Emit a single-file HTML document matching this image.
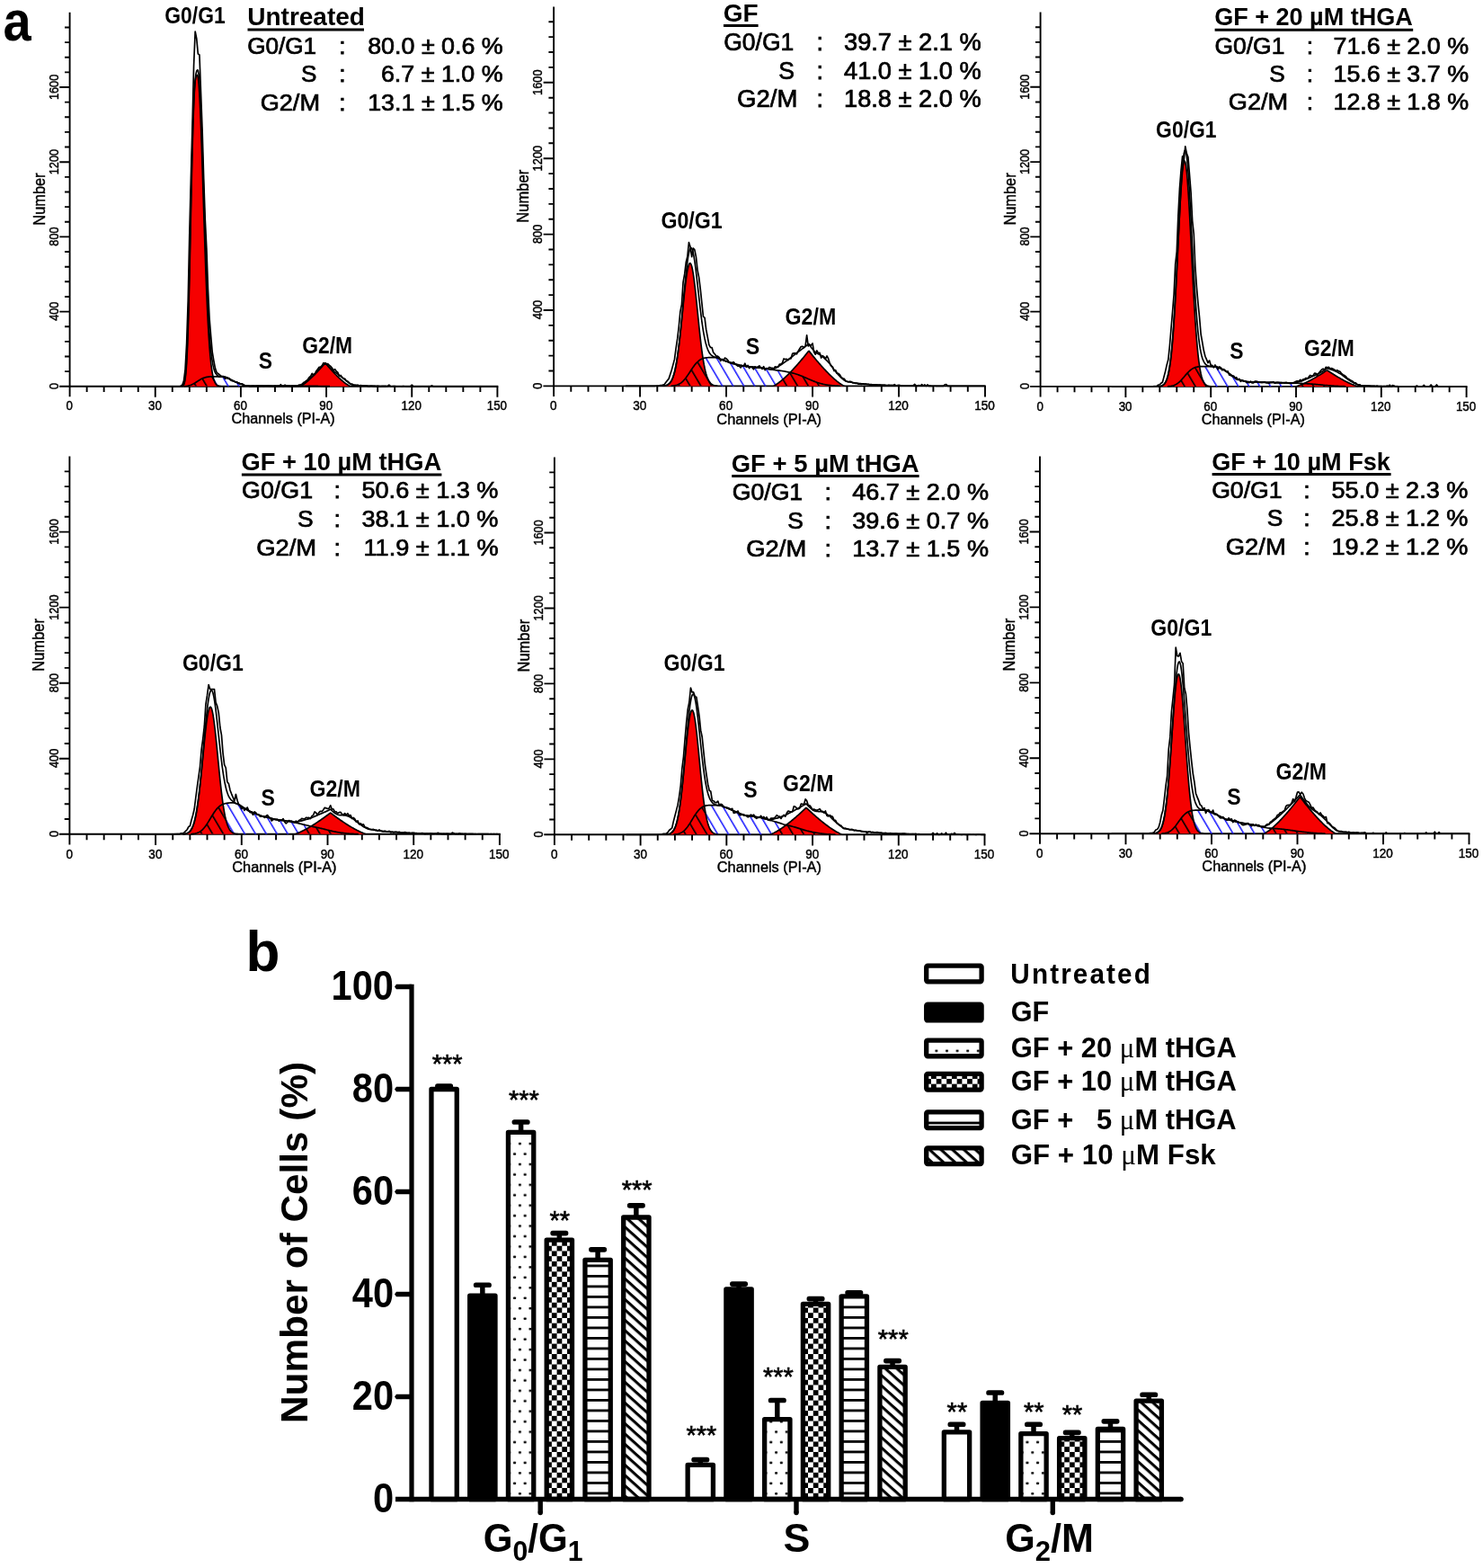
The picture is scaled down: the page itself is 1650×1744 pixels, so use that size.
<!DOCTYPE html>
<html><head><meta charset="utf-8"><title>Cell cycle analysis</title>
<style>html,body{margin:0;padding:0;background:#fff;}svg{display:block;}</style></head>
<body><svg width="1650" height="1744" viewBox="0 0 1650 1744">
<defs><pattern id="hb" patternUnits="userSpaceOnUse" width="10.3" height="60" patternTransform="rotate(-30.5)"><rect x="0" y="0" width="1.55" height="60" fill="#1b1bff"/></pattern>
<pattern id="hk" patternUnits="userSpaceOnUse" width="10.3" height="60" patternTransform="rotate(-30.5)"><rect x="0" y="0" width="1.6" height="60" fill="#000"/></pattern>
<clipPath id="rc0"><path d="M202.1 429.8L202.1 429.63L202.89 429.35L203.69 428.68L204.48 427.27L205.27 424.51L206.07 419.58L206.86 411.44L207.65 399.01L208.44 381.39L209.24 358.14L210.03 329.49L210.82 296.46L211.62 260.73L212.41 224.47L213.2 189.9L214 158.99L214.79 133.17L215.58 113.17L216.37 99.01L217.17 90.12L217.96 85.46L218.75 83.73L219.55 83.48L220.34 85.93L221.13 93.16L221.93 104.89L222.72 120.62L223.51 139.73L224.3 161.49L225.1 185.11L225.89 209.8L226.68 234.78L227.48 259.36L228.27 282.93L229.06 305.03L229.86 325.3L230.65 343.5L231.44 359.54L232.23 373.4L233.03 385.17L233.82 394.98L234.61 403.01L235.41 409.48L236.2 414.61L236.99 418.6L237.79 421.66L238.58 423.97L239.37 425.68L240.16 426.93L240.96 427.83L241.75 428.46L242.54 428.91L243.34 429.21L244.13 429.42L244.92 429.56L245.72 429.65L245.72 429.8Z"/><path d="M333.74 429.8L333.74 429.67L334.53 429.34L335.32 428.94L336.12 428.49L336.91 427.99L337.7 427.47L338.5 426.91L339.29 426.33L340.08 425.73L340.88 425.1L341.67 424.45L342.46 423.79L343.25 423.11L344.05 422.41L344.84 421.69L345.63 420.96L346.43 420.22L347.22 419.46L348.01 418.69L348.81 417.91L349.6 417.12L350.39 416.31L351.18 415.49L351.98 414.66L352.77 413.82L353.56 412.98L354.36 412.12L355.15 411.25L355.94 410.37L356.74 409.48L357.53 408.58L358.32 407.68L359.12 406.76L359.91 405.84L360.7 404.91L361.49 403.97L362.29 404.16L363.08 405.1L363.87 406.03L364.67 406.95L365.46 407.86L366.25 408.76L367.04 409.66L367.84 410.54L368.63 411.42L369.42 412.29L370.22 413.15L371.01 413.99L371.8 414.83L372.6 415.66L373.39 416.47L374.18 417.28L374.98 418.07L375.77 418.85L376.56 419.62L377.35 420.37L378.15 421.11L378.94 421.84L379.73 422.55L380.53 423.24L381.32 423.92L382.11 424.58L382.9 425.23L383.7 425.85L384.49 426.45L385.28 427.02L386.08 427.57L386.87 428.09L387.66 428.58L388.46 429.02L389.25 429.42L389.25 429.8Z"/></clipPath>
<clipPath id="rc1"><path d="M736.87 429.4L736.87 429.26L737.67 429.2L738.47 429.12L739.27 429.01L740.07 428.86L740.87 428.66L741.67 428.4L742.47 428.05L743.27 427.6L744.07 427.02L744.87 426.29L745.67 425.37L746.47 424.22L747.27 422.8L748.07 421.08L748.87 419L749.67 416.52L750.47 413.6L751.27 410.19L752.07 406.27L752.87 401.8L753.67 396.77L754.47 391.17L755.27 385.04L756.07 378.38L756.87 371.28L757.67 363.79L758.47 356.02L759.27 348.09L760.07 340.12L760.87 332.28L761.67 324.73L762.47 317.62L763.27 311.13L764.07 305.42L764.87 300.63L765.67 296.88L766.47 294.28L767.27 292.9L768.07 292.77L768.87 293.91L769.67 296.27L770.47 299.79L771.27 304.38L772.07 309.92L772.87 316.27L773.67 323.26L774.47 330.74L775.27 338.54L776.07 346.49L776.87 354.44L777.67 362.26L778.47 369.81L779.27 377L780.07 383.74L780.87 389.99L781.67 395.69L782.47 400.84L783.27 405.42L784.07 409.45L784.86 412.96L785.66 415.97L786.46 418.54L787.26 420.69L788.06 422.48L788.86 423.96L789.66 425.16L790.46 426.12L791.26 426.89L792.06 427.5L792.86 427.97L793.66 428.34L794.46 428.61L795.26 428.83L796.06 428.98L796.86 429.1L797.66 429.19L798.46 429.25L798.46 429.4Z"/><path d="M860.85 429.4L860.85 429.09L861.65 428.72L862.45 428.3L863.25 427.83L864.05 427.33L864.85 426.8L865.65 426.24L866.45 425.66L867.25 425.05L868.05 424.43L868.85 423.79L869.65 423.13L870.45 422.45L871.25 421.76L872.05 421.05L872.85 420.33L873.65 419.6L874.45 418.85L875.25 418.09L876.05 417.32L876.85 416.54L877.65 415.74L878.45 414.94L879.25 414.12L880.05 413.3L880.84 412.46L881.64 411.61L882.44 410.76L883.24 409.9L884.04 409.02L884.84 408.14L885.64 407.25L886.44 406.35L887.24 405.45L888.04 404.53L888.84 403.61L889.64 402.68L890.44 401.74L891.24 400.8L892.04 399.85L892.84 398.89L893.64 397.92L894.44 396.95L895.24 395.97L896.04 394.98L896.84 393.99L897.64 392.99L898.44 391.98L899.24 390.97L900.04 390.36L900.84 391.37L901.64 392.38L902.44 393.39L903.24 394.38L904.04 395.38L904.84 396.36L905.64 397.34L906.44 398.31L907.24 399.27L908.04 400.23L908.84 401.18L909.64 402.12L910.44 403.05L911.24 403.98L912.04 404.9L912.84 405.81L913.64 406.71L914.44 407.61L915.24 408.49L916.04 409.37L916.84 410.24L917.64 411.1L918.44 411.95L919.24 412.79L920.04 413.63L920.84 414.45L921.64 415.26L922.44 416.06L923.24 416.85L924.04 417.63L924.84 418.4L925.64 419.15L926.44 419.89L927.24 420.62L928.04 421.34L928.83 422.04L929.63 422.72L930.43 423.39L931.23 424.05L932.03 424.68L932.83 425.3L933.63 425.89L934.43 426.47L935.23 427.01L936.03 427.53L936.83 428.02L937.63 428.47L938.43 428.88L939.23 429.22L939.23 429.4Z"/></clipPath>
<clipPath id="rc2"><path d="M1288.74 429.9L1288.74 429.75L1289.53 429.68L1290.32 429.58L1291.11 429.43L1291.9 429.22L1292.69 428.93L1293.48 428.54L1294.27 428L1295.06 427.29L1295.85 426.34L1296.64 425.1L1297.43 423.5L1298.22 421.46L1299.01 418.89L1299.8 415.7L1300.59 411.77L1301.38 407L1302.17 401.29L1302.96 394.55L1303.75 386.68L1304.54 377.64L1305.33 367.39L1306.12 355.93L1306.91 343.32L1307.7 329.66L1308.49 315.09L1309.28 299.82L1310.07 284.12L1310.86 268.28L1311.65 252.66L1312.44 237.62L1313.23 223.56L1314.02 210.87L1314.81 199.9L1315.6 190.99L1316.39 184.42L1317.18 180.39L1317.97 179.03L1318.76 180.39L1319.55 184.42L1320.34 190.99L1321.13 199.9L1321.92 210.87L1322.71 223.56L1323.5 237.62L1324.29 252.66L1325.08 268.28L1325.87 284.12L1326.66 299.82L1327.45 315.09L1328.24 329.66L1329.03 343.32L1329.82 355.93L1330.61 367.39L1331.4 377.64L1332.19 386.68L1332.98 394.55L1333.77 401.29L1334.56 407L1335.35 411.77L1336.14 415.7L1336.93 418.89L1337.72 421.46L1338.51 423.5L1339.3 425.1L1340.09 426.34L1340.88 427.29L1341.67 428L1342.46 428.54L1343.25 428.93L1344.04 429.22L1344.83 429.43L1345.62 429.58L1346.41 429.68L1347.2 429.75L1347.2 429.9Z"/><path d="M1442 429.9L1442 429.74L1442.79 429.54L1443.58 429.31L1444.37 429.07L1445.16 428.8L1445.95 428.52L1446.74 428.22L1447.53 427.91L1448.32 427.59L1449.11 427.25L1449.9 426.91L1450.69 426.56L1451.48 426.2L1452.27 425.83L1453.06 425.46L1453.85 425.07L1454.64 424.68L1455.43 424.28L1456.22 423.88L1457.01 423.47L1457.8 423.05L1458.59 422.63L1459.38 422.2L1460.17 421.77L1460.96 421.33L1461.75 420.88L1462.54 420.43L1463.33 419.98L1464.12 419.52L1464.91 419.05L1465.7 418.58L1466.49 418.11L1467.28 417.63L1468.07 417.15L1468.86 416.66L1469.65 416.17L1470.44 415.68L1471.23 415.18L1472.02 414.67L1472.81 414.17L1473.6 413.66L1474.39 413.14L1475.18 412.62L1475.97 412.1L1476.76 412L1477.55 412.52L1478.34 413.04L1479.13 413.55L1479.92 414.07L1480.71 414.57L1481.5 415.08L1482.29 415.58L1483.08 416.07L1483.87 416.56L1484.66 417.05L1485.45 417.54L1486.24 418.01L1487.03 418.49L1487.82 418.96L1488.61 419.42L1489.4 419.89L1490.19 420.34L1490.98 420.79L1491.77 421.24L1492.56 421.68L1493.35 422.11L1494.14 422.54L1494.93 422.97L1495.72 423.39L1496.51 423.8L1497.3 424.2L1498.09 424.6L1498.88 425L1499.67 425.38L1500.46 425.76L1501.25 426.13L1502.04 426.49L1502.83 426.84L1503.62 427.19L1504.41 427.52L1505.2 427.84L1505.99 428.16L1506.78 428.46L1507.57 428.74L1508.36 429.01L1509.15 429.27L1509.94 429.5L1510.73 429.7L1510.73 429.9Z"/></clipPath>
<clipPath id="rc3"><path d="M203.41 927.8L203.41 927.65L204.2 927.58L205 927.49L205.8 927.37L206.59 927.21L207.39 926.99L208.19 926.7L208.99 926.32L209.78 925.83L210.58 925.2L211.38 924.4L212.18 923.4L212.97 922.16L213.77 920.63L214.57 918.78L215.37 916.55L216.16 913.89L216.96 910.77L217.76 907.14L218.56 902.96L219.35 898.21L220.15 892.89L220.95 886.98L221.75 880.51L222.55 873.52L223.34 866.07L224.14 858.25L224.94 850.16L225.74 841.92L226.53 833.69L227.33 825.61L228.13 817.86L228.93 810.62L229.72 804.04L230.52 798.31L231.32 793.55L232.12 789.9L232.91 787.45L233.71 786.28L234.51 786.41L235.31 787.84L236.1 790.54L236.9 794.42L237.7 799.38L238.5 805.3L239.29 812.02L240.09 819.38L240.89 827.2L241.69 835.33L242.48 843.57L243.28 851.79L244.08 859.84L244.88 867.6L245.67 874.96L246.47 881.85L247.27 888.2L248.06 894L248.86 899.21L249.66 903.84L250.46 907.9L251.25 911.43L252.05 914.46L252.85 917.03L253.65 919.18L254.44 920.96L255.24 922.43L256.04 923.62L256.84 924.58L257.63 925.34L258.43 925.94L259.23 926.4L260.03 926.76L260.82 927.04L261.62 927.24L262.42 927.4L263.22 927.51L264.01 927.6L264.81 927.66L264.81 927.8Z"/><path d="M328.61 927.8L328.61 927.49L329.41 927.25L330.21 926.98L331 926.69L331.8 926.39L332.6 926.06L333.4 925.72L334.2 925.37L334.99 925L335.79 924.63L336.59 924.24L337.38 923.84L338.18 923.44L338.98 923.02L339.78 922.6L340.58 922.17L341.37 921.73L342.17 921.28L342.97 920.82L343.76 920.36L344.56 919.89L345.36 919.42L346.16 918.94L346.96 918.45L347.75 917.96L348.55 917.46L349.35 916.96L350.14 916.45L350.94 915.93L351.74 915.41L352.54 914.89L353.34 914.35L354.13 913.82L354.93 913.28L355.73 912.73L356.52 912.19L357.32 911.63L358.12 911.07L358.92 910.51L359.72 909.94L360.51 909.37L361.31 908.8L362.11 908.22L362.9 907.64L363.7 907.05L364.5 906.46L365.3 905.86L366.1 905.26L366.89 904.66L367.69 904.06L368.49 904.66L369.28 905.26L370.08 905.86L370.88 906.46L371.68 907.05L372.48 907.64L373.27 908.22L374.07 908.8L374.87 909.37L375.66 909.94L376.46 910.51L377.26 911.07L378.06 911.63L378.86 912.19L379.65 912.73L380.45 913.28L381.25 913.82L382.04 914.35L382.84 914.89L383.64 915.41L384.44 915.93L385.24 916.45L386.03 916.96L386.83 917.46L387.63 917.96L388.42 918.45L389.22 918.94L390.02 919.42L390.82 919.89L391.62 920.36L392.41 920.82L393.21 921.28L394.01 921.73L394.8 922.17L395.6 922.6L396.4 923.02L397.2 923.44L398 923.84L398.79 924.24L399.59 924.63L400.39 925L401.18 925.37L401.98 925.72L402.78 926.06L403.58 926.39L404.38 926.69L405.17 926.98L405.97 927.25L406.77 927.49L406.77 927.8Z"/></clipPath>
<clipPath id="rc4"><path d="M740.54 928.3L740.54 928.15L741.34 928.09L742.13 928L742.93 927.87L743.73 927.7L744.53 927.47L745.32 927.17L746.12 926.76L746.92 926.24L747.72 925.56L748.51 924.69L749.31 923.59L750.11 922.22L750.91 920.54L751.71 918.48L752.5 916L753.3 913.04L754.1 909.57L754.9 905.54L755.69 900.91L756.49 895.67L757.29 889.81L758.09 883.35L758.88 876.34L759.68 868.82L760.48 860.9L761.28 852.68L762.08 844.31L762.87 835.93L763.67 827.73L764.47 819.89L765.27 812.61L766.06 806.07L766.86 800.44L767.66 795.88L768.46 792.53L769.25 790.47L770.05 789.78L770.85 790.47L771.65 792.53L772.44 795.88L773.24 800.44L774.04 806.07L774.84 812.61L775.64 819.89L776.43 827.73L777.23 835.93L778.03 844.31L778.83 852.68L779.62 860.9L780.42 868.82L781.22 876.34L782.02 883.35L782.81 889.81L783.61 895.67L784.41 900.91L785.21 905.54L786.01 909.57L786.8 913.04L787.6 916L788.4 918.48L789.2 920.54L789.99 922.22L790.79 923.59L791.59 924.69L792.39 925.56L793.18 926.24L793.98 926.76L794.78 927.17L795.58 927.47L796.38 927.7L797.17 927.87L797.97 928L798.77 928.09L799.57 928.15L799.57 928.3Z"/><path d="M857 928.3L857 928.12L857.8 927.86L858.59 927.55L859.39 927.21L860.19 926.84L860.99 926.45L861.78 926.04L862.58 925.61L863.38 925.17L864.18 924.71L864.97 924.24L865.77 923.75L866.57 923.25L867.37 922.74L868.16 922.22L868.96 921.68L869.76 921.14L870.56 920.59L871.36 920.03L872.15 919.46L872.95 918.88L873.75 918.29L874.55 917.7L875.34 917.09L876.14 916.48L876.94 915.86L877.74 915.24L878.53 914.61L879.33 913.97L880.13 913.32L880.93 912.67L881.73 912.01L882.52 911.34L883.32 910.67L884.12 910L884.92 909.31L885.71 908.63L886.51 907.93L887.31 907.23L888.11 906.53L888.9 905.82L889.7 905.1L890.5 904.38L891.3 903.65L892.1 902.92L892.89 902.19L893.69 901.45L894.49 900.7L895.29 899.95L896.08 899.2L896.88 898.44L897.68 898.9L898.48 899.65L899.27 900.4L900.07 901.15L900.87 901.89L901.67 902.63L902.46 903.36L903.26 904.09L904.06 904.81L904.86 905.53L905.66 906.24L906.45 906.95L907.25 907.65L908.05 908.35L908.85 909.04L909.64 909.72L910.44 910.4L911.24 911.08L912.04 911.74L912.83 912.41L913.63 913.06L914.43 913.71L915.23 914.35L916.03 914.99L916.82 915.61L917.62 916.23L918.42 916.85L919.22 917.46L920.01 918.05L920.81 918.64L921.61 919.23L922.41 919.8L923.2 920.37L924 920.92L924.8 921.47L925.6 922L926.39 922.53L927.19 923.05L927.99 923.55L928.79 924.04L929.59 924.52L930.38 924.99L931.18 925.44L931.98 925.87L932.78 926.29L933.57 926.69L934.37 927.06L935.17 927.42L935.97 927.74L936.76 928.02L936.76 928.3Z"/></clipPath>
<clipPath id="rc5"><path d="M1283.54 927.2L1283.54 927.01L1284.33 926.92L1285.13 926.8L1285.92 926.62L1286.72 926.37L1287.52 926.04L1288.31 925.58L1289.11 924.97L1289.9 924.16L1290.7 923.1L1291.5 921.74L1292.29 920.01L1293.09 917.84L1293.88 915.16L1294.68 911.87L1295.47 907.91L1296.27 903.2L1297.07 897.68L1297.86 891.29L1298.66 884.01L1299.45 875.84L1300.25 866.81L1301.05 857L1301.84 846.5L1302.64 835.49L1303.43 824.15L1304.23 812.7L1305.03 801.42L1305.82 790.58L1306.62 780.48L1307.41 771.41L1308.21 763.63L1309 757.4L1309.8 752.92L1310.6 750.34L1311.39 749.74L1312.19 751.14L1312.98 754.5L1313.78 759.7L1314.58 766.57L1315.37 774.89L1316.17 784.41L1316.96 794.84L1317.76 805.9L1318.55 817.28L1319.35 828.71L1320.15 839.95L1320.94 850.77L1321.74 861.01L1322.53 870.52L1323.33 879.21L1324.12 887.03L1324.92 893.95L1325.72 899.99L1326.51 905.18L1327.31 909.58L1328.1 913.26L1328.9 916.3L1329.7 918.77L1330.49 920.75L1331.29 922.33L1332.08 923.56L1332.88 924.51L1333.67 925.23L1334.47 925.78L1335.27 926.18L1336.06 926.48L1336.86 926.7L1337.65 926.85L1338.45 926.96L1339.25 927.04L1339.25 927.2Z"/><path d="M1406.89 927.2L1406.89 926.89L1407.69 926.51L1408.48 926.08L1409.28 925.6L1410.08 925.09L1410.87 924.54L1411.67 923.97L1412.46 923.38L1413.26 922.76L1414.05 922.13L1414.85 921.47L1415.65 920.8L1416.44 920.1L1417.24 919.4L1418.03 918.68L1418.83 917.94L1419.62 917.19L1420.42 916.43L1421.22 915.65L1422.01 914.86L1422.81 914.06L1423.6 913.25L1424.4 912.43L1425.2 911.6L1425.99 910.75L1426.79 909.9L1427.58 909.04L1428.38 908.16L1429.17 907.28L1429.97 906.39L1430.77 905.49L1431.56 904.58L1432.36 903.66L1433.15 902.74L1433.95 901.8L1434.75 900.86L1435.54 899.91L1436.34 898.96L1437.13 897.99L1437.93 897.02L1438.72 896.04L1439.52 895.05L1440.32 894.06L1441.11 893.06L1441.91 892.05L1442.7 891.04L1443.5 890.02L1444.3 888.99L1445.09 887.95L1445.89 886.91L1446.68 886.7L1447.48 887.75L1448.28 888.78L1449.07 889.81L1449.87 890.83L1450.66 891.85L1451.46 892.86L1452.25 893.86L1453.05 894.85L1453.85 895.84L1454.64 896.82L1455.44 897.8L1456.23 898.76L1457.03 899.72L1457.83 900.67L1458.62 901.62L1459.42 902.55L1460.21 903.48L1461.01 904.4L1461.8 905.31L1462.6 906.21L1463.4 907.1L1464.19 907.99L1464.99 908.86L1465.78 909.73L1466.58 910.58L1467.38 911.43L1468.17 912.26L1468.97 913.09L1469.76 913.9L1470.56 914.7L1471.35 915.49L1472.15 916.27L1472.95 917.04L1473.74 917.79L1474.54 918.53L1475.33 919.25L1476.13 919.96L1476.92 920.66L1477.72 921.34L1478.52 922L1479.31 922.64L1480.11 923.26L1480.9 923.86L1481.7 924.43L1482.5 924.98L1483.29 925.5L1484.09 925.98L1484.88 926.43L1485.68 926.82L1485.68 927.2Z"/></clipPath>
<pattern id="p02" patternUnits="userSpaceOnUse" x="576.9" y="1660.1" width="11.6" height="22.9"><rect x="0" y="0" width="3" height="2.6" rx="0.8" fill="#000"/><rect x="5.75" y="11.45" width="3" height="2.6" rx="0.8" fill="#000"/></pattern>
<pattern id="p03" patternUnits="userSpaceOnUse" x="613.85" y="1666.5" width="11.46" height="11.46"><rect x="0" y="0" width="5.73" height="5.73" fill="#000"/><rect x="5.73" y="5.73" width="5.73" height="5.73" fill="#000"/></pattern>
<pattern id="p04" patternUnits="userSpaceOnUse" x="653.6" y="1659.5" width="40" height="11.5"><rect x="0" y="0" width="40" height="2.8" fill="#000"/></pattern>
<pattern id="p05" patternUnits="userSpaceOnUse" x="696.35" y="1667.5" width="60" height="8.55" patternTransform="rotate(42)"><rect x="0" y="0" width="60" height="3.1" fill="#000"/></pattern>
<pattern id="p12" patternUnits="userSpaceOnUse" x="862.1" y="1660.1" width="11.6" height="22.9"><rect x="0" y="0" width="3" height="2.6" rx="0.8" fill="#000"/><rect x="5.75" y="11.45" width="3" height="2.6" rx="0.8" fill="#000"/></pattern>
<pattern id="p13" patternUnits="userSpaceOnUse" x="899.05" y="1666.5" width="11.46" height="11.46"><rect x="0" y="0" width="5.73" height="5.73" fill="#000"/><rect x="5.73" y="5.73" width="5.73" height="5.73" fill="#000"/></pattern>
<pattern id="p14" patternUnits="userSpaceOnUse" x="938.8" y="1659.5" width="40" height="11.5"><rect x="0" y="0" width="40" height="2.8" fill="#000"/></pattern>
<pattern id="p15" patternUnits="userSpaceOnUse" x="981.55" y="1667.5" width="60" height="8.55" patternTransform="rotate(42)"><rect x="0" y="0" width="60" height="3.1" fill="#000"/></pattern>
<pattern id="p22" patternUnits="userSpaceOnUse" x="1147.3" y="1660.1" width="11.6" height="22.9"><rect x="0" y="0" width="3" height="2.6" rx="0.8" fill="#000"/><rect x="5.75" y="11.45" width="3" height="2.6" rx="0.8" fill="#000"/></pattern>
<pattern id="p23" patternUnits="userSpaceOnUse" x="1184.25" y="1666.5" width="11.46" height="11.46"><rect x="0" y="0" width="5.73" height="5.73" fill="#000"/><rect x="5.73" y="5.73" width="5.73" height="5.73" fill="#000"/></pattern>
<pattern id="p24" patternUnits="userSpaceOnUse" x="1224" y="1659.5" width="40" height="11.5"><rect x="0" y="0" width="40" height="2.8" fill="#000"/></pattern>
<pattern id="p25" patternUnits="userSpaceOnUse" x="1266.75" y="1667.5" width="60" height="8.55" patternTransform="rotate(42)"><rect x="0" y="0" width="60" height="3.1" fill="#000"/></pattern>
<pattern id="lp2" patternUnits="userSpaceOnUse" x="1040.4" y="1167.6" width="11.6" height="22.9"><rect x="0" y="0" width="3" height="2.6" rx="0.8" fill="#000"/><rect x="5.75" y="11.45" width="3" height="2.6" rx="0.8" fill="#000"/></pattern>
<pattern id="lp3" patternUnits="userSpaceOnUse" x="1036" y="1194.2" width="11.46" height="11.46"><rect x="0" y="0" width="5.73" height="5.73" fill="#000"/><rect x="5.73" y="5.73" width="5.73" height="5.73" fill="#000"/></pattern>
<pattern id="lp4" patternUnits="userSpaceOnUse" x="1030" y="1247.6" width="40" height="11.5"><rect x="0" y="0" width="40" height="2.8" fill="#000"/></pattern>
<pattern id="lp5" patternUnits="userSpaceOnUse" x="1030" y="1274.2" width="60" height="8.55" patternTransform="rotate(42)"><rect x="0" y="0" width="60" height="3.1" fill="#000"/></pattern></defs>
<rect width="1650" height="1744" fill="#fff"/>
<g stroke="#000" stroke-width="1.9" fill="none">
<path d="M77.6 13.8V441.3"/>
<path d="M66.1 429.8H554.35"/>
<path d="M96.63 429.8v6.3M115.66 429.8v6.3M134.7 429.8v6.3M153.73 429.8v6.3M172.76 429.8v12M191.79 429.8v6.3M210.82 429.8v6.3M229.86 429.8v6.3M248.89 429.8v6.3M267.92 429.8v12M286.95 429.8v6.3M305.98 429.8v6.3M325.02 429.8v6.3M344.05 429.8v6.3M363.08 429.8v12M382.11 429.8v6.3M401.14 429.8v6.3M420.18 429.8v6.3M439.21 429.8v6.3M458.24 429.8v12M477.27 429.8v6.3M496.3 429.8v6.3M515.34 429.8v6.3M534.37 429.8v6.3M553.4 429.8v12"/>
<path d="M77.6 413.16h-5.6M77.6 396.52h-5.6M77.6 379.88h-5.6M77.6 363.24h-5.6M77.6 346.6h-11.3M77.6 329.96h-5.6M77.6 313.32h-5.6M77.6 296.68h-5.6M77.6 280.04h-5.6M77.6 263.4h-11.3M77.6 246.76h-5.6M77.6 230.12h-5.6M77.6 213.48h-5.6M77.6 196.84h-5.6M77.6 180.2h-11.3M77.6 163.56h-5.6M77.6 146.92h-5.6M77.6 130.28h-5.6M77.6 113.64h-5.6M77.6 97h-11.3M77.6 80.36h-5.6M77.6 63.72h-5.6M77.6 47.08h-5.6M77.6 30.44h-5.6"/>
</g>
<path d="M204.48 429.8L204.48 429.66L205.27 429.62L206.07 429.55L206.86 429.48L207.65 429.38L208.44 429.25L209.24 429.1L210.03 428.92L210.82 428.71L211.62 428.46L212.41 428.18L213.2 427.86L214 427.5L214.79 427.11L215.58 426.68L216.37 426.22L217.17 425.74L217.96 425.23L218.75 424.72L219.55 424.19L220.34 423.67L221.13 423.16L221.93 422.67L222.72 422.2L223.51 421.76L224.3 421.35L225.1 420.97L225.89 420.64L226.68 420.34L227.48 420.07L228.27 419.83L229.06 419.62L229.86 419.45L230.65 419.3L231.44 419.18L232.23 419.09L233.03 419.01L233.82 418.95L234.61 418.91L235.41 418.87L236.2 418.84L236.99 418.82L237.79 418.81L238.58 418.84L239.37 418.87L240.16 418.9L240.96 418.94L241.75 418.97L242.54 419.01L243.34 419.04L244.13 419.08L244.92 419.12L245.72 419.16L246.51 419.19L247.3 419.23L248.09 419.27L248.89 419.31L249.68 419.35L250.47 419.38L251.27 419.63L252.06 420.01L252.85 420.39L253.65 420.78L254.44 421.16L255.23 421.54L256.02 421.92L256.82 422.31L257.61 422.69L258.4 423.07L259.2 423.45L259.99 423.84L260.78 424.22L261.58 424.6L262.37 424.9L263.16 425.19L263.95 425.49L264.75 425.79L265.54 426.09L266.33 426.38L267.13 426.68L267.92 426.98L268.71 427.27L269.51 427.57L270.3 427.87L271.09 428.17L271.88 428.46L272.68 428.76L273.47 428.86L274.26 428.97L275.06 429.07L275.85 429.18L276.64 429.28L277.44 429.38L278.23 429.38L279.02 429.38L279.81 429.38L280.61 429.38L281.4 429.38L282.19 429.38L282.99 429.38L283.78 429.38L284.57 429.38L285.37 429.38L286.16 429.38L286.95 429.38L287.75 429.38L288.54 429.38L289.33 429.38L290.12 429.38L290.92 429.38L291.71 429.38L292.5 429.38L293.3 429.38L294.09 429.38L294.88 429.38L295.67 429.38L296.47 429.38L297.26 429.38L298.05 429.38L298.85 429.38L299.64 429.38L300.43 429.38L301.23 429.38L302.02 429.38L302.81 429.38L303.6 429.38L304.4 429.38L305.19 429.38L305.98 429.38L306.78 429.38L307.57 429.38L308.36 429.38L309.16 429.38L309.95 429.38L310.74 429.38L311.53 429.38L312.33 429.38L313.12 429.38L313.91 429.38L314.71 429.38L315.5 429.38L316.29 429.38L317.09 429.38L317.88 429.38L318.67 429.38L319.46 429.38L320.26 429.38L321.05 429.38L321.84 429.38L322.64 429.38L323.43 429.38L324.22 429.38L325.02 429.38L325.81 429.38L326.6 429.38L327.39 429.38L328.19 429.38L328.98 429.38L329.77 429.38L330.57 429.38L331.36 429.38L332.15 429.39L332.95 429.39L333.74 429.39L334.53 429.39L335.32 429.39L336.12 429.39L336.91 429.39L337.7 429.39L338.5 429.39L339.29 429.39L340.08 429.39L340.88 429.39L341.67 429.4L342.46 429.4L343.25 429.4L344.05 429.4L344.84 429.41L345.63 429.41L346.43 429.41L347.22 429.42L348.01 429.42L348.81 429.43L349.6 429.44L350.39 429.44L351.18 429.45L351.98 429.46L352.77 429.47L353.56 429.47L354.36 429.48L355.15 429.49L355.94 429.5L356.74 429.52L357.53 429.53L358.32 429.54L359.12 429.55L359.91 429.56L360.7 429.57L361.49 429.59L362.29 429.6L363.08 429.61L363.87 429.62L364.67 429.64L365.46 429.65L366.25 429.66L367.04 429.67L367.04 429.8Z" fill="url(#hb)"/>
<path d="M202.1 429.8L202.1 429.63L202.89 429.35L203.69 428.68L204.48 427.27L205.27 424.51L206.07 419.58L206.86 411.44L207.65 399.01L208.44 381.39L209.24 358.14L210.03 329.49L210.82 296.46L211.62 260.73L212.41 224.47L213.2 189.9L214 158.99L214.79 133.17L215.58 113.17L216.37 99.01L217.17 90.12L217.96 85.46L218.75 83.73L219.55 83.48L220.34 85.93L221.13 93.16L221.93 104.89L222.72 120.62L223.51 139.73L224.3 161.49L225.1 185.11L225.89 209.8L226.68 234.78L227.48 259.36L228.27 282.93L229.06 305.03L229.86 325.3L230.65 343.5L231.44 359.54L232.23 373.4L233.03 385.17L233.82 394.98L234.61 403.01L235.41 409.48L236.2 414.61L236.99 418.6L237.79 421.66L238.58 423.97L239.37 425.68L240.16 426.93L240.96 427.83L241.75 428.46L242.54 428.91L243.34 429.21L244.13 429.42L244.92 429.56L245.72 429.65L245.72 429.8Z" fill="#f60000"/>
<path d="M333.74 429.8L333.74 429.67L334.53 429.34L335.32 428.94L336.12 428.49L336.91 427.99L337.7 427.47L338.5 426.91L339.29 426.33L340.08 425.73L340.88 425.1L341.67 424.45L342.46 423.79L343.25 423.11L344.05 422.41L344.84 421.69L345.63 420.96L346.43 420.22L347.22 419.46L348.01 418.69L348.81 417.91L349.6 417.12L350.39 416.31L351.18 415.49L351.98 414.66L352.77 413.82L353.56 412.98L354.36 412.12L355.15 411.25L355.94 410.37L356.74 409.48L357.53 408.58L358.32 407.68L359.12 406.76L359.91 405.84L360.7 404.91L361.49 403.97L362.29 404.16L363.08 405.1L363.87 406.03L364.67 406.95L365.46 407.86L366.25 408.76L367.04 409.66L367.84 410.54L368.63 411.42L369.42 412.29L370.22 413.15L371.01 413.99L371.8 414.83L372.6 415.66L373.39 416.47L374.18 417.28L374.98 418.07L375.77 418.85L376.56 419.62L377.35 420.37L378.15 421.11L378.94 421.84L379.73 422.55L380.53 423.24L381.32 423.92L382.11 424.58L382.9 425.23L383.7 425.85L384.49 426.45L385.28 427.02L386.08 427.57L386.87 428.09L387.66 428.58L388.46 429.02L389.25 429.42L389.25 429.8Z" fill="#f60000"/>
<path d="M204.48 429.8L204.48 429.66L205.27 429.62L206.07 429.55L206.86 429.48L207.65 429.38L208.44 429.25L209.24 429.1L210.03 428.92L210.82 428.71L211.62 428.46L212.41 428.18L213.2 427.86L214 427.5L214.79 427.11L215.58 426.68L216.37 426.22L217.17 425.74L217.96 425.23L218.75 424.72L219.55 424.19L220.34 423.67L221.13 423.16L221.93 422.67L222.72 422.2L223.51 421.76L224.3 421.35L225.1 420.97L225.89 420.64L226.68 420.34L227.48 420.07L228.27 419.83L229.06 419.62L229.86 419.45L230.65 419.3L231.44 419.18L232.23 419.09L233.03 419.01L233.82 418.95L234.61 418.91L235.41 418.87L236.2 418.84L236.99 418.82L237.79 418.81L238.58 418.84L239.37 418.87L240.16 418.9L240.96 418.94L241.75 418.97L242.54 419.01L243.34 419.04L244.13 419.08L244.92 419.12L245.72 419.16L246.51 419.19L247.3 419.23L248.09 419.27L248.89 419.31L249.68 419.35L250.47 419.38L251.27 419.63L252.06 420.01L252.85 420.39L253.65 420.78L254.44 421.16L255.23 421.54L256.02 421.92L256.82 422.31L257.61 422.69L258.4 423.07L259.2 423.45L259.99 423.84L260.78 424.22L261.58 424.6L262.37 424.9L263.16 425.19L263.95 425.49L264.75 425.79L265.54 426.09L266.33 426.38L267.13 426.68L267.92 426.98L268.71 427.27L269.51 427.57L270.3 427.87L271.09 428.17L271.88 428.46L272.68 428.76L273.47 428.86L274.26 428.97L275.06 429.07L275.85 429.18L276.64 429.28L277.44 429.38L278.23 429.38L279.02 429.38L279.81 429.38L280.61 429.38L281.4 429.38L282.19 429.38L282.99 429.38L283.78 429.38L284.57 429.38L285.37 429.38L286.16 429.38L286.95 429.38L287.75 429.38L288.54 429.38L289.33 429.38L290.12 429.38L290.92 429.38L291.71 429.38L292.5 429.38L293.3 429.38L294.09 429.38L294.88 429.38L295.67 429.38L296.47 429.38L297.26 429.38L298.05 429.38L298.85 429.38L299.64 429.38L300.43 429.38L301.23 429.38L302.02 429.38L302.81 429.38L303.6 429.38L304.4 429.38L305.19 429.38L305.98 429.38L306.78 429.38L307.57 429.38L308.36 429.38L309.16 429.38L309.95 429.38L310.74 429.38L311.53 429.38L312.33 429.38L313.12 429.38L313.91 429.38L314.71 429.38L315.5 429.38L316.29 429.38L317.09 429.38L317.88 429.38L318.67 429.38L319.46 429.38L320.26 429.38L321.05 429.38L321.84 429.38L322.64 429.38L323.43 429.38L324.22 429.38L325.02 429.38L325.81 429.38L326.6 429.38L327.39 429.38L328.19 429.38L328.98 429.38L329.77 429.38L330.57 429.38L331.36 429.38L332.15 429.39L332.95 429.39L333.74 429.39L334.53 429.39L335.32 429.39L336.12 429.39L336.91 429.39L337.7 429.39L338.5 429.39L339.29 429.39L340.08 429.39L340.88 429.39L341.67 429.4L342.46 429.4L343.25 429.4L344.05 429.4L344.84 429.41L345.63 429.41L346.43 429.41L347.22 429.42L348.01 429.42L348.81 429.43L349.6 429.44L350.39 429.44L351.18 429.45L351.98 429.46L352.77 429.47L353.56 429.47L354.36 429.48L355.15 429.49L355.94 429.5L356.74 429.52L357.53 429.53L358.32 429.54L359.12 429.55L359.91 429.56L360.7 429.57L361.49 429.59L362.29 429.6L363.08 429.61L363.87 429.62L364.67 429.64L365.46 429.65L366.25 429.66L367.04 429.67L367.04 429.8Z" fill="url(#hk)" clip-path="url(#rc0)"/>
<g fill="none" stroke="#000" stroke-width="1.7" stroke-linejoin="round">
<path d="M202.1 429.63L202.89 429.35L203.69 428.68L204.48 427.27L205.27 424.51L206.07 419.58L206.86 411.44L207.65 399.01L208.44 381.39L209.24 358.14L210.03 329.49L210.82 296.46L211.62 260.73L212.41 224.47L213.2 189.9L214 158.99L214.79 133.17L215.58 113.17L216.37 99.01L217.17 90.12L217.96 85.46L218.75 83.73L219.55 83.48L220.34 85.93L221.13 93.16L221.93 104.89L222.72 120.62L223.51 139.73L224.3 161.49L225.1 185.11L225.89 209.8L226.68 234.78L227.48 259.36L228.27 282.93L229.06 305.03L229.86 325.3L230.65 343.5L231.44 359.54L232.23 373.4L233.03 385.17L233.82 394.98L234.61 403.01L235.41 409.48L236.2 414.61L236.99 418.6L237.79 421.66L238.58 423.97L239.37 425.68L240.16 426.93L240.96 427.83L241.75 428.46L242.54 428.91L243.34 429.21L244.13 429.42L244.92 429.56L245.72 429.65"/>
<path d="M333.74 429.67L334.53 429.34L335.32 428.94L336.12 428.49L336.91 427.99L337.7 427.47L338.5 426.91L339.29 426.33L340.08 425.73L340.88 425.1L341.67 424.45L342.46 423.79L343.25 423.11L344.05 422.41L344.84 421.69L345.63 420.96L346.43 420.22L347.22 419.46L348.01 418.69L348.81 417.91L349.6 417.12L350.39 416.31L351.18 415.49L351.98 414.66L352.77 413.82L353.56 412.98L354.36 412.12L355.15 411.25L355.94 410.37L356.74 409.48L357.53 408.58L358.32 407.68L359.12 406.76L359.91 405.84L360.7 404.91L361.49 403.97L362.29 404.16L363.08 405.1L363.87 406.03L364.67 406.95L365.46 407.86L366.25 408.76L367.04 409.66L367.84 410.54L368.63 411.42L369.42 412.29L370.22 413.15L371.01 413.99L371.8 414.83L372.6 415.66L373.39 416.47L374.18 417.28L374.98 418.07L375.77 418.85L376.56 419.62L377.35 420.37L378.15 421.11L378.94 421.84L379.73 422.55L380.53 423.24L381.32 423.92L382.11 424.58L382.9 425.23L383.7 425.85L384.49 426.45L385.28 427.02L386.08 427.57L386.87 428.09L387.66 428.58L388.46 429.02L389.25 429.42"/>
<path d="M204.48 429.66L205.27 429.62L206.07 429.55L206.86 429.48L207.65 429.38L208.44 429.25L209.24 429.1L210.03 428.92L210.82 428.71L211.62 428.46L212.41 428.18L213.2 427.86L214 427.5L214.79 427.11L215.58 426.68L216.37 426.22L217.17 425.74L217.96 425.23L218.75 424.72L219.55 424.19L220.34 423.67L221.13 423.16L221.93 422.67L222.72 422.2L223.51 421.76L224.3 421.35L225.1 420.97L225.89 420.64L226.68 420.34L227.48 420.07L228.27 419.83L229.06 419.62L229.86 419.45L230.65 419.3L231.44 419.18L232.23 419.09L233.03 419.01L233.82 418.95L234.61 418.91L235.41 418.87L236.2 418.84L236.99 418.82L237.79 418.81L238.58 418.84L239.37 418.87L240.16 418.9L240.96 418.94L241.75 418.97L242.54 419.01L243.34 419.04L244.13 419.08L244.92 419.12L245.72 419.16L246.51 419.19L247.3 419.23L248.09 419.27L248.89 419.31L249.68 419.35L250.47 419.38L251.27 419.63L252.06 420.01L252.85 420.39L253.65 420.78L254.44 421.16L255.23 421.54L256.02 421.92L256.82 422.31L257.61 422.69L258.4 423.07L259.2 423.45L259.99 423.84L260.78 424.22L261.58 424.6L262.37 424.9L263.16 425.19L263.95 425.49L264.75 425.79L265.54 426.09L266.33 426.38L267.13 426.68L267.92 426.98L268.71 427.27L269.51 427.57L270.3 427.87L271.09 428.17L271.88 428.46L272.68 428.76L273.47 428.86L274.26 428.97L275.06 429.07L275.85 429.18L276.64 429.28L277.44 429.38L278.23 429.38L279.02 429.38L279.81 429.38L280.61 429.38L281.4 429.38L282.19 429.38L282.99 429.38L283.78 429.38L284.57 429.38L285.37 429.38L286.16 429.38L286.95 429.38L287.75 429.38L288.54 429.38L289.33 429.38L290.12 429.38L290.92 429.38L291.71 429.38L292.5 429.38L293.3 429.38L294.09 429.38L294.88 429.38L295.67 429.38L296.47 429.38L297.26 429.38L298.05 429.38L298.85 429.38L299.64 429.38L300.43 429.38L301.23 429.38L302.02 429.38L302.81 429.38L303.6 429.38L304.4 429.38L305.19 429.38L305.98 429.38L306.78 429.38L307.57 429.38L308.36 429.38L309.16 429.38L309.95 429.38L310.74 429.38L311.53 429.38L312.33 429.38L313.12 429.38L313.91 429.38L314.71 429.38L315.5 429.38L316.29 429.38L317.09 429.38L317.88 429.38L318.67 429.38L319.46 429.38L320.26 429.38L321.05 429.38L321.84 429.38L322.64 429.38L323.43 429.38L324.22 429.38L325.02 429.38L325.81 429.38L326.6 429.38L327.39 429.38L328.19 429.38L328.98 429.38L329.77 429.38L330.57 429.38L331.36 429.38L332.15 429.39L332.95 429.39L333.74 429.39L334.53 429.39L335.32 429.39L336.12 429.39L336.91 429.39L337.7 429.39L338.5 429.39L339.29 429.39L340.08 429.39L340.88 429.39L341.67 429.4L342.46 429.4L343.25 429.4L344.05 429.4L344.84 429.41L345.63 429.41L346.43 429.41L347.22 429.42L348.01 429.42L348.81 429.43L349.6 429.44L350.39 429.44L351.18 429.45L351.98 429.46L352.77 429.47L353.56 429.47L354.36 429.48L355.15 429.49L355.94 429.5L356.74 429.52L357.53 429.53L358.32 429.54L359.12 429.55L359.91 429.56L360.7 429.57L361.49 429.59L362.29 429.6L363.08 429.61L363.87 429.62L364.67 429.64L365.46 429.65L366.25 429.66L367.04 429.67"/>
<path d="M202.1 429.64L202.89 429.42L203.69 428.91L204.48 427.82L205.27 425.64L206.07 421.63L206.86 414.83L207.65 404.14L208.44 388.56L209.24 367.42L210.03 340.67L210.82 309.01L211.62 273.88L212.41 237.28L213.2 201.45L214 168.51L214.79 140.14L215.58 117.34L216.37 100.42L217.17 89.04L217.96 82.33L218.75 79.08L219.55 77.89L220.34 78.24L221.13 83.07L221.93 92.56L222.72 106.28L223.51 123.68L224.3 144.07L225.1 166.67L225.89 190.69L226.68 215.34L227.48 239.88L228.27 263.68L229.06 286.22L229.86 307.07L230.65 325.98L231.44 342.77L232.23 357.4L233.03 369.92L233.82 380.43L234.61 389.1L235.41 396.14L236.2 401.75L236.99 406.15L237.79 409.54L238.58 412.16L239.37 414.12L240.16 415.58L240.96 416.64L241.75 417.41L242.54 417.96L243.34 418.35L244.13 418.63L244.92 418.83L245.72 418.97L246.51 419.08L247.3 419.16L248.09 419.23L248.89 419.28L249.68 419.33L250.47 419.38L251.27 419.62L252.06 420.01L252.85 420.39L253.65 420.78L254.44 421.16L255.23 421.54L256.02 421.92L256.82 422.31L257.61 422.69L258.4 423.07L259.2 423.45L259.99 423.84L260.78 424.22L261.58 424.6L262.37 424.9L263.16 425.19L263.95 425.49L264.75 425.79L265.54 426.09L266.33 426.38L267.13 426.68L267.92 426.98L268.71 427.27L269.51 427.57L270.3 427.87L271.09 428.17L271.88 428.46L272.68 428.76L273.47 428.86L274.26 428.97L275.06 429.07L275.85 429.18L276.64 429.28L277.44 429.38L278.23 429.38L279.02 429.38L279.81 429.38L280.61 429.38L281.4 429.38L282.19 429.38L282.99 429.38L283.78 429.38L284.57 429.38L285.37 429.38L286.16 429.38L286.95 429.38L287.75 429.38L288.54 429.38L289.33 429.38L290.12 429.38L290.92 429.38L291.71 429.38L292.5 429.38L293.3 429.38L294.09 429.38L294.88 429.38L295.67 429.38L296.47 429.38L297.26 429.38L298.05 429.38L298.85 429.38L299.64 429.38L300.43 429.38L301.23 429.38L302.02 429.38L302.81 429.38L303.6 429.38L304.4 429.38L305.19 429.38L305.98 429.38L306.78 429.38L307.57 429.38L308.36 429.38L309.16 429.38L309.95 429.38L310.74 429.38L311.53 429.38L312.33 429.38L313.12 429.38L313.91 429.38L314.71 429.38L315.5 429.38L316.29 429.38L317.09 429.38L317.88 429.38L318.67 429.38L319.46 429.38L320.26 429.38L321.05 429.38L321.84 429.38L322.64 429.38L323.43 429.38L324.22 429.38L325.02 429.38L325.81 429.38L326.6 429.38L327.39 429.38L328.19 429.38L328.98 429.38L329.77 429.38L330.57 429.38L331.36 429.38L332.15 429.38L332.95 429.14L333.74 428.79L334.53 428.38L335.32 427.94L336.12 427.45L336.91 426.94L337.7 426.4L338.5 425.84L339.29 425.26L340.08 424.66L340.88 424.04L341.67 423.4L342.46 422.75L343.25 422.08L344.05 421.4L344.84 420.7L345.63 419.99L346.43 419.27L347.22 418.54L348.01 417.79L348.81 417.04L349.6 416.28L350.39 415.5L351.18 414.72L351.98 413.92L352.77 413.12L353.56 412.31L354.36 411.49L355.15 410.66L355.94 409.82L356.74 408.97L357.53 408.12L358.32 407.26L359.12 406.39L359.91 405.51L360.7 404.62L361.49 403.71L362.29 403.89L363.08 404.78L363.87 405.66L364.67 406.52L365.46 407.35L366.25 408.16L367.04 408.95L367.84 409.71L368.63 410.44L369.42 411.14L370.22 411.81L371.01 412.46L371.8 413.09L372.6 413.71L373.39 414.31L374.18 414.91L374.98 415.51L375.77 416.11L376.56 416.71L377.35 417.32L378.15 417.94L378.94 418.57L379.73 419.19L380.53 419.82L381.32 420.45L382.11 421.08L382.9 421.69L383.7 422.3L384.49 422.89L385.28 423.45L386.08 424.17L386.87 424.85L387.66 425.5L388.46 426.11L389.25 426.68L390.04 427.19L390.83 427.64L391.63 427.93L392.42 428.03L393.21 428.13L394.01 428.22L394.8 428.3L395.59 428.39L396.39 428.46L397.18 428.53L397.97 428.6L398.76 428.67L399.56 428.73L400.35 428.79L401.14 428.84L401.94 428.89L402.73 428.94L403.52 428.99L404.32 429.03L405.11 429.07L405.9 429.11L406.69 429.15L407.49 429.19L408.28 429.22L409.07 429.25L409.87 429.28L410.66 429.31L411.45 429.33L412.25 429.36L413.04 429.38L413.83 429.41L414.62 429.43L415.42 429.45L416.21 429.47L417 429.48L417.8 429.5L418.59 429.52L419.38 429.53L420.18 429.55L420.97 429.56L421.76 429.57L422.55 429.59L423.35 429.6L424.14 429.61L424.93 429.62L425.73 429.63L426.52 429.64L427.31 429.65L428.11 429.66L428.9 429.66L429.69 429.67"/>
<path d="M156.9 429.8L158.49 429.8L160.07 429.8L161.66 429.8L163.24 429.8L164.83 429.8L166.42 429.8L168 429.8L169.59 429.8L171.17 429.8L172.76 429.8L174.35 429.8L175.93 429.8L177.52 429.8L179.1 429.8L180.69 429.8L182.28 429.8L183.86 429.8L185.45 429.8L187.03 429.8L188.62 429.8L190.21 429.8L191.79 429.79L193.38 429.8L194.96 429.8L196.55 429.79L198.14 429.73L199.72 429.8L201.31 429.44L202.89 427.96L204.48 423.63L206.07 410.79L207.65 381.78L209.24 333.94L210.82 259.5L212.41 197.81L214 140.19L215.58 73.3L217.17 35.02L218.75 42.92L220.34 59.99L221.93 60.97L223.51 103.04L225.1 144.94L226.68 198.71L228.27 244.21L229.86 276.44L231.44 321.38L233.03 354.05L234.61 373.29L236.2 391.36L237.79 400.92L239.37 409.39L240.96 413.98L242.54 415.54L244.13 416.76L245.72 417.91L247.3 418.64L248.89 418.68L250.47 421.19L252.06 420.39L253.65 420.38L255.23 420.76L256.82 422.99L258.4 423.67L259.99 423.85L261.58 424.87L263.16 424.83L264.75 425.73L266.33 426.89L267.92 426.73L269.51 426.89L271.09 428.15L272.68 429.22L274.26 428.95L275.85 428.81L277.44 429.37L279.02 429.53L280.61 429.46L282.19 429.43L283.78 429.52L285.37 429.36L286.95 429.34L288.54 429.4L290.12 428.98L291.71 429.14L293.3 429.35L294.88 429.26L296.47 429.25L298.05 429.18L299.64 429.3L301.23 429.24L302.81 429.53L304.4 429.51L305.98 429.36L307.57 429.56L309.16 429.33L310.74 429.65L312.33 427.75L313.91 429.38L315.5 429.62L317.09 428.16L318.67 429.16L320.26 429.39L321.84 429.22L323.43 429.57L325.02 429.39L326.6 429.37L328.19 429.39L329.77 429.46L331.36 429.05L332.95 428.07L334.53 427.79L336.12 427.33L337.7 425.52L339.29 424.73L340.88 423.44L342.46 422.03L344.05 419.75L345.63 418.36L347.22 415.39L348.81 417.14L350.39 415.76L351.98 412.44L353.56 410.5L355.15 408.24L356.74 408.23L358.32 406.74L359.91 403.7L361.49 405.18L363.08 404.78L364.67 404.54L366.25 406.2L367.84 407.42L369.42 409.28L371.01 411.99L372.6 410.65L374.18 412.79L375.77 414.16L377.35 418.07L378.94 417.43L380.53 419.27L382.11 420.96L383.7 421.24L385.28 423.65L386.87 424.09L388.46 425.7L390.04 427.22L391.63 427.01L393.21 428.31L394.8 428.26L396.39 428.74L397.97 428.28L399.56 429.26L401.14 428.57L402.73 428.78L404.32 429.17L405.9 429.13L407.49 429.27L409.07 429.39L410.66 429.62L412.25 429.26L413.83 429.25L415.42 429.61L417 429.47L418.59 429.55L420.18 429.37L421.76 429.54L423.35 429.8L424.93 429.62L426.52 429.65L428.11 429.63L429.69 429.7L431.28 429.65L432.86 428.22L434.45 429.68L436.04 429.76L437.62 429.67L439.21 429.67L440.79 429.74L442.38 429.76L443.97 429.77L445.55 429.77L447.14 429.78L448.72 429.72L450.31 429.76L451.9 429.79L453.48 429.76L455.07 429.79L456.65 429.79L458.24 428.17L459.83 429.8L461.41 429.74L463 429.78L464.58 429.8L466.17 429.8L467.76 429.8L469.34 429.77L470.93 429.77L472.51 429.8L474.1 429.78L475.69 429.79L477.27 429.8L478.86 429.8L480.44 428.91L482.03 429.8L483.62 429.8L485.2 429.8L486.79 429.79L488.37 429.8L489.96 429.79L491.55 429.8L493.13 429.79L494.72 429.8L496.3 429.8L497.89 429.79L499.48 429.8L501.06 429.8L502.65 429.8L504.23 429.8L505.82 429.79L507.41 429.8L508.99 429.8L510.58 429.8L512.16 429.8L513.75 429.8L515.34 429.8L516.92 429.8L518.51 429.8L520.09 429.79L521.68 429.8L523.27 429.8L524.85 429.8L526.44 429.8L528.02 429.8L529.61 429.8L531.2 429.8L532.78 429.8L534.37 429.8L535.95 429.8L537.54 429.8L539.13 429.8L540.71 429.8L542.3 429.8L543.88 429.8L545.47 429.8L547.06 429.8L548.64 429.8L550.23 429.8L551.81 429.8L553.4 429.8"/>
</g>
<path d="M275.5 33H405" stroke="#000" stroke-width="3"/>
<g stroke="#000" stroke-width="1.9" fill="none">
<path d="M616.1 7.4V441.07"/>
<path d="M604.43 429.4H1096.95"/>
<path d="M635.3 429.4v6.39M654.49 429.4v6.39M673.69 429.4v6.39M692.88 429.4v6.39M712.08 429.4v12.17M731.28 429.4v6.39M750.47 429.4v6.39M769.67 429.4v6.39M788.86 429.4v6.39M808.06 429.4v12.17M827.26 429.4v6.39M846.45 429.4v6.39M865.65 429.4v6.39M884.84 429.4v6.39M904.04 429.4v12.17M923.24 429.4v6.39M942.43 429.4v6.39M961.63 429.4v6.39M980.82 429.4v6.39M1000.02 429.4v12.17M1019.22 429.4v6.39M1038.41 429.4v6.39M1057.61 429.4v6.39M1076.8 429.4v6.39M1096 429.4v12.17"/>
<path d="M616.1 412.52h-5.68M616.1 395.64h-5.68M616.1 378.76h-5.68M616.1 361.88h-5.68M616.1 345h-11.46M616.1 328.12h-5.68M616.1 311.24h-5.68M616.1 294.36h-5.68M616.1 277.48h-5.68M616.1 260.6h-11.46M616.1 243.72h-5.68M616.1 226.84h-5.68M616.1 209.96h-5.68M616.1 193.08h-5.68M616.1 176.2h-11.46M616.1 159.32h-5.68M616.1 142.44h-5.68M616.1 125.56h-5.68M616.1 108.68h-5.68M616.1 91.8h-11.46M616.1 74.92h-5.68M616.1 58.04h-5.68M616.1 41.16h-5.68M616.1 24.28h-5.68"/>
</g>
<path d="M746.47 429.4L746.47 429.23L747.27 429.18L748.07 429.11L748.87 429.03L749.67 428.93L750.47 428.8L751.27 428.65L752.07 428.46L752.87 428.23L753.67 427.97L754.47 427.65L755.27 427.29L756.07 426.86L756.87 426.38L757.67 425.83L758.47 425.21L759.27 424.52L760.07 423.76L760.87 422.93L761.67 422.02L762.47 421.06L763.27 420.03L764.07 418.94L764.87 417.81L765.67 416.64L766.47 415.44L767.27 414.22L768.07 412.99L768.87 411.77L769.67 410.56L770.47 409.38L771.27 408.23L772.07 407.13L772.87 406.08L773.67 405.08L774.47 404.16L775.27 403.3L776.07 402.51L776.87 401.79L777.67 401.14L778.47 400.56L779.27 400.04L780.07 399.59L780.87 399.19L781.67 398.85L782.47 398.56L783.27 398.35L784.07 398.17L784.86 398.03L785.66 397.92L786.46 397.83L787.26 397.77L788.06 397.72L788.86 397.69L789.66 397.67L790.46 397.66L791.26 397.66L792.06 397.66L792.86 397.67L793.66 397.68L794.46 397.69L795.26 397.71L796.06 397.73L796.86 397.75L797.66 397.94L798.46 398.24L799.26 398.55L800.06 398.85L800.86 399.16L801.66 399.46L802.46 399.77L803.26 400.08L804.06 400.38L804.86 400.69L805.66 400.99L806.46 401.3L807.26 401.6L808.06 401.91L808.86 402.22L809.66 402.52L810.46 402.83L811.26 403.13L812.06 403.44L812.86 403.75L813.66 403.98L814.46 404.17L815.26 404.36L816.06 404.55L816.86 404.74L817.66 404.92L818.46 405.11L819.26 405.3L820.06 405.49L820.86 405.68L821.66 405.87L822.46 406.05L823.26 406.24L824.06 406.43L824.86 406.62L825.66 406.81L826.46 407L827.26 407.1L828.06 407.19L828.86 407.27L829.66 407.36L830.46 407.44L831.26 407.53L832.06 407.61L832.85 407.7L833.65 407.78L834.45 407.87L835.25 407.95L836.05 408.04L836.85 408.12L837.65 408.21L838.45 408.29L839.25 408.38L840.05 408.46L840.85 408.55L841.65 408.63L842.45 408.72L843.25 408.81L844.05 408.89L844.85 408.98L845.65 409.06L846.45 409.15L847.25 409.26L848.05 409.38L848.85 409.49L849.65 409.61L850.45 409.73L851.25 409.84L852.05 409.96L852.85 410.08L853.65 410.2L854.45 410.32L855.25 410.43L856.05 410.55L856.85 410.67L857.65 410.8L858.45 410.92L859.25 411.04L860.05 411.17L860.85 411.29L861.65 411.42L862.45 411.55L863.25 411.68L864.05 411.81L864.85 411.91L865.65 412L866.45 412.1L867.25 412.2L868.05 412.3L868.85 412.41L869.65 412.52L870.45 412.64L871.25 412.76L872.05 412.89L872.85 413.03L873.65 413.17L874.45 413.31L875.25 413.47L876.05 413.63L876.85 413.8L877.65 413.97L878.45 414.16L879.25 414.32L880.05 414.5L880.84 414.68L881.64 414.88L882.44 415.08L883.24 415.3L884.04 415.52L884.84 415.76L885.64 416.01L886.44 416.26L887.24 416.53L888.04 416.81L888.84 417.09L889.64 417.39L890.44 417.69L891.24 418L892.04 418.32L892.84 418.65L893.64 418.98L894.44 419.32L895.24 419.67L896.04 420.01L896.84 420.36L897.64 420.71L898.44 421.07L899.24 421.42L900.04 421.77L900.84 422.12L901.64 422.47L902.44 422.81L903.24 423.15L904.04 423.48L904.84 423.8L905.64 424.1L906.44 424.4L907.24 424.7L908.04 424.98L908.84 425.26L909.64 425.53L910.44 425.78L911.24 426.03L912.04 426.27L912.84 426.5L913.64 426.72L914.44 426.93L915.24 427.12L916.04 427.31L916.84 427.48L917.64 427.65L918.44 427.8L919.24 427.95L920.04 428.08L920.84 428.21L921.64 428.32L922.44 428.43L923.24 428.53L924.04 428.62L924.84 428.7L925.64 428.78L926.44 428.85L927.24 428.91L928.04 428.96L928.83 429.02L929.63 429.06L930.43 429.1L931.23 429.14L932.03 429.17L932.83 429.2L933.63 429.23L934.43 429.25L935.23 429.27L935.23 429.4Z" fill="url(#hb)"/>
<path d="M736.87 429.4L736.87 429.26L737.67 429.2L738.47 429.12L739.27 429.01L740.07 428.86L740.87 428.66L741.67 428.4L742.47 428.05L743.27 427.6L744.07 427.02L744.87 426.29L745.67 425.37L746.47 424.22L747.27 422.8L748.07 421.08L748.87 419L749.67 416.52L750.47 413.6L751.27 410.19L752.07 406.27L752.87 401.8L753.67 396.77L754.47 391.17L755.27 385.04L756.07 378.38L756.87 371.28L757.67 363.79L758.47 356.02L759.27 348.09L760.07 340.12L760.87 332.28L761.67 324.73L762.47 317.62L763.27 311.13L764.07 305.42L764.87 300.63L765.67 296.88L766.47 294.28L767.27 292.9L768.07 292.77L768.87 293.91L769.67 296.27L770.47 299.79L771.27 304.38L772.07 309.92L772.87 316.27L773.67 323.26L774.47 330.74L775.27 338.54L776.07 346.49L776.87 354.44L777.67 362.26L778.47 369.81L779.27 377L780.07 383.74L780.87 389.99L781.67 395.69L782.47 400.84L783.27 405.42L784.07 409.45L784.86 412.96L785.66 415.97L786.46 418.54L787.26 420.69L788.06 422.48L788.86 423.96L789.66 425.16L790.46 426.12L791.26 426.89L792.06 427.5L792.86 427.97L793.66 428.34L794.46 428.61L795.26 428.83L796.06 428.98L796.86 429.1L797.66 429.19L798.46 429.25L798.46 429.4Z" fill="#f60000"/>
<path d="M860.85 429.4L860.85 429.09L861.65 428.72L862.45 428.3L863.25 427.83L864.05 427.33L864.85 426.8L865.65 426.24L866.45 425.66L867.25 425.05L868.05 424.43L868.85 423.79L869.65 423.13L870.45 422.45L871.25 421.76L872.05 421.05L872.85 420.33L873.65 419.6L874.45 418.85L875.25 418.09L876.05 417.32L876.85 416.54L877.65 415.74L878.45 414.94L879.25 414.12L880.05 413.3L880.84 412.46L881.64 411.61L882.44 410.76L883.24 409.9L884.04 409.02L884.84 408.14L885.64 407.25L886.44 406.35L887.24 405.45L888.04 404.53L888.84 403.61L889.64 402.68L890.44 401.74L891.24 400.8L892.04 399.85L892.84 398.89L893.64 397.92L894.44 396.95L895.24 395.97L896.04 394.98L896.84 393.99L897.64 392.99L898.44 391.98L899.24 390.97L900.04 390.36L900.84 391.37L901.64 392.38L902.44 393.39L903.24 394.38L904.04 395.38L904.84 396.36L905.64 397.34L906.44 398.31L907.24 399.27L908.04 400.23L908.84 401.18L909.64 402.12L910.44 403.05L911.24 403.98L912.04 404.9L912.84 405.81L913.64 406.71L914.44 407.61L915.24 408.49L916.04 409.37L916.84 410.24L917.64 411.1L918.44 411.95L919.24 412.79L920.04 413.63L920.84 414.45L921.64 415.26L922.44 416.06L923.24 416.85L924.04 417.63L924.84 418.4L925.64 419.15L926.44 419.89L927.24 420.62L928.04 421.34L928.83 422.04L929.63 422.72L930.43 423.39L931.23 424.05L932.03 424.68L932.83 425.3L933.63 425.89L934.43 426.47L935.23 427.01L936.03 427.53L936.83 428.02L937.63 428.47L938.43 428.88L939.23 429.22L939.23 429.4Z" fill="#f60000"/>
<path d="M746.47 429.4L746.47 429.23L747.27 429.18L748.07 429.11L748.87 429.03L749.67 428.93L750.47 428.8L751.27 428.65L752.07 428.46L752.87 428.23L753.67 427.97L754.47 427.65L755.27 427.29L756.07 426.86L756.87 426.38L757.67 425.83L758.47 425.21L759.27 424.52L760.07 423.76L760.87 422.93L761.67 422.02L762.47 421.06L763.27 420.03L764.07 418.94L764.87 417.81L765.67 416.64L766.47 415.44L767.27 414.22L768.07 412.99L768.87 411.77L769.67 410.56L770.47 409.38L771.27 408.23L772.07 407.13L772.87 406.08L773.67 405.08L774.47 404.16L775.27 403.3L776.07 402.51L776.87 401.79L777.67 401.14L778.47 400.56L779.27 400.04L780.07 399.59L780.87 399.19L781.67 398.85L782.47 398.56L783.27 398.35L784.07 398.17L784.86 398.03L785.66 397.92L786.46 397.83L787.26 397.77L788.06 397.72L788.86 397.69L789.66 397.67L790.46 397.66L791.26 397.66L792.06 397.66L792.86 397.67L793.66 397.68L794.46 397.69L795.26 397.71L796.06 397.73L796.86 397.75L797.66 397.94L798.46 398.24L799.26 398.55L800.06 398.85L800.86 399.16L801.66 399.46L802.46 399.77L803.26 400.08L804.06 400.38L804.86 400.69L805.66 400.99L806.46 401.3L807.26 401.6L808.06 401.91L808.86 402.22L809.66 402.52L810.46 402.83L811.26 403.13L812.06 403.44L812.86 403.75L813.66 403.98L814.46 404.17L815.26 404.36L816.06 404.55L816.86 404.74L817.66 404.92L818.46 405.11L819.26 405.3L820.06 405.49L820.86 405.68L821.66 405.87L822.46 406.05L823.26 406.24L824.06 406.43L824.86 406.62L825.66 406.81L826.46 407L827.26 407.1L828.06 407.19L828.86 407.27L829.66 407.36L830.46 407.44L831.26 407.53L832.06 407.61L832.85 407.7L833.65 407.78L834.45 407.87L835.25 407.95L836.05 408.04L836.85 408.12L837.65 408.21L838.45 408.29L839.25 408.38L840.05 408.46L840.85 408.55L841.65 408.63L842.45 408.72L843.25 408.81L844.05 408.89L844.85 408.98L845.65 409.06L846.45 409.15L847.25 409.26L848.05 409.38L848.85 409.49L849.65 409.61L850.45 409.73L851.25 409.84L852.05 409.96L852.85 410.08L853.65 410.2L854.45 410.32L855.25 410.43L856.05 410.55L856.85 410.67L857.65 410.8L858.45 410.92L859.25 411.04L860.05 411.17L860.85 411.29L861.65 411.42L862.45 411.55L863.25 411.68L864.05 411.81L864.85 411.91L865.65 412L866.45 412.1L867.25 412.2L868.05 412.3L868.85 412.41L869.65 412.52L870.45 412.64L871.25 412.76L872.05 412.89L872.85 413.03L873.65 413.17L874.45 413.31L875.25 413.47L876.05 413.63L876.85 413.8L877.65 413.97L878.45 414.16L879.25 414.32L880.05 414.5L880.84 414.68L881.64 414.88L882.44 415.08L883.24 415.3L884.04 415.52L884.84 415.76L885.64 416.01L886.44 416.26L887.24 416.53L888.04 416.81L888.84 417.09L889.64 417.39L890.44 417.69L891.24 418L892.04 418.32L892.84 418.65L893.64 418.98L894.44 419.32L895.24 419.67L896.04 420.01L896.84 420.36L897.64 420.71L898.44 421.07L899.24 421.42L900.04 421.77L900.84 422.12L901.64 422.47L902.44 422.81L903.24 423.15L904.04 423.48L904.84 423.8L905.64 424.1L906.44 424.4L907.24 424.7L908.04 424.98L908.84 425.26L909.64 425.53L910.44 425.78L911.24 426.03L912.04 426.27L912.84 426.5L913.64 426.72L914.44 426.93L915.24 427.12L916.04 427.31L916.84 427.48L917.64 427.65L918.44 427.8L919.24 427.95L920.04 428.08L920.84 428.21L921.64 428.32L922.44 428.43L923.24 428.53L924.04 428.62L924.84 428.7L925.64 428.78L926.44 428.85L927.24 428.91L928.04 428.96L928.83 429.02L929.63 429.06L930.43 429.1L931.23 429.14L932.03 429.17L932.83 429.2L933.63 429.23L934.43 429.25L935.23 429.27L935.23 429.4Z" fill="url(#hk)" clip-path="url(#rc1)"/>
<g fill="none" stroke="#000" stroke-width="1.7" stroke-linejoin="round">
<path d="M736.87 429.26L737.67 429.2L738.47 429.12L739.27 429.01L740.07 428.86L740.87 428.66L741.67 428.4L742.47 428.05L743.27 427.6L744.07 427.02L744.87 426.29L745.67 425.37L746.47 424.22L747.27 422.8L748.07 421.08L748.87 419L749.67 416.52L750.47 413.6L751.27 410.19L752.07 406.27L752.87 401.8L753.67 396.77L754.47 391.17L755.27 385.04L756.07 378.38L756.87 371.28L757.67 363.79L758.47 356.02L759.27 348.09L760.07 340.12L760.87 332.28L761.67 324.73L762.47 317.62L763.27 311.13L764.07 305.42L764.87 300.63L765.67 296.88L766.47 294.28L767.27 292.9L768.07 292.77L768.87 293.91L769.67 296.27L770.47 299.79L771.27 304.38L772.07 309.92L772.87 316.27L773.67 323.26L774.47 330.74L775.27 338.54L776.07 346.49L776.87 354.44L777.67 362.26L778.47 369.81L779.27 377L780.07 383.74L780.87 389.99L781.67 395.69L782.47 400.84L783.27 405.42L784.07 409.45L784.86 412.96L785.66 415.97L786.46 418.54L787.26 420.69L788.06 422.48L788.86 423.96L789.66 425.16L790.46 426.12L791.26 426.89L792.06 427.5L792.86 427.97L793.66 428.34L794.46 428.61L795.26 428.83L796.06 428.98L796.86 429.1L797.66 429.19L798.46 429.25"/>
<path d="M860.85 429.09L861.65 428.72L862.45 428.3L863.25 427.83L864.05 427.33L864.85 426.8L865.65 426.24L866.45 425.66L867.25 425.05L868.05 424.43L868.85 423.79L869.65 423.13L870.45 422.45L871.25 421.76L872.05 421.05L872.85 420.33L873.65 419.6L874.45 418.85L875.25 418.09L876.05 417.32L876.85 416.54L877.65 415.74L878.45 414.94L879.25 414.12L880.05 413.3L880.84 412.46L881.64 411.61L882.44 410.76L883.24 409.9L884.04 409.02L884.84 408.14L885.64 407.25L886.44 406.35L887.24 405.45L888.04 404.53L888.84 403.61L889.64 402.68L890.44 401.74L891.24 400.8L892.04 399.85L892.84 398.89L893.64 397.92L894.44 396.95L895.24 395.97L896.04 394.98L896.84 393.99L897.64 392.99L898.44 391.98L899.24 390.97L900.04 390.36L900.84 391.37L901.64 392.38L902.44 393.39L903.24 394.38L904.04 395.38L904.84 396.36L905.64 397.34L906.44 398.31L907.24 399.27L908.04 400.23L908.84 401.18L909.64 402.12L910.44 403.05L911.24 403.98L912.04 404.9L912.84 405.81L913.64 406.71L914.44 407.61L915.24 408.49L916.04 409.37L916.84 410.24L917.64 411.1L918.44 411.95L919.24 412.79L920.04 413.63L920.84 414.45L921.64 415.26L922.44 416.06L923.24 416.85L924.04 417.63L924.84 418.4L925.64 419.15L926.44 419.89L927.24 420.62L928.04 421.34L928.83 422.04L929.63 422.72L930.43 423.39L931.23 424.05L932.03 424.68L932.83 425.3L933.63 425.89L934.43 426.47L935.23 427.01L936.03 427.53L936.83 428.02L937.63 428.47L938.43 428.88L939.23 429.22"/>
<path d="M746.47 429.23L747.27 429.18L748.07 429.11L748.87 429.03L749.67 428.93L750.47 428.8L751.27 428.65L752.07 428.46L752.87 428.23L753.67 427.97L754.47 427.65L755.27 427.29L756.07 426.86L756.87 426.38L757.67 425.83L758.47 425.21L759.27 424.52L760.07 423.76L760.87 422.93L761.67 422.02L762.47 421.06L763.27 420.03L764.07 418.94L764.87 417.81L765.67 416.64L766.47 415.44L767.27 414.22L768.07 412.99L768.87 411.77L769.67 410.56L770.47 409.38L771.27 408.23L772.07 407.13L772.87 406.08L773.67 405.08L774.47 404.16L775.27 403.3L776.07 402.51L776.87 401.79L777.67 401.14L778.47 400.56L779.27 400.04L780.07 399.59L780.87 399.19L781.67 398.85L782.47 398.56L783.27 398.35L784.07 398.17L784.86 398.03L785.66 397.92L786.46 397.83L787.26 397.77L788.06 397.72L788.86 397.69L789.66 397.67L790.46 397.66L791.26 397.66L792.06 397.66L792.86 397.67L793.66 397.68L794.46 397.69L795.26 397.71L796.06 397.73L796.86 397.75L797.66 397.94L798.46 398.24L799.26 398.55L800.06 398.85L800.86 399.16L801.66 399.46L802.46 399.77L803.26 400.08L804.06 400.38L804.86 400.69L805.66 400.99L806.46 401.3L807.26 401.6L808.06 401.91L808.86 402.22L809.66 402.52L810.46 402.83L811.26 403.13L812.06 403.44L812.86 403.75L813.66 403.98L814.46 404.17L815.26 404.36L816.06 404.55L816.86 404.74L817.66 404.92L818.46 405.11L819.26 405.3L820.06 405.49L820.86 405.68L821.66 405.87L822.46 406.05L823.26 406.24L824.06 406.43L824.86 406.62L825.66 406.81L826.46 407L827.26 407.1L828.06 407.19L828.86 407.27L829.66 407.36L830.46 407.44L831.26 407.53L832.06 407.61L832.85 407.7L833.65 407.78L834.45 407.87L835.25 407.95L836.05 408.04L836.85 408.12L837.65 408.21L838.45 408.29L839.25 408.38L840.05 408.46L840.85 408.55L841.65 408.63L842.45 408.72L843.25 408.81L844.05 408.89L844.85 408.98L845.65 409.06L846.45 409.15L847.25 409.26L848.05 409.38L848.85 409.49L849.65 409.61L850.45 409.73L851.25 409.84L852.05 409.96L852.85 410.08L853.65 410.2L854.45 410.32L855.25 410.43L856.05 410.55L856.85 410.67L857.65 410.8L858.45 410.92L859.25 411.04L860.05 411.17L860.85 411.29L861.65 411.42L862.45 411.55L863.25 411.68L864.05 411.81L864.85 411.91L865.65 412L866.45 412.1L867.25 412.2L868.05 412.3L868.85 412.41L869.65 412.52L870.45 412.64L871.25 412.76L872.05 412.89L872.85 413.03L873.65 413.17L874.45 413.31L875.25 413.47L876.05 413.63L876.85 413.8L877.65 413.97L878.45 414.16L879.25 414.32L880.05 414.5L880.84 414.68L881.64 414.88L882.44 415.08L883.24 415.3L884.04 415.52L884.84 415.76L885.64 416.01L886.44 416.26L887.24 416.53L888.04 416.81L888.84 417.09L889.64 417.39L890.44 417.69L891.24 418L892.04 418.32L892.84 418.65L893.64 418.98L894.44 419.32L895.24 419.67L896.04 420.01L896.84 420.36L897.64 420.71L898.44 421.07L899.24 421.42L900.04 421.77L900.84 422.12L901.64 422.47L902.44 422.81L903.24 423.15L904.04 423.48L904.84 423.8L905.64 424.1L906.44 424.4L907.24 424.7L908.04 424.98L908.84 425.26L909.64 425.53L910.44 425.78L911.24 426.03L912.04 426.27L912.84 426.5L913.64 426.72L914.44 426.93L915.24 427.12L916.04 427.31L916.84 427.48L917.64 427.65L918.44 427.8L919.24 427.95L920.04 428.08L920.84 428.21L921.64 428.32L922.44 428.43L923.24 428.53L924.04 428.62L924.84 428.7L925.64 428.78L926.44 428.85L927.24 428.91L928.04 428.96L928.83 429.02L929.63 429.06L930.43 429.1L931.23 429.14L932.03 429.17L932.83 429.2L933.63 429.23L934.43 429.25L935.23 429.27"/>
<path d="M737.67 429.22L738.47 429.15L739.27 429.05L740.07 428.91L740.87 428.73L741.67 428.48L742.47 428.16L743.27 427.74L744.07 427.2L744.87 426.51L745.67 425.63L746.47 424.54L747.27 423.18L748.07 421.52L748.87 419.51L749.67 417.09L750.47 414.22L751.27 410.86L752.07 406.96L752.87 402.49L753.67 397.41L754.47 391.73L755.27 385.44L756.07 378.57L756.87 371.15L757.67 363.25L758.47 354.96L759.27 346.39L760.07 337.66L760.87 328.92L761.67 320.33L762.47 312.05L763.27 304.27L764.07 297.15L764.87 290.84L765.67 285.49L766.47 281.22L767.27 278.12L768.07 276.27L768.87 275.67L769.67 276.34L770.47 278.23L771.27 281.26L772.07 285.33L772.87 290.32L773.67 296.08L774.47 302.46L775.27 309.29L776.07 316.41L776.87 323.66L777.67 330.89L778.47 337.98L779.27 344.81L780.07 351.29L780.87 357.35L781.67 362.93L782.47 368.01L783.27 372.6L784.07 376.67L784.86 380.25L785.66 383.34L786.46 385.99L787.26 388.24L788.06 390.13L788.86 391.69L789.66 392.97L790.46 394.02L791.26 394.86L792.06 395.53L792.86 396.06L793.66 396.48L794.46 396.8L795.26 397.06L796.06 397.25L796.86 397.41L797.66 397.7L798.46 398.07L799.26 398.43L800.06 398.77L800.86 399.1L801.66 399.42L802.46 399.74L803.26 400.06L804.06 400.37L804.86 400.68L805.66 400.99L806.46 401.3L807.26 401.6L808.06 401.91L808.86 402.22L809.66 402.52L810.46 402.83L811.26 403.13L812.06 403.44L812.86 403.75L813.66 403.98L814.46 404.17L815.26 404.36L816.06 404.55L816.86 404.74L817.66 404.92L818.46 405.11L819.26 405.3L820.06 405.49L820.86 405.68L821.66 405.87L822.46 406.05L823.26 406.24L824.06 406.43L824.86 406.62L825.66 406.81L826.46 407L827.26 407.1L828.06 407.19L828.86 407.27L829.66 407.36L830.46 407.44L831.26 407.53L832.06 407.61L832.85 407.7L833.65 407.78L834.45 407.87L835.25 407.95L836.05 408.04L836.85 408.12L837.65 408.21L838.45 408.29L839.25 408.38L840.05 408.46L840.85 408.55L841.65 408.63L842.45 408.72L843.25 408.81L844.05 408.89L844.85 408.98L845.65 409.06L846.45 409.15L847.25 409.26L848.05 409.38L848.85 409.49L849.65 409.61L850.45 409.73L851.25 409.84L852.05 409.96L852.85 410.08L853.65 410.2L854.45 410.32L855.25 410.43L856.05 410.55L856.85 410.67L857.65 410.8L858.45 410.89L859.25 410.75L860.05 410.52L860.85 410.25L861.65 409.93L862.45 409.58L863.25 409.21L864.05 408.81L864.85 408.35L865.65 407.87L866.45 407.37L867.25 406.86L868.05 406.34L868.85 405.81L869.65 405.26L870.45 404.71L871.25 404.15L872.05 403.58L872.85 403L873.65 402.42L874.45 401.83L875.25 401.24L876.05 400.65L876.85 400.05L877.65 399.45L878.45 398.85L879.25 398.23L880.05 397.6L880.84 396.97L881.64 396.34L882.44 395.72L883.24 395.1L884.04 394.48L884.84 393.86L885.64 393.24L886.44 392.63L887.24 392.02L888.04 391.41L888.84 390.81L889.64 390.21L890.44 389.61L891.24 389.01L892.04 388.41L892.84 387.81L893.64 387.21L894.44 386.61L895.24 386L896.04 385.39L896.84 384.78L897.64 384.15L898.44 383.51L899.24 382.85L900.04 382.56L900.84 383.81L901.64 385.02L902.44 386.17L903.24 387.27L904.04 388.3L904.84 389.24L905.64 390.1L906.44 390.87L907.24 391.56L908.04 392.18L908.84 392.73L909.64 393.23L910.44 393.69L911.24 394.13L912.04 394.58L912.84 395.05L913.64 395.55L914.44 396.09L915.24 396.69L916.04 397.33L916.84 398.03L917.64 398.77L918.44 399.55L919.24 400.36L920.04 401.19L920.84 402.04L921.64 402.89L922.44 403.74L923.24 404.54L924.04 405.72L924.84 406.86L925.64 407.99L926.44 409.08L927.24 410.14L928.04 411.18L928.83 412.2L929.63 413.18L930.43 414.14L931.23 415.08L932.03 415.98L932.83 416.86L933.63 417.72L934.43 418.54L935.23 419.34L936.03 420.1L936.83 420.84L937.63 421.53L938.43 422.2L939.23 422.81L940.03 423.38L940.83 423.88L941.63 424.22L942.43 424.39L943.23 424.54L944.03 424.7L944.83 424.84L945.63 424.99L946.43 425.12L947.23 425.26L948.03 425.39L948.83 425.51L949.63 425.63L950.43 425.75L951.23 425.86L952.03 425.97L952.83 426.08L953.63 426.18L954.43 426.28L955.23 426.38L956.03 426.47L956.83 426.56L957.63 426.65L958.43 426.73L959.23 426.81L960.03 426.89L960.83 426.97L961.63 427.05L962.43 427.12L963.23 427.19L964.03 427.26L964.83 427.32L965.63 427.39L966.43 427.45L967.23 427.51L968.03 427.57L968.83 427.62L969.63 427.68L970.43 427.73L971.23 427.78L972.03 427.83L972.83 427.88L973.63 427.93L974.43 427.97L975.23 428.02L976.02 428.06L976.82 428.1L977.62 428.14L978.42 428.18L979.22 428.22L980.02 428.25L980.82 428.29L981.62 428.32L982.42 428.36L983.22 428.39L984.02 428.42L984.82 428.45L985.62 428.48L986.42 428.51L987.22 428.53L988.02 428.56L988.82 428.59L989.62 428.61L990.42 428.64L991.22 428.66L992.02 428.68L992.82 428.7L993.62 428.73L994.42 428.75L995.22 428.77L996.02 428.79L996.82 428.8L997.62 428.82L998.42 428.84L999.22 428.86L1000.02 428.87L1000.82 428.89L1001.62 428.91L1002.42 428.92L1003.22 428.94L1004.02 428.95L1004.82 428.96L1005.62 428.98L1006.42 428.99L1007.22 429L1008.02 429.02L1008.82 429.03L1009.62 429.04L1010.42 429.05L1011.22 429.06L1012.02 429.07L1012.82 429.08L1013.62 429.09L1014.42 429.1L1015.22 429.11L1016.02 429.12L1016.82 429.13L1017.62 429.14L1018.42 429.14L1019.22 429.15L1020.02 429.16L1020.82 429.17L1021.62 429.17L1022.42 429.18L1023.22 429.19L1024.01 429.19L1024.81 429.2L1025.61 429.21L1026.41 429.21L1027.21 429.22L1028.01 429.22L1028.81 429.23L1029.61 429.23L1030.41 429.24L1031.21 429.24L1032.01 429.25L1032.81 429.25L1033.61 429.26L1034.41 429.26L1035.21 429.27L1036.01 429.27"/>
<path d="M696.08 429.4L697.68 429.4L699.28 429.4L700.88 429.4L702.48 429.4L704.08 429.4L705.68 429.4L707.28 429.4L708.88 429.4L710.48 429.4L712.08 429.4L713.68 429.4L715.28 429.4L716.88 429.4L718.48 429.4L720.08 429.4L721.68 429.38L723.28 429.4L724.88 429.4L726.48 429.4L728.08 429.33L729.68 429.24L731.28 429.08L732.88 429.28L734.48 428.58L736.08 428.51L737.67 428.19L739.27 427.43L740.87 425.25L742.47 423.16L744.07 421.38L745.67 416.44L747.27 411.48L748.87 405.62L750.47 399.65L752.07 387.59L753.67 376.91L755.27 363.51L756.87 346.59L758.47 338.62L760.07 313.9L761.67 304.91L763.27 291.78L764.87 285.08L766.47 269.67L768.07 274.46L769.67 285.72L771.27 275.99L772.87 277.88L774.47 285.81L776.07 300.55L777.67 308.6L779.27 321.56L780.87 336.74L782.47 352.05L784.07 353.41L785.66 366.39L787.26 374.91L788.86 383.56L790.46 386.33L792.06 386.59L793.66 391.92L795.26 393.85L796.86 396.04L798.46 396.21L800.06 397.35L801.66 401.47L803.26 399.4L804.86 400.82L806.46 398.11L808.06 398.98L809.66 400.53L811.26 403L812.86 402.98L814.46 403.58L816.06 402.69L817.66 404.35L819.26 405.74L820.86 407.07L822.46 407.21L824.06 408.94L825.66 406.42L827.26 407.14L828.86 404.23L830.46 408.12L832.06 406.39L833.65 409.52L835.25 407.98L836.85 408.81L838.45 410.73L840.05 407.87L841.65 409.02L843.25 407.88L844.85 406.87L846.45 408.93L848.05 410.37L849.65 407.65L851.25 411.61L852.85 409.49L854.45 410.07L856.05 408.45L857.65 409.06L859.25 409.33L860.85 410.06L862.45 407.84L864.05 408.28L865.65 408.4L867.25 405.22L868.85 405.18L870.45 403.7L872.05 398.97L873.65 399.66L875.25 399.32L876.85 400.54L878.45 398.97L880.05 398.8L881.64 393.37L883.24 392.84L884.84 392.73L886.44 393.78L888.04 390.71L889.64 387.98L891.24 385.53L892.84 385.25L894.44 386.57L896.04 385.18L897.64 372.85L899.24 384.98L900.84 383.68L902.44 384.07L904.04 381.92L905.64 391.66L907.24 394.17L908.84 389.96L910.44 392.85L912.04 392.41L913.64 398.14L915.24 395.62L916.84 396.82L918.44 399.05L920.04 395.97L921.64 398.87L923.24 404.31L924.84 406.95L926.44 408.14L928.04 412.5L929.63 411.62L931.23 415.05L932.83 415.3L934.43 416.87L936.03 419.68L937.63 420.69L939.23 421.34L940.83 423.54L942.43 424.19L944.03 424.73L945.63 424.21L947.23 424.57L948.83 425.91L950.43 425.86L952.03 426.32L953.63 426.43L955.23 427.19L956.83 426.88L958.43 427.35L960.03 426.91L961.63 427.39L963.23 427.07L964.83 427.52L966.43 427.58L968.03 428.22L969.63 427.8L971.23 427.8L972.83 428.15L974.43 427.91L976.02 428L977.62 428.29L979.22 428.14L980.82 428.43L982.42 428.28L984.02 428.42L985.62 428.59L987.22 428.8L988.82 428.41L990.42 428.7L992.02 428.66L993.62 428.61L995.22 427.7L996.82 429.01L998.42 428.55L1000.02 428.42L1001.62 428.7L1003.22 428.86L1004.82 428.95L1006.42 429L1008.02 429.1L1009.62 428.88L1011.22 429.18L1012.82 429.2L1014.42 429.15L1016.02 428.99L1017.62 427.3L1019.22 429.14L1020.82 429.34L1022.42 428.65L1024.01 429.26L1025.61 427.54L1027.21 429.13L1028.81 427.85L1030.41 429.32L1032.01 427.96L1033.61 429.33L1035.21 429.24L1036.81 429.4L1038.41 429.24L1040.01 429.25L1041.61 429.3L1043.21 429.27L1044.81 429.39L1046.41 429.36L1048.01 429.28L1049.61 429.4L1051.21 427.73L1052.81 427.62L1054.41 429.4L1056.01 429.38L1057.61 429.27L1059.21 429.36L1060.81 429.4L1062.41 429.39L1064.01 429.35L1065.61 429.29L1067.21 429.36L1068.81 429.4L1070.41 429.32L1072.01 429.35L1073.6 429.4L1075.2 429.33L1076.8 429.4L1078.4 429.36L1080 429.37L1081.6 429.32L1083.2 429.32L1084.8 429.37L1086.4 429.35L1088 429.4L1089.6 429.39L1091.2 429.37L1092.8 429.35L1094.4 429.38L1096 429.38"/>
</g>
<path d="M805 28.6H843.6" stroke="#000" stroke-width="3.04"/>
<g stroke="#000" stroke-width="1.9" fill="none">
<path d="M1157.6 13.53V441.41"/>
<path d="M1146.09 429.9H1632.55"/>
<path d="M1176.56 429.9v6.31M1195.52 429.9v6.31M1214.48 429.9v6.31M1233.44 429.9v6.31M1252.4 429.9v12.01M1271.36 429.9v6.31M1290.32 429.9v6.31M1309.28 429.9v6.31M1328.24 429.9v6.31M1347.2 429.9v12.01M1366.16 429.9v6.31M1385.12 429.9v6.31M1404.08 429.9v6.31M1423.04 429.9v6.31M1442 429.9v12.01M1460.96 429.9v6.31M1479.92 429.9v6.31M1498.88 429.9v6.31M1517.84 429.9v6.31M1536.8 429.9v12.01M1555.76 429.9v6.31M1574.72 429.9v6.31M1593.68 429.9v6.31M1612.64 429.9v6.31M1631.6 429.9v12.01"/>
<path d="M1157.6 413.25h-5.61M1157.6 396.59h-5.61M1157.6 379.94h-5.61M1157.6 363.28h-5.61M1157.6 346.62h-11.31M1157.6 329.97h-5.61M1157.6 313.31h-5.61M1157.6 296.66h-5.61M1157.6 280h-5.61M1157.6 263.35h-11.31M1157.6 246.69h-5.61M1157.6 230.04h-5.61M1157.6 213.39h-5.61M1157.6 196.73h-5.61M1157.6 180.08h-11.31M1157.6 163.42h-5.61M1157.6 146.77h-5.61M1157.6 130.11h-5.61M1157.6 113.46h-5.61M1157.6 96.8h-11.31M1157.6 80.15h-5.61M1157.6 63.49h-5.61M1157.6 46.84h-5.61M1157.6 30.18h-5.61"/>
</g>
<path d="M1299.01 429.9L1299.01 429.76L1299.8 429.71L1300.59 429.65L1301.38 429.57L1302.17 429.47L1302.96 429.35L1303.75 429.2L1304.54 429.02L1305.33 428.81L1306.12 428.55L1306.91 428.24L1307.7 427.89L1308.49 427.48L1309.28 427.02L1310.07 426.49L1310.86 425.91L1311.65 425.27L1312.44 424.58L1313.23 423.83L1314.02 423.02L1314.81 422.18L1315.6 421.3L1316.39 420.39L1317.18 419.46L1317.97 418.52L1318.76 417.58L1319.55 416.66L1320.34 415.75L1321.13 414.88L1321.92 414.04L1322.71 413.25L1323.5 412.51L1324.29 411.83L1325.08 411.2L1325.87 410.64L1326.66 410.13L1327.45 409.69L1328.24 409.3L1329.03 408.96L1329.82 408.67L1330.61 408.43L1331.4 408.23L1332.19 408.06L1332.98 407.93L1333.77 407.82L1334.56 407.74L1335.35 407.68L1336.14 407.64L1336.93 407.61L1337.72 407.59L1338.51 407.58L1339.3 407.57L1340.09 407.58L1340.88 407.58L1341.67 407.59L1342.46 407.6L1343.25 407.62L1344.04 407.63L1344.83 407.65L1345.62 407.66L1346.41 407.68L1347.2 407.69L1347.99 407.71L1348.78 407.73L1349.57 407.75L1350.36 407.76L1351.15 407.78L1351.94 407.8L1352.73 407.81L1353.52 407.83L1354.31 408.18L1355.1 408.53L1355.89 408.87L1356.68 409.22L1357.47 409.57L1358.26 409.91L1359.05 410.26L1359.84 410.61L1360.63 410.95L1361.42 411.3L1362.21 411.65L1363 412L1363.79 412.59L1364.58 413.19L1365.37 413.79L1366.16 414.39L1366.95 414.99L1367.74 415.59L1368.53 416.19L1369.32 416.78L1370.11 417.38L1370.9 417.98L1371.69 418.58L1372.48 419.18L1373.27 419.78L1374.06 420.38L1374.85 420.97L1375.64 421.57L1376.43 421.77L1377.22 421.96L1378.01 422.16L1378.8 422.35L1379.59 422.55L1380.38 422.74L1381.17 422.94L1381.96 423.13L1382.75 423.33L1383.54 423.52L1384.33 423.72L1385.12 423.91L1385.91 424.11L1386.7 424.3L1387.49 424.5L1388.28 424.7L1389.07 424.72L1389.86 424.74L1390.65 424.76L1391.44 424.78L1392.23 424.8L1393.02 424.82L1393.81 424.85L1394.6 424.87L1395.39 424.89L1396.18 424.91L1396.97 424.93L1397.76 424.95L1398.55 424.97L1399.34 425L1400.13 425.02L1400.92 425.04L1401.71 425.06L1402.5 425.08L1403.29 425.1L1404.08 425.12L1404.87 425.15L1405.66 425.17L1406.45 425.19L1407.24 425.21L1408.03 425.23L1408.82 425.25L1409.61 425.27L1410.4 425.3L1411.19 425.32L1411.98 425.34L1412.77 425.36L1413.56 425.38L1414.35 425.4L1415.14 425.42L1415.93 425.45L1416.72 425.47L1417.51 425.49L1418.3 425.51L1419.09 425.53L1419.88 425.55L1420.67 425.57L1421.46 425.6L1422.25 425.62L1423.04 425.64L1423.83 425.66L1424.62 425.68L1425.41 425.7L1426.2 425.72L1426.99 425.75L1427.78 425.77L1428.57 425.79L1429.36 425.81L1430.15 425.83L1430.94 425.85L1431.73 425.88L1432.52 425.9L1433.31 425.92L1434.1 425.94L1434.89 425.96L1435.68 425.98L1436.47 426.01L1437.26 426.03L1438.05 426.05L1438.84 426.07L1439.63 426.1L1440.42 426.12L1441.21 426.14L1442 426.17L1442.79 426.2L1443.58 426.24L1444.37 426.27L1445.16 426.31L1445.95 426.34L1446.74 426.38L1447.53 426.42L1448.32 426.46L1449.11 426.5L1449.9 426.54L1450.69 426.58L1451.48 426.62L1452.27 426.67L1453.06 426.71L1453.85 426.76L1454.64 426.81L1455.43 426.86L1456.22 426.91L1457.01 426.96L1457.8 427.02L1458.59 427.08L1459.38 427.13L1460.17 427.2L1460.96 427.26L1461.75 427.32L1462.54 427.39L1463.33 427.46L1464.12 427.53L1464.91 427.6L1465.7 427.67L1466.49 427.74L1467.28 427.82L1468.07 427.89L1468.86 427.97L1469.65 428.05L1470.44 428.13L1471.23 428.2L1472.02 428.28L1472.81 428.36L1473.6 428.44L1474.39 428.5L1475.18 428.55L1475.97 428.61L1476.76 428.67L1477.55 428.73L1478.34 428.79L1479.13 428.85L1479.92 428.91L1480.71 428.97L1481.5 429.03L1482.29 429.08L1483.08 429.13L1483.87 429.19L1484.66 429.24L1485.45 429.29L1486.24 429.33L1487.03 429.38L1487.82 429.42L1488.61 429.46L1489.4 429.5L1490.19 429.53L1490.98 429.57L1491.77 429.6L1492.56 429.63L1493.35 429.65L1494.14 429.68L1494.93 429.7L1495.72 429.72L1496.51 429.74L1497.3 429.76L1497.3 429.9Z" fill="url(#hb)"/>
<path d="M1288.74 429.9L1288.74 429.75L1289.53 429.68L1290.32 429.58L1291.11 429.43L1291.9 429.22L1292.69 428.93L1293.48 428.54L1294.27 428L1295.06 427.29L1295.85 426.34L1296.64 425.1L1297.43 423.5L1298.22 421.46L1299.01 418.89L1299.8 415.7L1300.59 411.77L1301.38 407L1302.17 401.29L1302.96 394.55L1303.75 386.68L1304.54 377.64L1305.33 367.39L1306.12 355.93L1306.91 343.32L1307.7 329.66L1308.49 315.09L1309.28 299.82L1310.07 284.12L1310.86 268.28L1311.65 252.66L1312.44 237.62L1313.23 223.56L1314.02 210.87L1314.81 199.9L1315.6 190.99L1316.39 184.42L1317.18 180.39L1317.97 179.03L1318.76 180.39L1319.55 184.42L1320.34 190.99L1321.13 199.9L1321.92 210.87L1322.71 223.56L1323.5 237.62L1324.29 252.66L1325.08 268.28L1325.87 284.12L1326.66 299.82L1327.45 315.09L1328.24 329.66L1329.03 343.32L1329.82 355.93L1330.61 367.39L1331.4 377.64L1332.19 386.68L1332.98 394.55L1333.77 401.29L1334.56 407L1335.35 411.77L1336.14 415.7L1336.93 418.89L1337.72 421.46L1338.51 423.5L1339.3 425.1L1340.09 426.34L1340.88 427.29L1341.67 428L1342.46 428.54L1343.25 428.93L1344.04 429.22L1344.83 429.43L1345.62 429.58L1346.41 429.68L1347.2 429.75L1347.2 429.9Z" fill="#f60000"/>
<path d="M1442 429.9L1442 429.74L1442.79 429.54L1443.58 429.31L1444.37 429.07L1445.16 428.8L1445.95 428.52L1446.74 428.22L1447.53 427.91L1448.32 427.59L1449.11 427.25L1449.9 426.91L1450.69 426.56L1451.48 426.2L1452.27 425.83L1453.06 425.46L1453.85 425.07L1454.64 424.68L1455.43 424.28L1456.22 423.88L1457.01 423.47L1457.8 423.05L1458.59 422.63L1459.38 422.2L1460.17 421.77L1460.96 421.33L1461.75 420.88L1462.54 420.43L1463.33 419.98L1464.12 419.52L1464.91 419.05L1465.7 418.58L1466.49 418.11L1467.28 417.63L1468.07 417.15L1468.86 416.66L1469.65 416.17L1470.44 415.68L1471.23 415.18L1472.02 414.67L1472.81 414.17L1473.6 413.66L1474.39 413.14L1475.18 412.62L1475.97 412.1L1476.76 412L1477.55 412.52L1478.34 413.04L1479.13 413.55L1479.92 414.07L1480.71 414.57L1481.5 415.08L1482.29 415.58L1483.08 416.07L1483.87 416.56L1484.66 417.05L1485.45 417.54L1486.24 418.01L1487.03 418.49L1487.82 418.96L1488.61 419.42L1489.4 419.89L1490.19 420.34L1490.98 420.79L1491.77 421.24L1492.56 421.68L1493.35 422.11L1494.14 422.54L1494.93 422.97L1495.72 423.39L1496.51 423.8L1497.3 424.2L1498.09 424.6L1498.88 425L1499.67 425.38L1500.46 425.76L1501.25 426.13L1502.04 426.49L1502.83 426.84L1503.62 427.19L1504.41 427.52L1505.2 427.84L1505.99 428.16L1506.78 428.46L1507.57 428.74L1508.36 429.01L1509.15 429.27L1509.94 429.5L1510.73 429.7L1510.73 429.9Z" fill="#f60000"/>
<path d="M1299.01 429.9L1299.01 429.76L1299.8 429.71L1300.59 429.65L1301.38 429.57L1302.17 429.47L1302.96 429.35L1303.75 429.2L1304.54 429.02L1305.33 428.81L1306.12 428.55L1306.91 428.24L1307.7 427.89L1308.49 427.48L1309.28 427.02L1310.07 426.49L1310.86 425.91L1311.65 425.27L1312.44 424.58L1313.23 423.83L1314.02 423.02L1314.81 422.18L1315.6 421.3L1316.39 420.39L1317.18 419.46L1317.97 418.52L1318.76 417.58L1319.55 416.66L1320.34 415.75L1321.13 414.88L1321.92 414.04L1322.71 413.25L1323.5 412.51L1324.29 411.83L1325.08 411.2L1325.87 410.64L1326.66 410.13L1327.45 409.69L1328.24 409.3L1329.03 408.96L1329.82 408.67L1330.61 408.43L1331.4 408.23L1332.19 408.06L1332.98 407.93L1333.77 407.82L1334.56 407.74L1335.35 407.68L1336.14 407.64L1336.93 407.61L1337.72 407.59L1338.51 407.58L1339.3 407.57L1340.09 407.58L1340.88 407.58L1341.67 407.59L1342.46 407.6L1343.25 407.62L1344.04 407.63L1344.83 407.65L1345.62 407.66L1346.41 407.68L1347.2 407.69L1347.99 407.71L1348.78 407.73L1349.57 407.75L1350.36 407.76L1351.15 407.78L1351.94 407.8L1352.73 407.81L1353.52 407.83L1354.31 408.18L1355.1 408.53L1355.89 408.87L1356.68 409.22L1357.47 409.57L1358.26 409.91L1359.05 410.26L1359.84 410.61L1360.63 410.95L1361.42 411.3L1362.21 411.65L1363 412L1363.79 412.59L1364.58 413.19L1365.37 413.79L1366.16 414.39L1366.95 414.99L1367.74 415.59L1368.53 416.19L1369.32 416.78L1370.11 417.38L1370.9 417.98L1371.69 418.58L1372.48 419.18L1373.27 419.78L1374.06 420.38L1374.85 420.97L1375.64 421.57L1376.43 421.77L1377.22 421.96L1378.01 422.16L1378.8 422.35L1379.59 422.55L1380.38 422.74L1381.17 422.94L1381.96 423.13L1382.75 423.33L1383.54 423.52L1384.33 423.72L1385.12 423.91L1385.91 424.11L1386.7 424.3L1387.49 424.5L1388.28 424.7L1389.07 424.72L1389.86 424.74L1390.65 424.76L1391.44 424.78L1392.23 424.8L1393.02 424.82L1393.81 424.85L1394.6 424.87L1395.39 424.89L1396.18 424.91L1396.97 424.93L1397.76 424.95L1398.55 424.97L1399.34 425L1400.13 425.02L1400.92 425.04L1401.71 425.06L1402.5 425.08L1403.29 425.1L1404.08 425.12L1404.87 425.15L1405.66 425.17L1406.45 425.19L1407.24 425.21L1408.03 425.23L1408.82 425.25L1409.61 425.27L1410.4 425.3L1411.19 425.32L1411.98 425.34L1412.77 425.36L1413.56 425.38L1414.35 425.4L1415.14 425.42L1415.93 425.45L1416.72 425.47L1417.51 425.49L1418.3 425.51L1419.09 425.53L1419.88 425.55L1420.67 425.57L1421.46 425.6L1422.25 425.62L1423.04 425.64L1423.83 425.66L1424.62 425.68L1425.41 425.7L1426.2 425.72L1426.99 425.75L1427.78 425.77L1428.57 425.79L1429.36 425.81L1430.15 425.83L1430.94 425.85L1431.73 425.88L1432.52 425.9L1433.31 425.92L1434.1 425.94L1434.89 425.96L1435.68 425.98L1436.47 426.01L1437.26 426.03L1438.05 426.05L1438.84 426.07L1439.63 426.1L1440.42 426.12L1441.21 426.14L1442 426.17L1442.79 426.2L1443.58 426.24L1444.37 426.27L1445.16 426.31L1445.95 426.34L1446.74 426.38L1447.53 426.42L1448.32 426.46L1449.11 426.5L1449.9 426.54L1450.69 426.58L1451.48 426.62L1452.27 426.67L1453.06 426.71L1453.85 426.76L1454.64 426.81L1455.43 426.86L1456.22 426.91L1457.01 426.96L1457.8 427.02L1458.59 427.08L1459.38 427.13L1460.17 427.2L1460.96 427.26L1461.75 427.32L1462.54 427.39L1463.33 427.46L1464.12 427.53L1464.91 427.6L1465.7 427.67L1466.49 427.74L1467.28 427.82L1468.07 427.89L1468.86 427.97L1469.65 428.05L1470.44 428.13L1471.23 428.2L1472.02 428.28L1472.81 428.36L1473.6 428.44L1474.39 428.5L1475.18 428.55L1475.97 428.61L1476.76 428.67L1477.55 428.73L1478.34 428.79L1479.13 428.85L1479.92 428.91L1480.71 428.97L1481.5 429.03L1482.29 429.08L1483.08 429.13L1483.87 429.19L1484.66 429.24L1485.45 429.29L1486.24 429.33L1487.03 429.38L1487.82 429.42L1488.61 429.46L1489.4 429.5L1490.19 429.53L1490.98 429.57L1491.77 429.6L1492.56 429.63L1493.35 429.65L1494.14 429.68L1494.93 429.7L1495.72 429.72L1496.51 429.74L1497.3 429.76L1497.3 429.9Z" fill="url(#hk)" clip-path="url(#rc2)"/>
<g fill="none" stroke="#000" stroke-width="1.7" stroke-linejoin="round">
<path d="M1288.74 429.75L1289.53 429.68L1290.32 429.58L1291.11 429.43L1291.9 429.22L1292.69 428.93L1293.48 428.54L1294.27 428L1295.06 427.29L1295.85 426.34L1296.64 425.1L1297.43 423.5L1298.22 421.46L1299.01 418.89L1299.8 415.7L1300.59 411.77L1301.38 407L1302.17 401.29L1302.96 394.55L1303.75 386.68L1304.54 377.64L1305.33 367.39L1306.12 355.93L1306.91 343.32L1307.7 329.66L1308.49 315.09L1309.28 299.82L1310.07 284.12L1310.86 268.28L1311.65 252.66L1312.44 237.62L1313.23 223.56L1314.02 210.87L1314.81 199.9L1315.6 190.99L1316.39 184.42L1317.18 180.39L1317.97 179.03L1318.76 180.39L1319.55 184.42L1320.34 190.99L1321.13 199.9L1321.92 210.87L1322.71 223.56L1323.5 237.62L1324.29 252.66L1325.08 268.28L1325.87 284.12L1326.66 299.82L1327.45 315.09L1328.24 329.66L1329.03 343.32L1329.82 355.93L1330.61 367.39L1331.4 377.64L1332.19 386.68L1332.98 394.55L1333.77 401.29L1334.56 407L1335.35 411.77L1336.14 415.7L1336.93 418.89L1337.72 421.46L1338.51 423.5L1339.3 425.1L1340.09 426.34L1340.88 427.29L1341.67 428L1342.46 428.54L1343.25 428.93L1344.04 429.22L1344.83 429.43L1345.62 429.58L1346.41 429.68L1347.2 429.75"/>
<path d="M1442 429.74L1442.79 429.54L1443.58 429.31L1444.37 429.07L1445.16 428.8L1445.95 428.52L1446.74 428.22L1447.53 427.91L1448.32 427.59L1449.11 427.25L1449.9 426.91L1450.69 426.56L1451.48 426.2L1452.27 425.83L1453.06 425.46L1453.85 425.07L1454.64 424.68L1455.43 424.28L1456.22 423.88L1457.01 423.47L1457.8 423.05L1458.59 422.63L1459.38 422.2L1460.17 421.77L1460.96 421.33L1461.75 420.88L1462.54 420.43L1463.33 419.98L1464.12 419.52L1464.91 419.05L1465.7 418.58L1466.49 418.11L1467.28 417.63L1468.07 417.15L1468.86 416.66L1469.65 416.17L1470.44 415.68L1471.23 415.18L1472.02 414.67L1472.81 414.17L1473.6 413.66L1474.39 413.14L1475.18 412.62L1475.97 412.1L1476.76 412L1477.55 412.52L1478.34 413.04L1479.13 413.55L1479.92 414.07L1480.71 414.57L1481.5 415.08L1482.29 415.58L1483.08 416.07L1483.87 416.56L1484.66 417.05L1485.45 417.54L1486.24 418.01L1487.03 418.49L1487.82 418.96L1488.61 419.42L1489.4 419.89L1490.19 420.34L1490.98 420.79L1491.77 421.24L1492.56 421.68L1493.35 422.11L1494.14 422.54L1494.93 422.97L1495.72 423.39L1496.51 423.8L1497.3 424.2L1498.09 424.6L1498.88 425L1499.67 425.38L1500.46 425.76L1501.25 426.13L1502.04 426.49L1502.83 426.84L1503.62 427.19L1504.41 427.52L1505.2 427.84L1505.99 428.16L1506.78 428.46L1507.57 428.74L1508.36 429.01L1509.15 429.27L1509.94 429.5L1510.73 429.7"/>
<path d="M1299.01 429.76L1299.8 429.71L1300.59 429.65L1301.38 429.57L1302.17 429.47L1302.96 429.35L1303.75 429.2L1304.54 429.02L1305.33 428.81L1306.12 428.55L1306.91 428.24L1307.7 427.89L1308.49 427.48L1309.28 427.02L1310.07 426.49L1310.86 425.91L1311.65 425.27L1312.44 424.58L1313.23 423.83L1314.02 423.02L1314.81 422.18L1315.6 421.3L1316.39 420.39L1317.18 419.46L1317.97 418.52L1318.76 417.58L1319.55 416.66L1320.34 415.75L1321.13 414.88L1321.92 414.04L1322.71 413.25L1323.5 412.51L1324.29 411.83L1325.08 411.2L1325.87 410.64L1326.66 410.13L1327.45 409.69L1328.24 409.3L1329.03 408.96L1329.82 408.67L1330.61 408.43L1331.4 408.23L1332.19 408.06L1332.98 407.93L1333.77 407.82L1334.56 407.74L1335.35 407.68L1336.14 407.64L1336.93 407.61L1337.72 407.59L1338.51 407.58L1339.3 407.57L1340.09 407.58L1340.88 407.58L1341.67 407.59L1342.46 407.6L1343.25 407.62L1344.04 407.63L1344.83 407.65L1345.62 407.66L1346.41 407.68L1347.2 407.69L1347.99 407.71L1348.78 407.73L1349.57 407.75L1350.36 407.76L1351.15 407.78L1351.94 407.8L1352.73 407.81L1353.52 407.83L1354.31 408.18L1355.1 408.53L1355.89 408.87L1356.68 409.22L1357.47 409.57L1358.26 409.91L1359.05 410.26L1359.84 410.61L1360.63 410.95L1361.42 411.3L1362.21 411.65L1363 412L1363.79 412.59L1364.58 413.19L1365.37 413.79L1366.16 414.39L1366.95 414.99L1367.74 415.59L1368.53 416.19L1369.32 416.78L1370.11 417.38L1370.9 417.98L1371.69 418.58L1372.48 419.18L1373.27 419.78L1374.06 420.38L1374.85 420.97L1375.64 421.57L1376.43 421.77L1377.22 421.96L1378.01 422.16L1378.8 422.35L1379.59 422.55L1380.38 422.74L1381.17 422.94L1381.96 423.13L1382.75 423.33L1383.54 423.52L1384.33 423.72L1385.12 423.91L1385.91 424.11L1386.7 424.3L1387.49 424.5L1388.28 424.7L1389.07 424.72L1389.86 424.74L1390.65 424.76L1391.44 424.78L1392.23 424.8L1393.02 424.82L1393.81 424.85L1394.6 424.87L1395.39 424.89L1396.18 424.91L1396.97 424.93L1397.76 424.95L1398.55 424.97L1399.34 425L1400.13 425.02L1400.92 425.04L1401.71 425.06L1402.5 425.08L1403.29 425.1L1404.08 425.12L1404.87 425.15L1405.66 425.17L1406.45 425.19L1407.24 425.21L1408.03 425.23L1408.82 425.25L1409.61 425.27L1410.4 425.3L1411.19 425.32L1411.98 425.34L1412.77 425.36L1413.56 425.38L1414.35 425.4L1415.14 425.42L1415.93 425.45L1416.72 425.47L1417.51 425.49L1418.3 425.51L1419.09 425.53L1419.88 425.55L1420.67 425.57L1421.46 425.6L1422.25 425.62L1423.04 425.64L1423.83 425.66L1424.62 425.68L1425.41 425.7L1426.2 425.72L1426.99 425.75L1427.78 425.77L1428.57 425.79L1429.36 425.81L1430.15 425.83L1430.94 425.85L1431.73 425.88L1432.52 425.9L1433.31 425.92L1434.1 425.94L1434.89 425.96L1435.68 425.98L1436.47 426.01L1437.26 426.03L1438.05 426.05L1438.84 426.07L1439.63 426.1L1440.42 426.12L1441.21 426.14L1442 426.17L1442.79 426.2L1443.58 426.24L1444.37 426.27L1445.16 426.31L1445.95 426.34L1446.74 426.38L1447.53 426.42L1448.32 426.46L1449.11 426.5L1449.9 426.54L1450.69 426.58L1451.48 426.62L1452.27 426.67L1453.06 426.71L1453.85 426.76L1454.64 426.81L1455.43 426.86L1456.22 426.91L1457.01 426.96L1457.8 427.02L1458.59 427.08L1459.38 427.13L1460.17 427.2L1460.96 427.26L1461.75 427.32L1462.54 427.39L1463.33 427.46L1464.12 427.53L1464.91 427.6L1465.7 427.67L1466.49 427.74L1467.28 427.82L1468.07 427.89L1468.86 427.97L1469.65 428.05L1470.44 428.13L1471.23 428.2L1472.02 428.28L1472.81 428.36L1473.6 428.44L1474.39 428.5L1475.18 428.55L1475.97 428.61L1476.76 428.67L1477.55 428.73L1478.34 428.79L1479.13 428.85L1479.92 428.91L1480.71 428.97L1481.5 429.03L1482.29 429.08L1483.08 429.13L1483.87 429.19L1484.66 429.24L1485.45 429.29L1486.24 429.33L1487.03 429.38L1487.82 429.42L1488.61 429.46L1489.4 429.5L1490.19 429.53L1490.98 429.57L1491.77 429.6L1492.56 429.63L1493.35 429.65L1494.14 429.68L1494.93 429.7L1495.72 429.72L1496.51 429.74L1497.3 429.76"/>
<path d="M1288.74 429.77L1289.53 429.71L1290.32 429.62L1291.11 429.49L1291.9 429.3L1292.69 429.05L1293.48 428.7L1294.27 428.22L1295.06 427.57L1295.85 426.71L1296.64 425.58L1297.43 424.11L1298.22 422.23L1299.01 419.85L1299.8 416.87L1300.59 413.18L1301.38 408.68L1302.17 403.27L1302.96 396.83L1303.75 389.27L1304.54 380.52L1305.33 370.54L1306.12 359.3L1306.91 346.84L1307.7 333.23L1308.49 318.59L1309.28 303.11L1310.07 287.03L1310.86 270.62L1311.65 254.23L1312.44 238.22L1313.23 222.97L1314.02 208.88L1314.81 196.34L1315.6 185.69L1316.39 177.24L1317.18 171.25L1317.97 167.87L1318.76 167.21L1319.55 169.25L1320.34 173.93L1321.13 181.05L1321.92 190.4L1322.71 201.65L1323.5 214.47L1324.29 228.48L1325.08 243.29L1325.87 258.52L1326.66 273.81L1327.45 288.84L1328.24 303.32L1329.03 317.03L1329.82 329.79L1330.61 341.48L1331.4 352.01L1332.19 361.37L1332.98 369.57L1333.77 376.64L1334.56 382.67L1335.35 387.75L1336.14 391.95L1336.93 395.4L1337.72 398.19L1338.51 400.42L1339.3 402.19L1340.09 403.56L1340.88 404.62L1341.67 405.43L1342.46 406.05L1343.25 406.51L1344.04 406.85L1344.83 407.1L1345.62 407.28L1346.41 407.42L1347.2 407.52L1347.99 407.59L1348.78 407.65L1349.57 407.7L1350.36 407.73L1351.15 407.76L1351.94 407.78L1352.73 407.81L1353.52 407.83L1354.31 408.18L1355.1 408.52L1355.89 408.87L1356.68 409.22L1357.47 409.57L1358.26 409.91L1359.05 410.26L1359.84 410.61L1360.63 410.95L1361.42 411.3L1362.21 411.65L1363 412L1363.79 412.59L1364.58 413.19L1365.37 413.79L1366.16 414.39L1366.95 414.99L1367.74 415.59L1368.53 416.19L1369.32 416.78L1370.11 417.38L1370.9 417.98L1371.69 418.58L1372.48 419.18L1373.27 419.78L1374.06 420.38L1374.85 420.97L1375.64 421.57L1376.43 421.77L1377.22 421.96L1378.01 422.16L1378.8 422.35L1379.59 422.55L1380.38 422.74L1381.17 422.94L1381.96 423.13L1382.75 423.33L1383.54 423.52L1384.33 423.72L1385.12 423.91L1385.91 424.11L1386.7 424.3L1387.49 424.5L1388.28 424.7L1389.07 424.72L1389.86 424.74L1390.65 424.76L1391.44 424.78L1392.23 424.8L1393.02 424.82L1393.81 424.85L1394.6 424.87L1395.39 424.89L1396.18 424.91L1396.97 424.93L1397.76 424.95L1398.55 424.97L1399.34 425L1400.13 425.02L1400.92 425.04L1401.71 425.06L1402.5 425.08L1403.29 425.1L1404.08 425.12L1404.87 425.15L1405.66 425.17L1406.45 425.19L1407.24 425.21L1408.03 425.23L1408.82 425.25L1409.61 425.27L1410.4 425.3L1411.19 425.32L1411.98 425.34L1412.77 425.36L1413.56 425.38L1414.35 425.4L1415.14 425.42L1415.93 425.45L1416.72 425.47L1417.51 425.49L1418.3 425.51L1419.09 425.53L1419.88 425.55L1420.67 425.57L1421.46 425.6L1422.25 425.62L1423.04 425.64L1423.83 425.66L1424.62 425.68L1425.41 425.7L1426.2 425.72L1426.99 425.75L1427.78 425.77L1428.57 425.79L1429.36 425.81L1430.15 425.83L1430.94 425.85L1431.73 425.88L1432.52 425.9L1433.31 425.92L1434.1 425.94L1434.89 425.96L1435.68 425.98L1436.47 426.01L1437.26 426.03L1438.05 426.05L1438.84 426.07L1439.63 426.1L1440.42 426L1441.21 425.84L1442 425.66L1442.79 425.46L1443.58 425.24L1444.37 425.01L1445.16 424.77L1445.95 424.51L1446.74 424.25L1447.53 423.97L1448.32 423.69L1449.11 423.4L1449.9 423.1L1450.69 422.79L1451.48 422.48L1452.27 422.16L1453.06 421.83L1453.85 421.5L1454.64 421.17L1455.43 420.83L1456.22 420.49L1457.01 420.14L1457.8 419.79L1458.59 419.43L1459.38 419.08L1460.17 418.71L1460.96 418.35L1461.75 417.98L1462.54 417.61L1463.33 417.24L1464.12 416.86L1464.91 416.48L1465.7 416.1L1466.49 415.71L1467.28 415.32L1468.07 414.92L1468.86 414.51L1469.65 414.09L1470.44 413.65L1471.23 413.2L1472.02 412.73L1472.81 412.23L1473.6 411.7L1474.39 411.13L1475.18 410.52L1475.97 409.88L1476.76 409.61L1477.55 409.91L1478.34 410.19L1479.13 410.45L1479.92 410.7L1480.71 410.94L1481.5 411.19L1482.29 411.45L1483.08 411.72L1483.87 412.02L1484.66 412.34L1485.45 412.69L1486.24 413.06L1487.03 413.45L1487.82 413.86L1488.61 414.28L1489.4 414.72L1490.19 415.16L1490.98 415.6L1491.77 416.05L1492.56 416.48L1493.35 417.15L1494.14 417.81L1494.93 418.45L1495.72 419.07L1496.51 419.67L1497.3 420.26L1498.09 420.83L1498.88 421.39L1499.67 421.93L1500.46 422.45L1501.25 422.96L1502.04 423.46L1502.83 423.94L1503.62 424.41L1504.41 424.86L1505.2 425.3L1505.99 425.72L1506.78 426.12L1507.57 426.51L1508.36 426.88L1509.15 427.24L1509.94 427.57L1510.73 427.88L1511.52 428.17L1512.31 428.43L1513.1 428.63L1513.89 428.71L1514.68 428.77L1515.47 428.82L1516.26 428.88L1517.05 428.93L1517.84 428.97L1518.63 429.02L1519.42 429.06L1520.21 429.1L1521 429.14L1521.79 429.18L1522.58 429.21L1523.37 429.25L1524.16 429.28L1524.95 429.31L1525.74 429.34L1526.53 429.37L1527.32 429.39L1528.11 429.42L1528.9 429.44L1529.69 429.46L1530.48 429.48L1531.27 429.5L1532.06 429.52L1532.85 429.54L1533.64 429.56L1534.43 429.58L1535.22 429.59L1536.01 429.61L1536.8 429.62L1537.59 429.64L1538.38 429.65L1539.17 429.66L1539.96 429.67L1540.75 429.68L1541.54 429.69L1542.33 429.7L1543.12 429.71L1543.91 429.72L1544.7 429.73L1545.49 429.74L1546.28 429.75L1547.07 429.75L1547.86 429.76L1548.65 429.77L1549.44 429.77"/>
<path d="M1236.6 429.9L1238.18 429.9L1239.76 429.9L1241.34 429.9L1242.92 429.9L1244.5 429.9L1246.08 429.9L1247.66 429.9L1249.24 429.9L1250.82 429.9L1252.4 429.9L1253.98 429.9L1255.56 429.9L1257.14 429.9L1258.72 429.9L1260.3 429.9L1261.88 429.9L1263.46 429.9L1265.04 429.9L1266.62 429.9L1268.2 429.9L1269.78 429.89L1271.36 429.9L1272.94 429.9L1274.52 429.9L1276.1 429.9L1277.68 429.9L1279.26 429.86L1280.84 429.84L1282.42 429.82L1284 429.71L1285.58 429.69L1287.16 429.51L1288.74 428.18L1290.32 427.76L1291.9 426.21L1293.48 424.98L1295.06 418.88L1296.64 412.85L1298.22 405.75L1299.8 400.04L1301.38 384.85L1302.96 365.75L1304.54 347.19L1306.12 327.25L1307.7 294.01L1309.28 279.81L1310.86 240.13L1312.44 210.1L1314.02 189.64L1315.6 173.81L1317.18 179.07L1318.76 162.8L1320.34 170.81L1321.92 174.9L1323.5 194.25L1325.08 214.32L1326.66 245.58L1328.24 260.03L1329.82 296.58L1331.4 319.34L1332.98 337.41L1334.56 353.03L1336.14 371.73L1337.72 380.66L1339.3 389.8L1340.88 396.23L1342.46 399.82L1344.04 403.55L1345.62 401.04L1347.2 406.27L1348.78 406.41L1350.36 408.84L1351.94 405.95L1353.52 408.19L1355.1 410.96L1356.68 407.98L1358.26 408.84L1359.84 411.79L1361.42 410.68L1363 412.46L1364.58 413.5L1366.16 412.99L1367.74 417.07L1369.32 417.51L1370.9 418.41L1372.48 418.04L1374.06 420.16L1375.64 419.69L1377.22 422.5L1378.8 421.34L1380.38 424.26L1381.96 423.3L1383.54 424.05L1385.12 423.87L1386.7 425.28L1388.28 425.2L1389.86 425.63L1391.44 424.08L1393.02 425.89L1394.6 425.86L1396.18 424.2L1397.76 424.19L1399.34 424.55L1400.92 425.35L1402.5 425.44L1404.08 425.64L1405.66 425.29L1407.24 425.11L1408.82 425.99L1410.4 425.81L1411.98 426.18L1413.56 425.35L1415.14 425.21L1416.72 424.71L1418.3 426.14L1419.88 425.52L1421.46 425.29L1423.04 425.52L1424.62 425.98L1426.2 426.04L1427.78 425.53L1429.36 425.49L1430.94 425.27L1432.52 425.84L1434.1 426.46L1435.68 426.18L1437.26 426.38L1438.84 425.85L1440.42 425.04L1442 424.14L1443.58 423.88L1445.16 424.09L1446.74 422.38L1448.32 423.69L1449.9 421.79L1451.48 421.74L1453.06 420.41L1454.64 421.13L1456.22 419.17L1457.8 417.45L1459.38 418.04L1460.96 417.87L1462.54 415.12L1464.12 415.3L1465.7 417.45L1467.28 415.12L1468.86 413.1L1470.44 411.25L1472.02 410.2L1473.6 411.63L1475.18 408.44L1476.76 408.88L1478.34 408.33L1479.92 409.99L1481.5 409.61L1483.08 410.2L1484.66 411.14L1486.24 412.31L1487.82 411.77L1489.4 412.87L1490.98 413.27L1492.56 415.43L1494.14 416.74L1495.72 417.5L1497.3 418.59L1498.88 420.66L1500.46 421.46L1502.04 422.61L1503.62 423.46L1505.2 424.29L1506.78 425.9L1508.36 425.86L1509.94 427.61L1511.52 427.84L1513.1 427.9L1514.68 429.11L1516.26 428.89L1517.84 429.08L1519.42 428.78L1521 429.2L1522.58 429.04L1524.16 429.03L1525.74 429.38L1527.32 429.36L1528.9 429.27L1530.48 429.6L1532.06 429.19L1533.64 429.6L1535.22 429.62L1536.8 429.61L1538.38 429.78L1539.96 429.53L1541.54 429.79L1543.12 429.18L1544.7 429.64L1546.28 428.24L1547.86 429.75L1549.44 428.59L1551.02 429.06L1552.6 429.86L1554.18 429.69L1555.76 429.8L1557.34 429.85L1558.92 429.74L1560.5 429.81L1562.08 429.85L1563.66 429.9L1565.24 429.81L1566.82 429.88L1568.4 429.88L1569.98 429.81L1571.56 429.9L1573.14 429.82L1574.72 429.9L1576.3 429.04L1577.88 429.86L1579.46 429.9L1581.04 429.9L1582.62 429.85L1584.2 428.32L1585.78 429.89L1587.36 429.9L1588.94 429.87L1590.52 429.88L1592.1 427.99L1593.68 429.9L1595.26 429.9L1596.84 429.88L1598.42 427.91L1600 429.9L1601.58 429.89L1603.16 429.9L1604.74 429.89L1606.32 429.9L1607.9 429.9L1609.48 429.9L1611.06 429.9L1612.64 429.9L1614.22 429.9L1615.8 429.9L1617.38 429.9L1618.96 429.9L1620.54 429.9L1622.12 429.9L1623.7 429.9L1625.28 429.9L1626.86 429.9L1628.44 429.9L1630.02 429.9L1631.6 429.89"/>
</g>
<path d="M1351.6 33.2H1572.2" stroke="#000" stroke-width="3"/>
<g stroke="#000" stroke-width="1.9" fill="none">
<path d="M77.4 507.55V939.42"/>
<path d="M65.78 927.8H556.85"/>
<path d="M96.54 927.8v6.36M115.68 927.8v6.36M134.82 927.8v6.36M153.96 927.8v6.36M173.1 927.8v12.12M192.24 927.8v6.36M211.38 927.8v6.36M230.52 927.8v6.36M249.66 927.8v6.36M268.8 927.8v12.12M287.94 927.8v6.36M307.08 927.8v6.36M326.22 927.8v6.36M345.36 927.8v6.36M364.5 927.8v12.12M383.64 927.8v6.36M402.78 927.8v6.36M421.92 927.8v6.36M441.06 927.8v6.36M460.2 927.8v12.12M479.34 927.8v6.36M498.48 927.8v6.36M517.62 927.8v6.36M536.76 927.8v6.36M555.9 927.8v12.12"/>
<path d="M77.4 910.99h-5.66M77.4 894.18h-5.66M77.4 877.37h-5.66M77.4 860.56h-5.66M77.4 843.75h-11.42M77.4 826.94h-5.66M77.4 810.13h-5.66M77.4 793.32h-5.66M77.4 776.51h-5.66M77.4 759.7h-11.42M77.4 742.89h-5.66M77.4 726.08h-5.66M77.4 709.27h-5.66M77.4 692.46h-5.66M77.4 675.65h-11.42M77.4 658.84h-5.66M77.4 642.03h-5.66M77.4 625.22h-5.66M77.4 608.41h-5.66M77.4 591.6h-11.42M77.4 574.79h-5.66M77.4 557.98h-5.66M77.4 541.17h-5.66M77.4 524.36h-5.66"/>
</g>
<path d="M212.18 927.8L212.18 927.65L212.97 927.61L213.77 927.55L214.57 927.47L215.37 927.38L216.16 927.26L216.96 927.11L217.76 926.94L218.56 926.72L219.35 926.47L220.15 926.17L220.95 925.81L221.75 925.4L222.55 924.92L223.34 924.37L224.14 923.76L224.94 923.06L225.74 922.29L226.53 921.45L227.33 920.52L228.13 919.52L228.93 918.45L229.72 917.32L230.52 916.12L231.32 914.88L232.12 913.6L232.91 912.28L233.71 910.95L234.51 909.62L235.31 908.29L236.1 906.98L236.9 905.7L237.7 904.46L238.5 903.28L239.29 902.15L240.09 901.09L240.89 900.1L241.69 899.18L242.48 898.34L243.28 897.58L244.08 896.9L244.88 896.29L245.67 895.75L246.47 895.28L247.27 894.87L248.06 894.52L248.86 894.22L249.66 893.97L250.46 893.75L251.25 893.57L252.05 893.41L252.85 893.28L253.65 893.17L254.44 893.07L255.24 892.99L256.04 892.93L256.84 892.87L257.63 892.83L258.43 892.79L259.23 892.75L260.03 893L260.82 893.26L261.62 893.51L262.42 893.77L263.22 894.03L264.01 894.29L264.81 894.55L265.61 894.81L266.41 895.32L267.21 895.83L268 896.34L268.8 896.85L269.6 897.36L270.39 897.87L271.19 898.38L271.99 898.89L272.79 899.39L273.59 899.9L274.38 900.41L275.18 900.92L275.98 901.43L276.77 901.8L277.57 902.13L278.37 902.47L279.17 902.8L279.97 903.13L280.76 903.47L281.56 903.8L282.36 904.13L283.15 904.47L283.95 904.8L284.75 905.13L285.55 905.47L286.35 905.8L287.14 906.13L287.94 906.46L288.74 906.8L289.53 907.08L290.33 907.29L291.13 907.49L291.93 907.7L292.73 907.9L293.52 908.11L294.32 908.32L295.12 908.52L295.91 908.73L296.71 908.93L297.51 909.14L298.31 909.35L299.11 909.55L299.9 909.76L300.7 909.96L301.5 910.17L302.3 910.38L303.09 910.58L303.89 910.79L304.69 910.99L305.49 911.2L306.28 911.31L307.08 911.43L307.88 911.54L308.68 911.65L309.47 911.77L310.27 911.88L311.07 911.99L311.87 912.11L312.66 912.22L313.46 912.34L314.26 912.45L315.06 912.56L315.85 912.68L316.65 912.79L317.45 912.91L318.25 913.02L319.04 913.13L319.84 913.25L320.64 913.37L321.44 913.48L322.23 913.63L323.03 913.8L323.83 913.97L324.62 914.14L325.42 914.31L326.22 914.48L327.02 914.66L327.81 914.83L328.61 915L329.41 915.18L330.21 915.36L331 915.53L331.8 915.71L332.6 915.89L333.4 916.08L334.2 916.26L334.99 916.44L335.79 916.62L336.59 916.81L337.38 916.99L338.18 917.18L338.98 917.37L339.78 917.56L340.58 917.76L341.37 917.96L342.17 918.16L342.97 918.36L343.76 918.57L344.56 918.78L345.36 918.99L346.16 919.12L346.96 919.25L347.75 919.39L348.55 919.54L349.35 919.68L350.14 919.84L350.94 919.99L351.74 920.15L352.54 920.32L353.34 920.49L354.13 920.67L354.93 920.84L355.73 921.03L356.52 921.21L357.32 921.4L358.12 921.6L358.92 921.79L359.72 921.99L360.51 922.19L361.31 922.39L362.11 922.59L362.9 922.79L363.7 922.99L364.5 923.2L365.3 923.4L366.1 923.6L366.89 923.8L367.69 923.99L368.49 924.18L369.28 924.37L370.08 924.56L370.88 924.74L371.68 924.89L372.48 925.04L373.27 925.19L374.07 925.33L374.87 925.47L375.66 925.61L376.46 925.75L377.26 925.87L378.06 926L378.86 926.12L379.65 926.24L380.45 926.35L381.25 926.45L382.04 926.55L382.84 926.65L383.64 926.74L384.44 926.83L385.24 926.91L386.03 926.99L386.83 927.06L387.63 927.12L388.42 927.19L389.22 927.24L390.02 927.3L390.82 927.35L391.62 927.39L392.41 927.43L393.21 927.47L394.01 927.51L394.8 927.54L395.6 927.57L396.4 927.6L397.2 927.62L398 927.64L398.79 927.66L398.79 927.8Z" fill="url(#hb)"/>
<path d="M203.41 927.8L203.41 927.65L204.2 927.58L205 927.49L205.8 927.37L206.59 927.21L207.39 926.99L208.19 926.7L208.99 926.32L209.78 925.83L210.58 925.2L211.38 924.4L212.18 923.4L212.97 922.16L213.77 920.63L214.57 918.78L215.37 916.55L216.16 913.89L216.96 910.77L217.76 907.14L218.56 902.96L219.35 898.21L220.15 892.89L220.95 886.98L221.75 880.51L222.55 873.52L223.34 866.07L224.14 858.25L224.94 850.16L225.74 841.92L226.53 833.69L227.33 825.61L228.13 817.86L228.93 810.62L229.72 804.04L230.52 798.31L231.32 793.55L232.12 789.9L232.91 787.45L233.71 786.28L234.51 786.41L235.31 787.84L236.1 790.54L236.9 794.42L237.7 799.38L238.5 805.3L239.29 812.02L240.09 819.38L240.89 827.2L241.69 835.33L242.48 843.57L243.28 851.79L244.08 859.84L244.88 867.6L245.67 874.96L246.47 881.85L247.27 888.2L248.06 894L248.86 899.21L249.66 903.84L250.46 907.9L251.25 911.43L252.05 914.46L252.85 917.03L253.65 919.18L254.44 920.96L255.24 922.43L256.04 923.62L256.84 924.58L257.63 925.34L258.43 925.94L259.23 926.4L260.03 926.76L260.82 927.04L261.62 927.24L262.42 927.4L263.22 927.51L264.01 927.6L264.81 927.66L264.81 927.8Z" fill="#f60000"/>
<path d="M328.61 927.8L328.61 927.49L329.41 927.25L330.21 926.98L331 926.69L331.8 926.39L332.6 926.06L333.4 925.72L334.2 925.37L334.99 925L335.79 924.63L336.59 924.24L337.38 923.84L338.18 923.44L338.98 923.02L339.78 922.6L340.58 922.17L341.37 921.73L342.17 921.28L342.97 920.82L343.76 920.36L344.56 919.89L345.36 919.42L346.16 918.94L346.96 918.45L347.75 917.96L348.55 917.46L349.35 916.96L350.14 916.45L350.94 915.93L351.74 915.41L352.54 914.89L353.34 914.35L354.13 913.82L354.93 913.28L355.73 912.73L356.52 912.19L357.32 911.63L358.12 911.07L358.92 910.51L359.72 909.94L360.51 909.37L361.31 908.8L362.11 908.22L362.9 907.64L363.7 907.05L364.5 906.46L365.3 905.86L366.1 905.26L366.89 904.66L367.69 904.06L368.49 904.66L369.28 905.26L370.08 905.86L370.88 906.46L371.68 907.05L372.48 907.64L373.27 908.22L374.07 908.8L374.87 909.37L375.66 909.94L376.46 910.51L377.26 911.07L378.06 911.63L378.86 912.19L379.65 912.73L380.45 913.28L381.25 913.82L382.04 914.35L382.84 914.89L383.64 915.41L384.44 915.93L385.24 916.45L386.03 916.96L386.83 917.46L387.63 917.96L388.42 918.45L389.22 918.94L390.02 919.42L390.82 919.89L391.62 920.36L392.41 920.82L393.21 921.28L394.01 921.73L394.8 922.17L395.6 922.6L396.4 923.02L397.2 923.44L398 923.84L398.79 924.24L399.59 924.63L400.39 925L401.18 925.37L401.98 925.72L402.78 926.06L403.58 926.39L404.38 926.69L405.17 926.98L405.97 927.25L406.77 927.49L406.77 927.8Z" fill="#f60000"/>
<path d="M212.18 927.8L212.18 927.65L212.97 927.61L213.77 927.55L214.57 927.47L215.37 927.38L216.16 927.26L216.96 927.11L217.76 926.94L218.56 926.72L219.35 926.47L220.15 926.17L220.95 925.81L221.75 925.4L222.55 924.92L223.34 924.37L224.14 923.76L224.94 923.06L225.74 922.29L226.53 921.45L227.33 920.52L228.13 919.52L228.93 918.45L229.72 917.32L230.52 916.12L231.32 914.88L232.12 913.6L232.91 912.28L233.71 910.95L234.51 909.62L235.31 908.29L236.1 906.98L236.9 905.7L237.7 904.46L238.5 903.28L239.29 902.15L240.09 901.09L240.89 900.1L241.69 899.18L242.48 898.34L243.28 897.58L244.08 896.9L244.88 896.29L245.67 895.75L246.47 895.28L247.27 894.87L248.06 894.52L248.86 894.22L249.66 893.97L250.46 893.75L251.25 893.57L252.05 893.41L252.85 893.28L253.65 893.17L254.44 893.07L255.24 892.99L256.04 892.93L256.84 892.87L257.63 892.83L258.43 892.79L259.23 892.75L260.03 893L260.82 893.26L261.62 893.51L262.42 893.77L263.22 894.03L264.01 894.29L264.81 894.55L265.61 894.81L266.41 895.32L267.21 895.83L268 896.34L268.8 896.85L269.6 897.36L270.39 897.87L271.19 898.38L271.99 898.89L272.79 899.39L273.59 899.9L274.38 900.41L275.18 900.92L275.98 901.43L276.77 901.8L277.57 902.13L278.37 902.47L279.17 902.8L279.97 903.13L280.76 903.47L281.56 903.8L282.36 904.13L283.15 904.47L283.95 904.8L284.75 905.13L285.55 905.47L286.35 905.8L287.14 906.13L287.94 906.46L288.74 906.8L289.53 907.08L290.33 907.29L291.13 907.49L291.93 907.7L292.73 907.9L293.52 908.11L294.32 908.32L295.12 908.52L295.91 908.73L296.71 908.93L297.51 909.14L298.31 909.35L299.11 909.55L299.9 909.76L300.7 909.96L301.5 910.17L302.3 910.38L303.09 910.58L303.89 910.79L304.69 910.99L305.49 911.2L306.28 911.31L307.08 911.43L307.88 911.54L308.68 911.65L309.47 911.77L310.27 911.88L311.07 911.99L311.87 912.11L312.66 912.22L313.46 912.34L314.26 912.45L315.06 912.56L315.85 912.68L316.65 912.79L317.45 912.91L318.25 913.02L319.04 913.13L319.84 913.25L320.64 913.37L321.44 913.48L322.23 913.63L323.03 913.8L323.83 913.97L324.62 914.14L325.42 914.31L326.22 914.48L327.02 914.66L327.81 914.83L328.61 915L329.41 915.18L330.21 915.36L331 915.53L331.8 915.71L332.6 915.89L333.4 916.08L334.2 916.26L334.99 916.44L335.79 916.62L336.59 916.81L337.38 916.99L338.18 917.18L338.98 917.37L339.78 917.56L340.58 917.76L341.37 917.96L342.17 918.16L342.97 918.36L343.76 918.57L344.56 918.78L345.36 918.99L346.16 919.12L346.96 919.25L347.75 919.39L348.55 919.54L349.35 919.68L350.14 919.84L350.94 919.99L351.74 920.15L352.54 920.32L353.34 920.49L354.13 920.67L354.93 920.84L355.73 921.03L356.52 921.21L357.32 921.4L358.12 921.6L358.92 921.79L359.72 921.99L360.51 922.19L361.31 922.39L362.11 922.59L362.9 922.79L363.7 922.99L364.5 923.2L365.3 923.4L366.1 923.6L366.89 923.8L367.69 923.99L368.49 924.18L369.28 924.37L370.08 924.56L370.88 924.74L371.68 924.89L372.48 925.04L373.27 925.19L374.07 925.33L374.87 925.47L375.66 925.61L376.46 925.75L377.26 925.87L378.06 926L378.86 926.12L379.65 926.24L380.45 926.35L381.25 926.45L382.04 926.55L382.84 926.65L383.64 926.74L384.44 926.83L385.24 926.91L386.03 926.99L386.83 927.06L387.63 927.12L388.42 927.19L389.22 927.24L390.02 927.3L390.82 927.35L391.62 927.39L392.41 927.43L393.21 927.47L394.01 927.51L394.8 927.54L395.6 927.57L396.4 927.6L397.2 927.62L398 927.64L398.79 927.66L398.79 927.8Z" fill="url(#hk)" clip-path="url(#rc3)"/>
<g fill="none" stroke="#000" stroke-width="1.7" stroke-linejoin="round">
<path d="M203.41 927.65L204.2 927.58L205 927.49L205.8 927.37L206.59 927.21L207.39 926.99L208.19 926.7L208.99 926.32L209.78 925.83L210.58 925.2L211.38 924.4L212.18 923.4L212.97 922.16L213.77 920.63L214.57 918.78L215.37 916.55L216.16 913.89L216.96 910.77L217.76 907.14L218.56 902.96L219.35 898.21L220.15 892.89L220.95 886.98L221.75 880.51L222.55 873.52L223.34 866.07L224.14 858.25L224.94 850.16L225.74 841.92L226.53 833.69L227.33 825.61L228.13 817.86L228.93 810.62L229.72 804.04L230.52 798.31L231.32 793.55L232.12 789.9L232.91 787.45L233.71 786.28L234.51 786.41L235.31 787.84L236.1 790.54L236.9 794.42L237.7 799.38L238.5 805.3L239.29 812.02L240.09 819.38L240.89 827.2L241.69 835.33L242.48 843.57L243.28 851.79L244.08 859.84L244.88 867.6L245.67 874.96L246.47 881.85L247.27 888.2L248.06 894L248.86 899.21L249.66 903.84L250.46 907.9L251.25 911.43L252.05 914.46L252.85 917.03L253.65 919.18L254.44 920.96L255.24 922.43L256.04 923.62L256.84 924.58L257.63 925.34L258.43 925.94L259.23 926.4L260.03 926.76L260.82 927.04L261.62 927.24L262.42 927.4L263.22 927.51L264.01 927.6L264.81 927.66"/>
<path d="M328.61 927.49L329.41 927.25L330.21 926.98L331 926.69L331.8 926.39L332.6 926.06L333.4 925.72L334.2 925.37L334.99 925L335.79 924.63L336.59 924.24L337.38 923.84L338.18 923.44L338.98 923.02L339.78 922.6L340.58 922.17L341.37 921.73L342.17 921.28L342.97 920.82L343.76 920.36L344.56 919.89L345.36 919.42L346.16 918.94L346.96 918.45L347.75 917.96L348.55 917.46L349.35 916.96L350.14 916.45L350.94 915.93L351.74 915.41L352.54 914.89L353.34 914.35L354.13 913.82L354.93 913.28L355.73 912.73L356.52 912.19L357.32 911.63L358.12 911.07L358.92 910.51L359.72 909.94L360.51 909.37L361.31 908.8L362.11 908.22L362.9 907.64L363.7 907.05L364.5 906.46L365.3 905.86L366.1 905.26L366.89 904.66L367.69 904.06L368.49 904.66L369.28 905.26L370.08 905.86L370.88 906.46L371.68 907.05L372.48 907.64L373.27 908.22L374.07 908.8L374.87 909.37L375.66 909.94L376.46 910.51L377.26 911.07L378.06 911.63L378.86 912.19L379.65 912.73L380.45 913.28L381.25 913.82L382.04 914.35L382.84 914.89L383.64 915.41L384.44 915.93L385.24 916.45L386.03 916.96L386.83 917.46L387.63 917.96L388.42 918.45L389.22 918.94L390.02 919.42L390.82 919.89L391.62 920.36L392.41 920.82L393.21 921.28L394.01 921.73L394.8 922.17L395.6 922.6L396.4 923.02L397.2 923.44L398 923.84L398.79 924.24L399.59 924.63L400.39 925L401.18 925.37L401.98 925.72L402.78 926.06L403.58 926.39L404.38 926.69L405.17 926.98L405.97 927.25L406.77 927.49"/>
<path d="M212.18 927.65L212.97 927.61L213.77 927.55L214.57 927.47L215.37 927.38L216.16 927.26L216.96 927.11L217.76 926.94L218.56 926.72L219.35 926.47L220.15 926.17L220.95 925.81L221.75 925.4L222.55 924.92L223.34 924.37L224.14 923.76L224.94 923.06L225.74 922.29L226.53 921.45L227.33 920.52L228.13 919.52L228.93 918.45L229.72 917.32L230.52 916.12L231.32 914.88L232.12 913.6L232.91 912.28L233.71 910.95L234.51 909.62L235.31 908.29L236.1 906.98L236.9 905.7L237.7 904.46L238.5 903.28L239.29 902.15L240.09 901.09L240.89 900.1L241.69 899.18L242.48 898.34L243.28 897.58L244.08 896.9L244.88 896.29L245.67 895.75L246.47 895.28L247.27 894.87L248.06 894.52L248.86 894.22L249.66 893.97L250.46 893.75L251.25 893.57L252.05 893.41L252.85 893.28L253.65 893.17L254.44 893.07L255.24 892.99L256.04 892.93L256.84 892.87L257.63 892.83L258.43 892.79L259.23 892.75L260.03 893L260.82 893.26L261.62 893.51L262.42 893.77L263.22 894.03L264.01 894.29L264.81 894.55L265.61 894.81L266.41 895.32L267.21 895.83L268 896.34L268.8 896.85L269.6 897.36L270.39 897.87L271.19 898.38L271.99 898.89L272.79 899.39L273.59 899.9L274.38 900.41L275.18 900.92L275.98 901.43L276.77 901.8L277.57 902.13L278.37 902.47L279.17 902.8L279.97 903.13L280.76 903.47L281.56 903.8L282.36 904.13L283.15 904.47L283.95 904.8L284.75 905.13L285.55 905.47L286.35 905.8L287.14 906.13L287.94 906.46L288.74 906.8L289.53 907.08L290.33 907.29L291.13 907.49L291.93 907.7L292.73 907.9L293.52 908.11L294.32 908.32L295.12 908.52L295.91 908.73L296.71 908.93L297.51 909.14L298.31 909.35L299.11 909.55L299.9 909.76L300.7 909.96L301.5 910.17L302.3 910.38L303.09 910.58L303.89 910.79L304.69 910.99L305.49 911.2L306.28 911.31L307.08 911.43L307.88 911.54L308.68 911.65L309.47 911.77L310.27 911.88L311.07 911.99L311.87 912.11L312.66 912.22L313.46 912.34L314.26 912.45L315.06 912.56L315.85 912.68L316.65 912.79L317.45 912.91L318.25 913.02L319.04 913.13L319.84 913.25L320.64 913.37L321.44 913.48L322.23 913.63L323.03 913.8L323.83 913.97L324.62 914.14L325.42 914.31L326.22 914.48L327.02 914.66L327.81 914.83L328.61 915L329.41 915.18L330.21 915.36L331 915.53L331.8 915.71L332.6 915.89L333.4 916.08L334.2 916.26L334.99 916.44L335.79 916.62L336.59 916.81L337.38 916.99L338.18 917.18L338.98 917.37L339.78 917.56L340.58 917.76L341.37 917.96L342.17 918.16L342.97 918.36L343.76 918.57L344.56 918.78L345.36 918.99L346.16 919.12L346.96 919.25L347.75 919.39L348.55 919.54L349.35 919.68L350.14 919.84L350.94 919.99L351.74 920.15L352.54 920.32L353.34 920.49L354.13 920.67L354.93 920.84L355.73 921.03L356.52 921.21L357.32 921.4L358.12 921.6L358.92 921.79L359.72 921.99L360.51 922.19L361.31 922.39L362.11 922.59L362.9 922.79L363.7 922.99L364.5 923.2L365.3 923.4L366.1 923.6L366.89 923.8L367.69 923.99L368.49 924.18L369.28 924.37L370.08 924.56L370.88 924.74L371.68 924.89L372.48 925.04L373.27 925.19L374.07 925.33L374.87 925.47L375.66 925.61L376.46 925.75L377.26 925.87L378.06 926L378.86 926.12L379.65 926.24L380.45 926.35L381.25 926.45L382.04 926.55L382.84 926.65L383.64 926.74L384.44 926.83L385.24 926.91L386.03 926.99L386.83 927.06L387.63 927.12L388.42 927.19L389.22 927.24L390.02 927.3L390.82 927.35L391.62 927.39L392.41 927.43L393.21 927.47L394.01 927.51L394.8 927.54L395.6 927.57L396.4 927.6L397.2 927.62L398 927.64L398.79 927.66"/>
<path d="M203.41 927.66L204.2 927.6L205 927.52L205.8 927.41L206.59 927.26L207.39 927.06L208.19 926.79L208.99 926.44L209.78 925.98L210.58 925.39L211.38 924.63L212.18 923.68L212.97 922.5L213.77 921.03L214.57 919.23L215.37 917.06L216.16 914.47L216.96 911.39L217.76 907.79L218.56 903.62L219.35 898.85L220.15 893.45L220.95 887.42L221.75 880.76L222.55 873.49L223.34 865.68L224.14 857.37L224.94 848.68L225.74 839.72L226.53 830.62L227.33 821.53L228.13 812.63L228.93 804.1L229.72 796.1L230.52 788.82L231.32 782.41L232.12 777.02L232.91 772.77L233.71 769.75L234.51 768.02L235.31 767.6L236.1 768.49L236.9 770.63L237.7 773.93L238.5 778.3L239.29 783.59L240.09 789.65L240.89 796.32L241.69 803.43L242.48 810.81L243.28 818.3L244.08 825.75L244.88 833.02L245.67 840.02L246.47 846.63L247.27 852.8L248.06 858.47L248.86 863.61L249.66 868.22L250.46 872.3L251.25 875.85L252.05 878.92L252.85 881.53L253.65 883.73L254.44 885.56L255.24 887.07L256.04 888.3L256.84 889.29L257.63 890.08L258.43 890.7L259.23 891.18L260.03 891.83L260.82 892.39L261.62 892.88L262.42 893.31L263.22 893.7L264.01 894.05L264.81 894.39L265.61 894.7L266.41 895.24L267.21 895.78L268 896.3L268.8 896.82L269.6 897.34L270.39 897.86L271.19 898.37L271.99 898.88L272.79 899.39L273.59 899.9L274.38 900.41L275.18 900.92L275.98 901.43L276.77 901.8L277.57 902.13L278.37 902.47L279.17 902.8L279.97 903.13L280.76 903.47L281.56 903.8L282.36 904.13L283.15 904.47L283.95 904.8L284.75 905.13L285.55 905.47L286.35 905.8L287.14 906.13L287.94 906.46L288.74 906.8L289.53 907.08L290.33 907.29L291.13 907.49L291.93 907.7L292.73 907.9L293.52 908.11L294.32 908.32L295.12 908.52L295.91 908.73L296.71 908.93L297.51 909.14L298.31 909.35L299.11 909.55L299.9 909.76L300.7 909.96L301.5 910.17L302.3 910.38L303.09 910.58L303.89 910.79L304.69 910.99L305.49 911.2L306.28 911.31L307.08 911.43L307.88 911.54L308.68 911.65L309.47 911.77L310.27 911.88L311.07 911.99L311.87 912.11L312.66 912.22L313.46 912.34L314.26 912.45L315.06 912.56L315.85 912.68L316.65 912.79L317.45 912.91L318.25 913.02L319.04 913.13L319.84 913.25L320.64 913.37L321.44 913.48L322.23 913.63L323.03 913.8L323.83 913.97L324.62 914.14L325.42 914.31L326.22 914.37L327.02 914.35L327.81 914.3L328.61 914.22L329.41 914.12L330.21 914L331 913.87L331.8 913.73L332.6 913.57L333.4 913.41L334.2 913.23L334.99 913.05L335.79 912.85L336.59 912.65L337.38 912.44L338.18 912.22L338.98 912L339.78 911.78L340.58 911.55L341.37 911.31L342.17 911.07L342.97 910.83L343.76 910.59L344.56 910.34L345.36 910.09L346.16 909.75L346.96 909.41L347.75 909.07L348.55 908.73L349.35 908.39L350.14 908.05L350.94 907.7L351.74 907.36L352.54 907.02L353.34 906.68L354.13 906.33L354.93 905.99L355.73 905.65L356.52 905.3L357.32 904.96L358.12 904.61L358.92 904.26L359.72 903.91L360.51 903.56L361.31 903.21L362.11 902.85L362.9 902.49L363.7 902.13L364.5 901.76L365.3 901.38L366.1 901L366.89 900.61L367.69 900.21L368.49 900.96L369.28 901.7L370.08 902.41L370.88 903.09L371.68 903.71L372.48 904.29L373.27 904.82L374.07 905.29L374.87 905.7L375.66 906.04L376.46 906.3L377.26 906.5L378.06 906.64L378.86 906.71L379.65 906.75L380.45 906.76L381.25 906.77L382.04 906.78L382.84 906.81L383.64 906.88L384.44 907L385.24 907.16L386.03 907.39L386.83 907.66L387.63 907.98L388.42 908.34L389.22 908.74L390.02 909.16L390.82 909.6L391.62 910.05L392.41 910.51L393.21 910.94L394.01 911.64L394.8 912.33L395.6 913.01L396.4 913.67L397.2 914.32L398 914.95L398.79 915.56L399.59 916.16L400.39 916.75L401.18 917.32L401.98 917.87L402.78 918.4L403.58 918.92L404.38 919.42L405.17 919.9L405.97 920.36L406.77 920.8L407.57 921.21L408.36 921.59L409.16 921.94L409.96 922.19L410.75 922.33L411.55 922.47L412.35 922.6L413.15 922.73L413.95 922.86L414.74 922.98L415.54 923.1L416.34 923.22L417.13 923.33L417.93 923.44L418.73 923.55L419.53 923.65L420.33 923.76L421.12 923.86L421.92 923.95L422.72 924.05L423.51 924.14L424.31 924.23L425.11 924.32L425.91 924.41L426.71 924.49L427.5 924.57L428.3 924.65L429.1 924.73L429.89 924.81L430.69 924.88L431.49 924.95L432.29 925.02L433.09 925.09L433.88 925.16L434.68 925.22L435.48 925.29L436.27 925.35L437.07 925.41L437.87 925.47L438.67 925.53L439.47 925.58L440.26 925.64L441.06 925.69L441.86 925.74L442.65 925.79L443.45 925.84L444.25 925.89L445.05 925.94L445.85 925.98L446.64 926.03L447.44 926.07L448.24 926.12L449.03 926.16L449.83 926.2L450.63 926.24L451.43 926.28L452.23 926.31L453.02 926.35L453.82 926.39L454.62 926.42L455.41 926.45L456.21 926.49L457.01 926.52L457.81 926.55L458.61 926.58L459.4 926.61L460.2 926.64L461 926.67L461.79 926.7L462.59 926.73L463.39 926.75L464.19 926.78L464.99 926.8L465.78 926.83L466.58 926.85L467.38 926.88L468.17 926.9L468.97 926.92L469.77 926.94L470.57 926.96L471.37 926.98L472.16 927L472.96 927.02L473.76 927.04L474.55 927.06L475.35 927.08L476.15 927.1L476.95 927.12L477.75 927.13L478.54 927.15L479.34 927.16L480.14 927.18L480.93 927.2L481.73 927.21L482.53 927.23L483.33 927.24L484.12 927.25L484.92 927.27L485.72 927.28L486.52 927.29L487.32 927.31L488.11 927.32L488.91 927.33L489.71 927.34L490.5 927.35L491.3 927.36L492.1 927.37L492.9 927.38L493.7 927.39L494.49 927.4L495.29 927.41L496.09 927.42L496.88 927.43L497.68 927.44L498.48 927.45L499.28 927.46L500.08 927.47L500.87 927.48L501.67 927.48L502.47 927.49L503.26 927.5L504.06 927.51L504.86 927.51L505.66 927.52L506.46 927.53L507.25 927.54L508.05 927.54L508.85 927.55L509.64 927.55L510.44 927.56L511.24 927.57L512.04 927.57L512.84 927.58L513.63 927.58L514.43 927.59L515.23 927.59L516.02 927.6L516.82 927.6L517.62 927.61L518.42 927.61L519.22 927.62L520.01 927.62L520.81 927.63L521.61 927.63L522.4 927.64L523.2 927.64L524 927.64L524.8 927.65L525.6 927.65L526.39 927.65L527.19 927.66L527.99 927.66L528.78 927.67L529.58 927.67L530.38 927.67"/>
<path d="M157.15 927.8L158.75 927.8L160.34 927.8L161.94 927.8L163.53 927.8L165.12 927.8L166.72 927.8L168.31 927.8L169.91 927.8L171.5 927.8L173.1 927.8L174.69 927.8L176.29 927.8L177.88 927.8L179.48 927.8L181.07 927.8L182.67 927.8L184.26 927.79L185.86 927.79L187.45 927.8L189.05 927.8L190.65 927.79L192.24 927.79L193.84 927.76L195.43 927.72L197.03 927.5L198.62 927.63L200.22 927.31L201.81 926.77L203.41 926.87L205 925.87L206.59 924.28L208.19 922.75L209.78 919.52L211.38 918.73L212.97 912.19L214.57 906.73L216.16 900.02L217.76 887.51L219.35 875.43L220.95 864.2L222.55 852.51L224.14 833.86L225.74 821.82L227.33 807.69L228.93 783.45L230.52 773.44L232.12 761.59L233.71 766.58L235.31 766.58L236.9 766.58L238.5 766.58L240.09 781.28L241.69 785.43L243.28 792.87L244.88 809.01L246.47 817.65L248.06 837.59L249.66 850.6L251.25 854.01L252.85 869.68L254.44 871.58L256.04 878.94L257.63 883.06L259.23 886.82L260.82 891.14L262.42 883.46L264.01 890.23L265.61 894.7L267.21 896.15L268.8 899.69L270.39 897.74L271.99 901.4L273.59 899.51L275.18 898L276.77 901.65L278.37 903.76L279.97 903.75L281.56 906.37L283.15 902.88L284.75 903.99L286.35 906.22L287.94 905.88L289.53 908.15L291.13 907.94L292.73 908L294.32 909.31L295.91 907.6L297.51 906.53L299.11 908.67L300.7 909.81L302.3 912.99L303.89 911.55L305.49 911.23L307.08 911.75L308.68 911.35L310.27 913.17L311.87 912.16L313.46 912.55L315.06 910.65L316.65 914.12L318.25 915.8L319.84 914.47L321.44 912.66L323.03 913.17L324.62 913.19L326.22 914.13L327.81 914.6L329.41 913.13L331 914.36L332.6 912.48L334.2 911.84L335.79 910.39L337.38 910.75L338.98 910.88L340.58 909.24L342.17 909.53L343.76 909.45L345.36 910.57L346.96 907.6L348.55 906.61L350.14 902.88L351.74 904.13L353.34 906.25L354.93 903.66L356.52 902.24L358.12 902.64L359.72 900.72L361.31 898.31L362.9 898.85L364.5 899.5L366.1 899.12L367.69 895.82L369.28 900.02L370.88 899.79L372.48 903L374.07 902.9L375.66 904.75L377.26 903.65L378.86 903.26L380.45 905.38L382.04 906.39L383.64 904.63L385.24 906.66L386.83 904.71L388.42 907.4L390.02 906.54L391.62 910.39L393.21 909.49L394.8 910.79L396.4 914.13L398 912.8L399.59 916.6L401.18 915.98L402.78 917.45L404.38 916.86L405.97 919.98L407.57 920.25L409.16 921.08L410.75 922.03L412.35 922.37L413.95 922.61L415.54 922.38L417.13 923.32L418.73 923.27L420.33 924.13L421.92 922.82L423.51 924.17L425.11 924.56L426.71 924.81L428.3 924.34L429.89 924.91L431.49 925.14L433.09 924.35L434.68 925.89L436.27 925.23L437.87 925.97L439.47 925.33L441.06 925.43L442.65 925.59L444.25 925.29L445.85 926.22L447.44 926.41L449.03 926.32L450.63 925.63L452.23 926.4L453.82 926.56L455.41 926.26L457.01 926.76L458.61 926.45L460.2 926.42L461.79 926.86L463.39 926.65L464.99 927.21L466.58 927.05L468.17 926.76L469.77 926.57L471.37 927.13L472.96 927.63L474.55 927.16L476.15 927.4L477.75 927.17L479.34 926.9L480.93 927.34L482.53 927.29L484.12 927.1L485.72 927.18L487.32 926.31L488.91 927.23L490.5 927.25L492.1 927.58L493.7 927.45L495.29 927.56L496.88 927.42L498.48 927.47L500.08 927.69L501.67 927.63L503.26 926.12L504.86 926.71L506.46 927.53L508.05 927.28L509.64 927.58L511.24 926.9L512.84 927.36L514.43 927.42L516.02 927.62L517.62 927.45L519.22 927.51L520.81 927.72L522.4 927.64L524 927.6L525.6 927.57L527.19 927.77L528.78 927.76L530.38 927.76L531.98 927.69L533.57 927.6L535.16 927.69L536.76 927.7L538.36 927.71L539.95 927.68L541.54 927.67L543.14 927.69L544.74 927.75L546.33 927.63L547.92 927.8L549.52 927.69L551.12 927.79L552.71 927.72L554.3 927.8L555.9 927.8"/>
</g>
<path d="M268.9 528.1H491.4" stroke="#000" stroke-width="3.03"/>
<g stroke="#000" stroke-width="1.9" fill="none">
<path d="M616.9 508.55V939.9"/>
<path d="M605.3 928.3H1096.45"/>
<path d="M636.04 928.3v6.36M655.19 928.3v6.36M674.33 928.3v6.36M693.48 928.3v6.36M712.62 928.3v12.11M731.76 928.3v6.36M750.91 928.3v6.36M770.05 928.3v6.36M789.2 928.3v6.36M808.34 928.3v12.11M827.48 928.3v6.36M846.63 928.3v6.36M865.77 928.3v6.36M884.92 928.3v6.36M904.06 928.3v12.11M923.2 928.3v6.36M942.35 928.3v6.36M961.49 928.3v6.36M980.64 928.3v6.36M999.78 928.3v12.11M1018.92 928.3v6.36M1038.07 928.3v6.36M1057.21 928.3v6.36M1076.36 928.3v6.36M1095.5 928.3v12.11"/>
<path d="M616.9 911.51h-5.65M616.9 894.72h-5.65M616.9 877.93h-5.65M616.9 861.14h-5.65M616.9 844.35h-11.4M616.9 827.56h-5.65M616.9 810.77h-5.65M616.9 793.98h-5.65M616.9 777.19h-5.65M616.9 760.4h-11.4M616.9 743.61h-5.65M616.9 726.82h-5.65M616.9 710.03h-5.65M616.9 693.24h-5.65M616.9 676.45h-11.4M616.9 659.66h-5.65M616.9 642.87h-5.65M616.9 626.08h-5.65M616.9 609.29h-5.65M616.9 592.5h-11.4M616.9 575.71h-5.65M616.9 558.92h-5.65M616.9 542.13h-5.65M616.9 525.34h-5.65"/>
</g>
<path d="M749.31 928.3L749.31 928.15L750.11 928.09L750.91 928.03L751.71 927.94L752.5 927.84L753.3 927.71L754.1 927.55L754.9 927.35L755.69 927.11L756.49 926.82L757.29 926.48L758.09 926.08L758.88 925.62L759.68 925.09L760.48 924.48L761.28 923.8L762.08 923.04L762.87 922.2L763.67 921.27L764.47 920.28L765.27 919.21L766.06 918.07L766.86 916.87L767.66 915.63L768.46 914.35L769.25 913.04L770.05 911.72L770.85 910.4L771.65 909.09L772.44 907.81L773.24 906.57L774.04 905.37L774.84 904.23L775.64 903.16L776.43 902.16L777.23 901.24L778.03 900.4L778.83 899.64L779.62 898.96L780.42 898.35L781.22 897.82L782.02 897.36L782.81 896.96L783.61 896.62L784.41 896.33L785.21 896.1L786.01 895.94L786.8 895.82L787.6 895.73L788.4 895.66L789.2 895.62L789.99 895.59L790.79 895.58L791.59 895.58L792.39 895.59L793.18 895.6L793.98 895.63L794.78 895.65L795.58 895.68L796.38 895.72L797.17 895.75L797.97 895.79L798.77 895.83L799.57 895.86L800.36 895.9L801.16 895.94L801.96 895.98L802.76 896.3L803.55 896.63L804.35 896.95L805.15 897.28L805.95 897.6L806.74 897.92L807.54 898.25L808.34 898.57L809.14 898.9L809.94 899.22L810.73 899.54L811.53 899.87L812.33 900.19L813.13 900.52L813.92 900.87L814.72 901.22L815.52 901.56L816.32 901.91L817.11 902.25L817.91 902.6L818.71 902.95L819.51 903.29L820.31 903.64L821.1 903.98L821.9 904.33L822.7 904.67L823.5 905.02L824.29 905.37L825.09 905.71L825.89 906.06L826.69 906.4L827.48 906.57L828.28 906.68L829.08 906.8L829.88 906.91L830.67 907.03L831.47 907.14L832.27 907.26L833.07 907.37L833.87 907.49L834.66 907.61L835.46 907.72L836.26 907.84L837.06 907.95L837.85 908.07L838.65 908.19L839.45 908.3L840.25 908.42L841.04 908.53L841.84 908.65L842.64 908.77L843.44 908.88L844.24 909L845.03 909.11L845.83 909.25L846.63 909.47L847.43 909.69L848.22 909.9L849.02 910.12L849.82 910.34L850.62 910.56L851.41 910.78L852.21 911L853.01 911.22L853.81 911.44L854.6 911.66L855.4 911.89L856.2 912.11L857 912.33L857.8 912.56L858.59 912.79L859.39 913.02L860.19 913.25L860.99 913.48L861.78 913.71L862.58 913.95L863.38 914.18L864.18 914.42L864.97 914.67L865.77 914.91L866.57 915.16L867.37 915.41L868.16 915.66L868.96 915.92L869.76 916.17L870.56 916.44L871.36 916.7L872.15 916.97L872.95 917.22L873.75 917.38L874.55 917.54L875.34 917.72L876.14 917.89L876.94 918.07L877.74 918.26L878.53 918.45L879.33 918.65L880.13 918.85L880.93 919.06L881.73 919.27L882.52 919.48L883.32 919.7L884.12 919.93L884.92 920.16L885.71 920.39L886.51 920.63L887.31 920.87L888.11 921.11L888.9 921.36L889.7 921.6L890.5 921.85L891.3 922.1L892.1 922.35L892.89 922.6L893.69 922.84L894.49 923.09L895.29 923.33L896.08 923.57L896.88 923.81L897.68 924.04L898.48 924.23L899.27 924.41L900.07 924.59L900.87 924.77L901.67 924.95L902.46 925.13L903.26 925.3L904.06 925.47L904.86 925.63L905.66 925.79L906.45 925.95L907.25 926.1L908.05 926.24L908.85 926.38L909.64 926.52L910.44 926.64L911.24 926.77L912.04 926.88L912.83 926.99L913.63 927.1L914.43 927.2L915.23 927.29L916.03 927.38L916.82 927.46L917.62 927.53L918.42 927.61L919.22 927.67L920.01 927.73L920.81 927.79L921.61 927.84L922.41 927.89L923.2 927.93L924 927.97L924.8 928.01L925.6 928.04L926.39 928.07L927.19 928.1L927.99 928.12L928.79 928.14L929.59 928.16L929.59 928.3Z" fill="url(#hb)"/>
<path d="M740.54 928.3L740.54 928.15L741.34 928.09L742.13 928L742.93 927.87L743.73 927.7L744.53 927.47L745.32 927.17L746.12 926.76L746.92 926.24L747.72 925.56L748.51 924.69L749.31 923.59L750.11 922.22L750.91 920.54L751.71 918.48L752.5 916L753.3 913.04L754.1 909.57L754.9 905.54L755.69 900.91L756.49 895.67L757.29 889.81L758.09 883.35L758.88 876.34L759.68 868.82L760.48 860.9L761.28 852.68L762.08 844.31L762.87 835.93L763.67 827.73L764.47 819.89L765.27 812.61L766.06 806.07L766.86 800.44L767.66 795.88L768.46 792.53L769.25 790.47L770.05 789.78L770.85 790.47L771.65 792.53L772.44 795.88L773.24 800.44L774.04 806.07L774.84 812.61L775.64 819.89L776.43 827.73L777.23 835.93L778.03 844.31L778.83 852.68L779.62 860.9L780.42 868.82L781.22 876.34L782.02 883.35L782.81 889.81L783.61 895.67L784.41 900.91L785.21 905.54L786.01 909.57L786.8 913.04L787.6 916L788.4 918.48L789.2 920.54L789.99 922.22L790.79 923.59L791.59 924.69L792.39 925.56L793.18 926.24L793.98 926.76L794.78 927.17L795.58 927.47L796.38 927.7L797.17 927.87L797.97 928L798.77 928.09L799.57 928.15L799.57 928.3Z" fill="#f60000"/>
<path d="M857 928.3L857 928.12L857.8 927.86L858.59 927.55L859.39 927.21L860.19 926.84L860.99 926.45L861.78 926.04L862.58 925.61L863.38 925.17L864.18 924.71L864.97 924.24L865.77 923.75L866.57 923.25L867.37 922.74L868.16 922.22L868.96 921.68L869.76 921.14L870.56 920.59L871.36 920.03L872.15 919.46L872.95 918.88L873.75 918.29L874.55 917.7L875.34 917.09L876.14 916.48L876.94 915.86L877.74 915.24L878.53 914.61L879.33 913.97L880.13 913.32L880.93 912.67L881.73 912.01L882.52 911.34L883.32 910.67L884.12 910L884.92 909.31L885.71 908.63L886.51 907.93L887.31 907.23L888.11 906.53L888.9 905.82L889.7 905.1L890.5 904.38L891.3 903.65L892.1 902.92L892.89 902.19L893.69 901.45L894.49 900.7L895.29 899.95L896.08 899.2L896.88 898.44L897.68 898.9L898.48 899.65L899.27 900.4L900.07 901.15L900.87 901.89L901.67 902.63L902.46 903.36L903.26 904.09L904.06 904.81L904.86 905.53L905.66 906.24L906.45 906.95L907.25 907.65L908.05 908.35L908.85 909.04L909.64 909.72L910.44 910.4L911.24 911.08L912.04 911.74L912.83 912.41L913.63 913.06L914.43 913.71L915.23 914.35L916.03 914.99L916.82 915.61L917.62 916.23L918.42 916.85L919.22 917.46L920.01 918.05L920.81 918.64L921.61 919.23L922.41 919.8L923.2 920.37L924 920.92L924.8 921.47L925.6 922L926.39 922.53L927.19 923.05L927.99 923.55L928.79 924.04L929.59 924.52L930.38 924.99L931.18 925.44L931.98 925.87L932.78 926.29L933.57 926.69L934.37 927.06L935.17 927.42L935.97 927.74L936.76 928.02L936.76 928.3Z" fill="#f60000"/>
<path d="M749.31 928.3L749.31 928.15L750.11 928.09L750.91 928.03L751.71 927.94L752.5 927.84L753.3 927.71L754.1 927.55L754.9 927.35L755.69 927.11L756.49 926.82L757.29 926.48L758.09 926.08L758.88 925.62L759.68 925.09L760.48 924.48L761.28 923.8L762.08 923.04L762.87 922.2L763.67 921.27L764.47 920.28L765.27 919.21L766.06 918.07L766.86 916.87L767.66 915.63L768.46 914.35L769.25 913.04L770.05 911.72L770.85 910.4L771.65 909.09L772.44 907.81L773.24 906.57L774.04 905.37L774.84 904.23L775.64 903.16L776.43 902.16L777.23 901.24L778.03 900.4L778.83 899.64L779.62 898.96L780.42 898.35L781.22 897.82L782.02 897.36L782.81 896.96L783.61 896.62L784.41 896.33L785.21 896.1L786.01 895.94L786.8 895.82L787.6 895.73L788.4 895.66L789.2 895.62L789.99 895.59L790.79 895.58L791.59 895.58L792.39 895.59L793.18 895.6L793.98 895.63L794.78 895.65L795.58 895.68L796.38 895.72L797.17 895.75L797.97 895.79L798.77 895.83L799.57 895.86L800.36 895.9L801.16 895.94L801.96 895.98L802.76 896.3L803.55 896.63L804.35 896.95L805.15 897.28L805.95 897.6L806.74 897.92L807.54 898.25L808.34 898.57L809.14 898.9L809.94 899.22L810.73 899.54L811.53 899.87L812.33 900.19L813.13 900.52L813.92 900.87L814.72 901.22L815.52 901.56L816.32 901.91L817.11 902.25L817.91 902.6L818.71 902.95L819.51 903.29L820.31 903.64L821.1 903.98L821.9 904.33L822.7 904.67L823.5 905.02L824.29 905.37L825.09 905.71L825.89 906.06L826.69 906.4L827.48 906.57L828.28 906.68L829.08 906.8L829.88 906.91L830.67 907.03L831.47 907.14L832.27 907.26L833.07 907.37L833.87 907.49L834.66 907.61L835.46 907.72L836.26 907.84L837.06 907.95L837.85 908.07L838.65 908.19L839.45 908.3L840.25 908.42L841.04 908.53L841.84 908.65L842.64 908.77L843.44 908.88L844.24 909L845.03 909.11L845.83 909.25L846.63 909.47L847.43 909.69L848.22 909.9L849.02 910.12L849.82 910.34L850.62 910.56L851.41 910.78L852.21 911L853.01 911.22L853.81 911.44L854.6 911.66L855.4 911.89L856.2 912.11L857 912.33L857.8 912.56L858.59 912.79L859.39 913.02L860.19 913.25L860.99 913.48L861.78 913.71L862.58 913.95L863.38 914.18L864.18 914.42L864.97 914.67L865.77 914.91L866.57 915.16L867.37 915.41L868.16 915.66L868.96 915.92L869.76 916.17L870.56 916.44L871.36 916.7L872.15 916.97L872.95 917.22L873.75 917.38L874.55 917.54L875.34 917.72L876.14 917.89L876.94 918.07L877.74 918.26L878.53 918.45L879.33 918.65L880.13 918.85L880.93 919.06L881.73 919.27L882.52 919.48L883.32 919.7L884.12 919.93L884.92 920.16L885.71 920.39L886.51 920.63L887.31 920.87L888.11 921.11L888.9 921.36L889.7 921.6L890.5 921.85L891.3 922.1L892.1 922.35L892.89 922.6L893.69 922.84L894.49 923.09L895.29 923.33L896.08 923.57L896.88 923.81L897.68 924.04L898.48 924.23L899.27 924.41L900.07 924.59L900.87 924.77L901.67 924.95L902.46 925.13L903.26 925.3L904.06 925.47L904.86 925.63L905.66 925.79L906.45 925.95L907.25 926.1L908.05 926.24L908.85 926.38L909.64 926.52L910.44 926.64L911.24 926.77L912.04 926.88L912.83 926.99L913.63 927.1L914.43 927.2L915.23 927.29L916.03 927.38L916.82 927.46L917.62 927.53L918.42 927.61L919.22 927.67L920.01 927.73L920.81 927.79L921.61 927.84L922.41 927.89L923.2 927.93L924 927.97L924.8 928.01L925.6 928.04L926.39 928.07L927.19 928.1L927.99 928.12L928.79 928.14L929.59 928.16L929.59 928.3Z" fill="url(#hk)" clip-path="url(#rc4)"/>
<g fill="none" stroke="#000" stroke-width="1.7" stroke-linejoin="round">
<path d="M740.54 928.15L741.34 928.09L742.13 928L742.93 927.87L743.73 927.7L744.53 927.47L745.32 927.17L746.12 926.76L746.92 926.24L747.72 925.56L748.51 924.69L749.31 923.59L750.11 922.22L750.91 920.54L751.71 918.48L752.5 916L753.3 913.04L754.1 909.57L754.9 905.54L755.69 900.91L756.49 895.67L757.29 889.81L758.09 883.35L758.88 876.34L759.68 868.82L760.48 860.9L761.28 852.68L762.08 844.31L762.87 835.93L763.67 827.73L764.47 819.89L765.27 812.61L766.06 806.07L766.86 800.44L767.66 795.88L768.46 792.53L769.25 790.47L770.05 789.78L770.85 790.47L771.65 792.53L772.44 795.88L773.24 800.44L774.04 806.07L774.84 812.61L775.64 819.89L776.43 827.73L777.23 835.93L778.03 844.31L778.83 852.68L779.62 860.9L780.42 868.82L781.22 876.34L782.02 883.35L782.81 889.81L783.61 895.67L784.41 900.91L785.21 905.54L786.01 909.57L786.8 913.04L787.6 916L788.4 918.48L789.2 920.54L789.99 922.22L790.79 923.59L791.59 924.69L792.39 925.56L793.18 926.24L793.98 926.76L794.78 927.17L795.58 927.47L796.38 927.7L797.17 927.87L797.97 928L798.77 928.09L799.57 928.15"/>
<path d="M857 928.12L857.8 927.86L858.59 927.55L859.39 927.21L860.19 926.84L860.99 926.45L861.78 926.04L862.58 925.61L863.38 925.17L864.18 924.71L864.97 924.24L865.77 923.75L866.57 923.25L867.37 922.74L868.16 922.22L868.96 921.68L869.76 921.14L870.56 920.59L871.36 920.03L872.15 919.46L872.95 918.88L873.75 918.29L874.55 917.7L875.34 917.09L876.14 916.48L876.94 915.86L877.74 915.24L878.53 914.61L879.33 913.97L880.13 913.32L880.93 912.67L881.73 912.01L882.52 911.34L883.32 910.67L884.12 910L884.92 909.31L885.71 908.63L886.51 907.93L887.31 907.23L888.11 906.53L888.9 905.82L889.7 905.1L890.5 904.38L891.3 903.65L892.1 902.92L892.89 902.19L893.69 901.45L894.49 900.7L895.29 899.95L896.08 899.2L896.88 898.44L897.68 898.9L898.48 899.65L899.27 900.4L900.07 901.15L900.87 901.89L901.67 902.63L902.46 903.36L903.26 904.09L904.06 904.81L904.86 905.53L905.66 906.24L906.45 906.95L907.25 907.65L908.05 908.35L908.85 909.04L909.64 909.72L910.44 910.4L911.24 911.08L912.04 911.74L912.83 912.41L913.63 913.06L914.43 913.71L915.23 914.35L916.03 914.99L916.82 915.61L917.62 916.23L918.42 916.85L919.22 917.46L920.01 918.05L920.81 918.64L921.61 919.23L922.41 919.8L923.2 920.37L924 920.92L924.8 921.47L925.6 922L926.39 922.53L927.19 923.05L927.99 923.55L928.79 924.04L929.59 924.52L930.38 924.99L931.18 925.44L931.98 925.87L932.78 926.29L933.57 926.69L934.37 927.06L935.17 927.42L935.97 927.74L936.76 928.02"/>
<path d="M749.31 928.15L750.11 928.09L750.91 928.03L751.71 927.94L752.5 927.84L753.3 927.71L754.1 927.55L754.9 927.35L755.69 927.11L756.49 926.82L757.29 926.48L758.09 926.08L758.88 925.62L759.68 925.09L760.48 924.48L761.28 923.8L762.08 923.04L762.87 922.2L763.67 921.27L764.47 920.28L765.27 919.21L766.06 918.07L766.86 916.87L767.66 915.63L768.46 914.35L769.25 913.04L770.05 911.72L770.85 910.4L771.65 909.09L772.44 907.81L773.24 906.57L774.04 905.37L774.84 904.23L775.64 903.16L776.43 902.16L777.23 901.24L778.03 900.4L778.83 899.64L779.62 898.96L780.42 898.35L781.22 897.82L782.02 897.36L782.81 896.96L783.61 896.62L784.41 896.33L785.21 896.1L786.01 895.94L786.8 895.82L787.6 895.73L788.4 895.66L789.2 895.62L789.99 895.59L790.79 895.58L791.59 895.58L792.39 895.59L793.18 895.6L793.98 895.63L794.78 895.65L795.58 895.68L796.38 895.72L797.17 895.75L797.97 895.79L798.77 895.83L799.57 895.86L800.36 895.9L801.16 895.94L801.96 895.98L802.76 896.3L803.55 896.63L804.35 896.95L805.15 897.28L805.95 897.6L806.74 897.92L807.54 898.25L808.34 898.57L809.14 898.9L809.94 899.22L810.73 899.54L811.53 899.87L812.33 900.19L813.13 900.52L813.92 900.87L814.72 901.22L815.52 901.56L816.32 901.91L817.11 902.25L817.91 902.6L818.71 902.95L819.51 903.29L820.31 903.64L821.1 903.98L821.9 904.33L822.7 904.67L823.5 905.02L824.29 905.37L825.09 905.71L825.89 906.06L826.69 906.4L827.48 906.57L828.28 906.68L829.08 906.8L829.88 906.91L830.67 907.03L831.47 907.14L832.27 907.26L833.07 907.37L833.87 907.49L834.66 907.61L835.46 907.72L836.26 907.84L837.06 907.95L837.85 908.07L838.65 908.19L839.45 908.3L840.25 908.42L841.04 908.53L841.84 908.65L842.64 908.77L843.44 908.88L844.24 909L845.03 909.11L845.83 909.25L846.63 909.47L847.43 909.69L848.22 909.9L849.02 910.12L849.82 910.34L850.62 910.56L851.41 910.78L852.21 911L853.01 911.22L853.81 911.44L854.6 911.66L855.4 911.89L856.2 912.11L857 912.33L857.8 912.56L858.59 912.79L859.39 913.02L860.19 913.25L860.99 913.48L861.78 913.71L862.58 913.95L863.38 914.18L864.18 914.42L864.97 914.67L865.77 914.91L866.57 915.16L867.37 915.41L868.16 915.66L868.96 915.92L869.76 916.17L870.56 916.44L871.36 916.7L872.15 916.97L872.95 917.22L873.75 917.38L874.55 917.54L875.34 917.72L876.14 917.89L876.94 918.07L877.74 918.26L878.53 918.45L879.33 918.65L880.13 918.85L880.93 919.06L881.73 919.27L882.52 919.48L883.32 919.7L884.12 919.93L884.92 920.16L885.71 920.39L886.51 920.63L887.31 920.87L888.11 921.11L888.9 921.36L889.7 921.6L890.5 921.85L891.3 922.1L892.1 922.35L892.89 922.6L893.69 922.84L894.49 923.09L895.29 923.33L896.08 923.57L896.88 923.81L897.68 924.04L898.48 924.23L899.27 924.41L900.07 924.59L900.87 924.77L901.67 924.95L902.46 925.13L903.26 925.3L904.06 925.47L904.86 925.63L905.66 925.79L906.45 925.95L907.25 926.1L908.05 926.24L908.85 926.38L909.64 926.52L910.44 926.64L911.24 926.77L912.04 926.88L912.83 926.99L913.63 927.1L914.43 927.2L915.23 927.29L916.03 927.38L916.82 927.46L917.62 927.53L918.42 927.61L919.22 927.67L920.01 927.73L920.81 927.79L921.61 927.84L922.41 927.89L923.2 927.93L924 927.97L924.8 928.01L925.6 928.04L926.39 928.07L927.19 928.1L927.99 928.12L928.79 928.14L929.59 928.16"/>
<path d="M740.54 928.17L741.34 928.11L742.13 928.03L742.93 927.92L743.73 927.76L744.53 927.55L745.32 927.27L746.12 926.89L746.92 926.4L747.72 925.76L748.51 924.95L749.31 923.91L750.11 922.6L750.91 920.98L751.71 918.99L752.5 916.58L753.3 913.69L754.1 910.27L754.9 906.27L755.69 901.64L756.49 896.36L757.29 890.41L758.09 883.79L758.88 876.53L759.68 868.67L760.48 860.3L761.28 851.5L762.08 842.4L762.87 833.17L763.67 823.95L764.47 814.95L765.27 806.35L766.06 798.35L766.86 791.14L767.66 784.9L768.46 779.76L769.25 775.87L770.05 773.31L770.85 772.13L771.65 772.34L772.44 773.9L773.24 776.74L774.04 780.77L774.84 785.83L775.64 791.77L776.43 798.41L777.23 805.56L778.03 813.05L778.83 820.68L779.62 828.3L780.42 835.75L781.22 842.9L782.02 849.67L782.81 855.96L783.61 861.72L784.41 866.92L785.21 871.56L786.01 875.67L786.8 879.24L787.6 882.3L788.4 884.9L789.2 887.08L789.99 888.88L790.79 890.36L791.59 891.56L792.39 892.52L793.18 893.29L793.98 893.9L794.78 894.37L795.58 894.75L796.38 895.04L797.17 895.26L797.97 895.44L798.77 895.58L799.57 895.69L800.36 895.78L801.16 895.86L801.96 895.93L802.76 896.27L803.55 896.6L804.35 896.94L805.15 897.27L805.95 897.59L806.74 897.92L807.54 898.25L808.34 898.57L809.14 898.89L809.94 899.22L810.73 899.54L811.53 899.87L812.33 900.19L813.13 900.52L813.92 900.87L814.72 901.22L815.52 901.56L816.32 901.91L817.11 902.25L817.91 902.6L818.71 902.95L819.51 903.29L820.31 903.64L821.1 903.98L821.9 904.33L822.7 904.67L823.5 905.02L824.29 905.37L825.09 905.71L825.89 906.06L826.69 906.4L827.48 906.57L828.28 906.68L829.08 906.8L829.88 906.91L830.67 907.03L831.47 907.14L832.27 907.26L833.07 907.37L833.87 907.49L834.66 907.61L835.46 907.72L836.26 907.84L837.06 907.95L837.85 908.07L838.65 908.19L839.45 908.3L840.25 908.42L841.04 908.53L841.84 908.65L842.64 908.77L843.44 908.88L844.24 909L845.03 909.11L845.83 909.25L846.63 909.47L847.43 909.69L848.22 909.9L849.02 910.12L849.82 910.34L850.62 910.56L851.41 910.78L852.21 911L853.01 911.22L853.81 911.44L854.6 911.66L855.4 911.7L856.2 911.68L857 911.61L857.8 911.51L858.59 911.38L859.39 911.24L860.19 911.08L860.99 910.9L861.78 910.71L862.58 910.51L863.38 910.3L864.18 910.08L864.97 909.84L865.77 909.6L866.57 909.35L867.37 909.1L868.16 908.83L868.96 908.56L869.76 908.29L870.56 908.01L871.36 907.72L872.15 907.43L872.95 907.11L873.75 906.7L874.55 906.29L875.34 905.87L876.14 905.45L876.94 905.03L877.74 904.61L878.53 904.19L879.33 903.76L880.13 903.34L880.93 902.91L881.73 902.49L882.52 902.06L883.32 901.63L884.12 901.2L884.92 900.77L885.71 900.34L886.51 899.91L887.31 899.47L888.11 899.04L888.9 898.59L889.7 898.15L890.5 897.7L891.3 897.25L892.1 896.8L892.89 896.34L893.69 895.87L894.49 895.39L895.29 894.91L896.08 894.42L896.88 893.92L897.68 894.57L898.48 895.45L899.27 896.32L900.07 897.16L900.87 897.97L901.67 898.73L902.46 899.45L903.26 900.1L904.06 900.68L904.86 901.19L905.66 901.61L906.45 901.94L907.25 902.19L908.05 902.36L908.85 902.46L909.64 902.52L910.44 902.54L911.24 902.55L912.04 902.57L912.83 902.61L913.63 902.71L914.43 902.85L915.23 903.07L916.03 903.34L916.82 903.68L917.62 904.08L918.42 904.53L919.22 905.02L920.01 905.54L920.81 906.09L921.61 906.65L922.41 907.21L923.2 907.74L924 908.61L924.8 909.46L925.6 910.29L926.39 911.11L927.19 911.9L927.99 912.68L928.79 913.44L929.59 914.17L930.38 914.89L931.18 915.59L931.98 916.27L932.78 916.93L933.57 917.56L934.37 918.18L935.17 918.77L935.97 919.33L936.76 919.86L937.56 920.36L938.36 920.82L939.16 921.21L939.95 921.45L940.75 921.62L941.55 921.79L942.35 921.95L943.15 922.11L943.94 922.27L944.74 922.42L945.54 922.56L946.34 922.7L947.13 922.84L947.93 922.98L948.73 923.11L949.53 923.24L950.32 923.36L951.12 923.49L951.92 923.61L952.72 923.72L953.52 923.83L954.31 923.95L955.11 924.05L955.91 924.16L956.71 924.26L957.5 924.36L958.3 924.46L959.1 924.55L959.9 924.64L960.69 924.74L961.49 924.82L962.29 924.91L963.09 924.99L963.88 925.07L964.68 925.15L965.48 925.23L966.28 925.31L967.08 925.38L967.87 925.45L968.67 925.52L969.47 925.59L970.27 925.66L971.06 925.72L971.86 925.79L972.66 925.85L973.46 925.91L974.25 925.97L975.05 926.03L975.85 926.08L976.65 926.14L977.45 926.19L978.24 926.24L979.04 926.29L979.84 926.34L980.64 926.39L981.43 926.44L982.23 926.48L983.03 926.53L983.83 926.57L984.62 926.62L985.42 926.66L986.22 926.7L987.02 926.74L987.82 926.78L988.61 926.81L989.41 926.85L990.21 926.89L991.01 926.92L991.8 926.96L992.6 926.99L993.4 927.02L994.2 927.05L994.99 927.08L995.79 927.11L996.59 927.14L997.39 927.17L998.18 927.2L998.98 927.23L999.78 927.25L1000.58 927.28L1001.38 927.3L1002.17 927.33L1002.97 927.35L1003.77 927.38L1004.57 927.4L1005.36 927.42L1006.16 927.44L1006.96 927.46L1007.76 927.48L1008.55 927.5L1009.35 927.52L1010.15 927.54L1010.95 927.56L1011.75 927.58L1012.54 927.6L1013.34 927.62L1014.14 927.63L1014.94 927.65L1015.73 927.66L1016.53 927.68L1017.33 927.7L1018.13 927.71L1018.92 927.73L1019.72 927.74L1020.52 927.75L1021.32 927.77L1022.11 927.78L1022.91 927.79L1023.71 927.81L1024.51 927.82L1025.31 927.83L1026.1 927.84L1026.9 927.85L1027.7 927.86L1028.5 927.87L1029.29 927.88L1030.09 927.9L1030.89 927.91L1031.69 927.91L1032.48 927.92L1033.28 927.93L1034.08 927.94L1034.88 927.95L1035.67 927.96L1036.47 927.97L1037.27 927.98L1038.07 927.98L1038.87 927.99L1039.66 928L1040.46 928.01L1041.26 928.01L1042.06 928.02L1042.85 928.03L1043.65 928.04L1044.45 928.04L1045.25 928.05L1046.04 928.05L1046.84 928.06L1047.64 928.07L1048.44 928.07L1049.24 928.08L1050.03 928.08L1050.83 928.09L1051.63 928.09L1052.43 928.1L1053.22 928.1L1054.02 928.11L1054.82 928.11L1055.62 928.12L1056.41 928.12L1057.21 928.13L1058.01 928.13L1058.81 928.14L1059.61 928.14L1060.4 928.14L1061.2 928.15L1062 928.15L1062.8 928.15L1063.59 928.16L1064.39 928.16L1065.19 928.17L1065.99 928.17L1066.78 928.17"/>
<path d="M696.67 928.3L698.26 928.3L699.86 928.3L701.45 928.3L703.05 928.3L704.64 928.3L706.24 928.3L707.83 928.3L709.43 928.3L711.02 928.3L712.62 928.3L714.22 928.3L715.81 928.3L717.41 928.3L719 928.3L720.6 928.3L722.19 928.3L723.79 928.3L725.38 928.29L726.98 928.29L728.57 928.28L730.17 928.3L731.76 928.26L733.36 928.19L734.95 927.99L736.55 927.81L738.15 927.37L739.74 927.24L741.34 927.04L742.93 925.99L744.53 923.5L746.12 922.26L747.72 920.87L749.31 913.66L750.91 907.54L752.5 901.38L754.1 895.14L755.69 885.82L757.29 873.74L758.88 854.56L760.48 841.77L762.08 822.02L763.67 803.87L765.27 788.8L766.86 780.98L768.46 765.02L770.05 769.92L771.65 769.92L773.24 774.78L774.84 775.27L776.43 785.55L778.03 796.58L779.62 812.14L781.22 819.77L782.81 835.32L784.41 850.73L786.01 861.58L787.6 872.25L789.2 879.21L790.79 880.29L792.39 890.46L793.98 890.78L795.58 892.65L797.17 892.66L798.77 891.09L800.36 895.8L801.96 894.28L803.55 894.94L805.15 897.67L806.74 897.79L808.34 898.35L809.94 898.39L811.53 899.32L813.13 900.08L814.72 899.33L816.32 904.3L817.91 904.02L819.51 903.26L821.1 902.05L822.7 906.36L824.29 906.64L825.89 905.55L827.48 906.35L829.08 906.8L830.67 907.76L832.27 908.9L833.87 907.8L835.46 906.11L837.06 907.27L838.65 906.26L840.25 909.34L841.84 910.42L843.44 909.17L845.03 909.33L846.63 907.36L848.22 909.8L849.82 908.49L851.41 910.83L853.01 908.81L854.6 911.78L856.2 912.48L857.8 910.08L859.39 910.08L860.99 910.06L862.58 908.97L864.18 906.69L865.77 907.84L867.37 908L868.96 910.47L870.56 907.81L872.15 906.5L873.75 908.12L875.34 904.32L876.94 902L878.53 902.65L880.13 902.92L881.73 902.68L883.32 896.82L884.92 897.28L886.51 899.33L888.11 899.79L889.7 898.93L891.3 894.12L892.89 894.27L894.49 894.82L896.08 888.94L897.68 890.66L899.27 895.74L900.87 895.84L902.46 897.8L904.06 900.6L905.66 900.17L907.25 900.75L908.85 901.36L910.44 900.61L912.04 899.62L913.63 901.97L915.23 902.28L916.82 903.88L918.42 901.97L920.01 907.23L921.61 907.93L923.2 906.53L924.8 907.87L926.39 908.34L927.99 912.29L929.59 912.37L931.18 915.46L932.78 916.52L934.37 917.72L935.97 918.39L937.56 920.79L939.16 921.65L940.75 921.35L942.35 922.26L943.94 922.3L945.54 922.95L947.13 922.46L948.73 922.61L950.32 923.81L951.92 923.23L953.52 923.57L955.11 923.83L956.71 924.11L958.3 924.82L959.9 925.02L961.49 925.05L963.09 925.08L964.68 926.56L966.28 925.18L967.87 924.97L969.47 925.96L971.06 925.5L972.66 925.93L974.25 926.01L975.85 925.51L977.45 926.08L979.04 926.34L980.64 926.45L982.23 926.99L983.83 926.77L985.42 926.65L987.02 927.01L988.61 927.4L990.21 926.66L991.8 927L993.4 927.31L994.99 927.24L996.59 927.04L998.18 927.37L999.78 927.27L1001.38 927.25L1002.97 927.27L1004.57 927.04L1006.16 927.04L1007.76 927.24L1009.35 927.6L1010.95 927.61L1012.54 927.8L1014.14 927.72L1015.73 927.51L1017.33 927.76L1018.92 927.44L1020.52 927.74L1022.11 927.66L1023.71 927.92L1025.31 927.87L1026.9 927.77L1028.5 927.91L1030.09 927.74L1031.69 927.74L1033.28 927.75L1034.88 927.82L1036.47 927.97L1038.07 926.47L1039.66 927.85L1041.26 927.72L1042.85 926.86L1044.45 928.3L1046.04 928.12L1047.64 926.85L1049.24 928.03L1050.83 928.08L1052.43 926.21L1054.02 928.16L1055.62 928.09L1057.21 928L1058.81 927.34L1060.4 928.12L1062 926.4L1063.59 928.02L1065.19 928.09L1066.78 928.06L1068.38 928.06L1069.97 928.3L1071.57 928.14L1073.17 928.22L1074.76 928.28L1076.36 928.3L1077.95 928.19L1079.55 928.2L1081.14 928.25L1082.74 928.17L1084.33 928.24L1085.93 928.3L1087.52 928.22L1089.12 928.22L1090.71 928.27L1092.31 928.3L1093.9 928.23L1095.5 928.29"/>
</g>
<path d="M814.2 529.5H1022.6" stroke="#000" stroke-width="3.03"/>
<g stroke="#000" stroke-width="1.9" fill="none">
<path d="M1157 507.57V938.8"/>
<path d="M1145.4 927.2H1635.45"/>
<path d="M1176.1 927.2v6.35M1195.2 927.2v6.35M1214.3 927.2v6.35M1233.4 927.2v6.35M1252.5 927.2v12.1M1271.6 927.2v6.35M1290.7 927.2v6.35M1309.8 927.2v6.35M1328.9 927.2v6.35M1348 927.2v12.1M1367.1 927.2v6.35M1386.2 927.2v6.35M1405.3 927.2v6.35M1424.4 927.2v6.35M1443.5 927.2v12.1M1462.6 927.2v6.35M1481.7 927.2v6.35M1500.8 927.2v6.35M1519.9 927.2v6.35M1539 927.2v12.1M1558.1 927.2v6.35M1577.2 927.2v6.35M1596.3 927.2v6.35M1615.4 927.2v6.35M1634.5 927.2v12.1"/>
<path d="M1157 910.42h-5.65M1157 893.63h-5.65M1157 876.85h-5.65M1157 860.06h-5.65M1157 843.28h-11.4M1157 826.49h-5.65M1157 809.71h-5.65M1157 792.92h-5.65M1157 776.13h-5.65M1157 759.35h-11.4M1157 742.57h-5.65M1157 725.78h-5.65M1157 709h-5.65M1157 692.21h-5.65M1157 675.42h-11.4M1157 658.64h-5.65M1157 641.86h-5.65M1157 625.07h-5.65M1157 608.28h-5.65M1157 591.5h-11.4M1157 574.71h-5.65M1157 557.93h-5.65M1157 541.14h-5.65M1157 524.36h-5.65"/>
</g>
<path d="M1292.29 927.2L1292.29 927.05L1293.09 927L1293.88 926.93L1294.68 926.85L1295.47 926.74L1296.27 926.6L1297.07 926.44L1297.86 926.23L1298.66 925.98L1299.45 925.69L1300.25 925.34L1301.05 924.93L1301.84 924.45L1302.64 923.91L1303.43 923.3L1304.23 922.62L1305.03 921.87L1305.82 921.04L1306.62 920.16L1307.41 919.21L1308.21 918.2L1309 917.16L1309.8 916.08L1310.6 914.98L1311.39 913.86L1312.19 912.75L1312.98 911.66L1313.78 910.59L1314.58 909.56L1315.37 908.58L1316.17 907.66L1316.96 906.79L1317.76 906L1318.55 905.27L1319.35 904.62L1320.15 904.03L1320.94 903.52L1321.74 903.07L1322.53 902.69L1323.33 902.36L1324.12 902.09L1324.92 901.86L1325.72 901.67L1326.51 901.51L1327.31 901.39L1328.1 901.3L1328.9 901.23L1329.7 901.18L1330.49 901.15L1331.29 901.12L1332.08 901.11L1332.88 901.1L1333.67 901.1L1334.47 901.1L1335.27 901.11L1336.06 901.11L1336.86 901.12L1337.65 901.13L1338.45 901.14L1339.25 901.15L1340.04 901.16L1340.84 901.17L1341.63 901.18L1342.43 901.51L1343.22 901.84L1344.02 902.17L1344.82 902.5L1345.61 902.83L1346.41 903.16L1347.2 903.49L1348 903.82L1348.8 904.15L1349.59 904.48L1350.39 904.81L1351.18 905.14L1351.98 905.47L1352.78 905.8L1353.57 906.18L1354.37 906.57L1355.16 906.96L1355.96 907.34L1356.75 907.73L1357.55 908.11L1358.35 908.5L1359.14 908.88L1359.94 909.27L1360.73 909.66L1361.53 910.04L1362.33 910.43L1363.12 910.81L1363.92 911.12L1364.71 911.32L1365.51 911.51L1366.3 911.71L1367.1 911.9L1367.9 912.1L1368.69 912.3L1369.49 912.49L1370.28 912.69L1371.08 912.88L1371.88 913.08L1372.67 913.27L1373.47 913.47L1374.26 913.66L1375.06 913.86L1375.85 914.05L1376.65 914.25L1377.45 914.44L1378.24 914.64L1379.04 914.84L1379.83 915.03L1380.63 915.17L1381.42 915.3L1382.22 915.44L1383.02 915.58L1383.81 915.71L1384.61 915.85L1385.4 915.99L1386.2 916.12L1387 916.26L1387.79 916.4L1388.59 916.53L1389.38 916.67L1390.18 916.8L1390.97 916.94L1391.77 917.08L1392.57 917.21L1393.36 917.35L1394.16 917.49L1394.95 917.62L1395.75 917.76L1396.55 917.93L1397.34 918.11L1398.14 918.28L1398.93 918.45L1399.73 918.62L1400.53 918.79L1401.32 918.97L1402.12 919.14L1402.91 919.31L1403.71 919.49L1404.5 919.66L1405.3 919.83L1406.1 920.01L1406.89 920.18L1407.69 920.36L1408.48 920.53L1409.28 920.71L1410.08 920.89L1410.87 920.99L1411.67 921.03L1412.46 921.08L1413.26 921.13L1414.05 921.19L1414.85 921.24L1415.65 921.29L1416.44 921.35L1417.24 921.41L1418.03 921.47L1418.83 921.53L1419.62 921.59L1420.42 921.65L1421.22 921.72L1422.01 921.79L1422.81 921.86L1423.6 921.94L1424.4 922.01L1425.2 922.09L1425.99 922.17L1426.79 922.26L1427.58 922.35L1428.38 922.44L1429.17 922.53L1429.97 922.62L1430.77 922.72L1431.56 922.82L1432.36 922.92L1433.15 923.03L1433.95 923.14L1434.75 923.25L1435.54 923.36L1436.34 923.47L1437.13 923.59L1437.93 923.71L1438.72 923.82L1439.52 923.94L1440.32 924.06L1441.11 924.18L1441.91 924.3L1442.7 924.42L1443.5 924.54L1444.3 924.64L1445.09 924.74L1445.89 924.83L1446.68 924.93L1447.48 925.03L1448.28 925.13L1449.07 925.22L1449.87 925.32L1450.66 925.41L1451.46 925.51L1452.25 925.6L1453.05 925.69L1453.85 925.78L1454.64 925.86L1455.44 925.94L1456.23 926.02L1457.03 926.1L1457.83 926.18L1458.62 926.25L1459.42 926.32L1460.21 926.38L1461.01 926.44L1461.8 926.5L1462.6 926.56L1463.4 926.61L1464.19 926.66L1464.99 926.71L1465.78 926.75L1466.58 926.79L1467.38 926.83L1468.17 926.86L1468.97 926.9L1469.76 926.93L1470.56 926.96L1471.35 926.98L1472.15 927L1472.95 927.02L1473.74 927.04L1474.54 927.06L1474.54 927.2Z" fill="url(#hb)"/>
<path d="M1283.54 927.2L1283.54 927.01L1284.33 926.92L1285.13 926.8L1285.92 926.62L1286.72 926.37L1287.52 926.04L1288.31 925.58L1289.11 924.97L1289.9 924.16L1290.7 923.1L1291.5 921.74L1292.29 920.01L1293.09 917.84L1293.88 915.16L1294.68 911.87L1295.47 907.91L1296.27 903.2L1297.07 897.68L1297.86 891.29L1298.66 884.01L1299.45 875.84L1300.25 866.81L1301.05 857L1301.84 846.5L1302.64 835.49L1303.43 824.15L1304.23 812.7L1305.03 801.42L1305.82 790.58L1306.62 780.48L1307.41 771.41L1308.21 763.63L1309 757.4L1309.8 752.92L1310.6 750.34L1311.39 749.74L1312.19 751.14L1312.98 754.5L1313.78 759.7L1314.58 766.57L1315.37 774.89L1316.17 784.41L1316.96 794.84L1317.76 805.9L1318.55 817.28L1319.35 828.71L1320.15 839.95L1320.94 850.77L1321.74 861.01L1322.53 870.52L1323.33 879.21L1324.12 887.03L1324.92 893.95L1325.72 899.99L1326.51 905.18L1327.31 909.58L1328.1 913.26L1328.9 916.3L1329.7 918.77L1330.49 920.75L1331.29 922.33L1332.08 923.56L1332.88 924.51L1333.67 925.23L1334.47 925.78L1335.27 926.18L1336.06 926.48L1336.86 926.7L1337.65 926.85L1338.45 926.96L1339.25 927.04L1339.25 927.2Z" fill="#f60000"/>
<path d="M1406.89 927.2L1406.89 926.89L1407.69 926.51L1408.48 926.08L1409.28 925.6L1410.08 925.09L1410.87 924.54L1411.67 923.97L1412.46 923.38L1413.26 922.76L1414.05 922.13L1414.85 921.47L1415.65 920.8L1416.44 920.1L1417.24 919.4L1418.03 918.68L1418.83 917.94L1419.62 917.19L1420.42 916.43L1421.22 915.65L1422.01 914.86L1422.81 914.06L1423.6 913.25L1424.4 912.43L1425.2 911.6L1425.99 910.75L1426.79 909.9L1427.58 909.04L1428.38 908.16L1429.17 907.28L1429.97 906.39L1430.77 905.49L1431.56 904.58L1432.36 903.66L1433.15 902.74L1433.95 901.8L1434.75 900.86L1435.54 899.91L1436.34 898.96L1437.13 897.99L1437.93 897.02L1438.72 896.04L1439.52 895.05L1440.32 894.06L1441.11 893.06L1441.91 892.05L1442.7 891.04L1443.5 890.02L1444.3 888.99L1445.09 887.95L1445.89 886.91L1446.68 886.7L1447.48 887.75L1448.28 888.78L1449.07 889.81L1449.87 890.83L1450.66 891.85L1451.46 892.86L1452.25 893.86L1453.05 894.85L1453.85 895.84L1454.64 896.82L1455.44 897.8L1456.23 898.76L1457.03 899.72L1457.83 900.67L1458.62 901.62L1459.42 902.55L1460.21 903.48L1461.01 904.4L1461.8 905.31L1462.6 906.21L1463.4 907.1L1464.19 907.99L1464.99 908.86L1465.78 909.73L1466.58 910.58L1467.38 911.43L1468.17 912.26L1468.97 913.09L1469.76 913.9L1470.56 914.7L1471.35 915.49L1472.15 916.27L1472.95 917.04L1473.74 917.79L1474.54 918.53L1475.33 919.25L1476.13 919.96L1476.92 920.66L1477.72 921.34L1478.52 922L1479.31 922.64L1480.11 923.26L1480.9 923.86L1481.7 924.43L1482.5 924.98L1483.29 925.5L1484.09 925.98L1484.88 926.43L1485.68 926.82L1485.68 927.2Z" fill="#f60000"/>
<path d="M1292.29 927.2L1292.29 927.05L1293.09 927L1293.88 926.93L1294.68 926.85L1295.47 926.74L1296.27 926.6L1297.07 926.44L1297.86 926.23L1298.66 925.98L1299.45 925.69L1300.25 925.34L1301.05 924.93L1301.84 924.45L1302.64 923.91L1303.43 923.3L1304.23 922.62L1305.03 921.87L1305.82 921.04L1306.62 920.16L1307.41 919.21L1308.21 918.2L1309 917.16L1309.8 916.08L1310.6 914.98L1311.39 913.86L1312.19 912.75L1312.98 911.66L1313.78 910.59L1314.58 909.56L1315.37 908.58L1316.17 907.66L1316.96 906.79L1317.76 906L1318.55 905.27L1319.35 904.62L1320.15 904.03L1320.94 903.52L1321.74 903.07L1322.53 902.69L1323.33 902.36L1324.12 902.09L1324.92 901.86L1325.72 901.67L1326.51 901.51L1327.31 901.39L1328.1 901.3L1328.9 901.23L1329.7 901.18L1330.49 901.15L1331.29 901.12L1332.08 901.11L1332.88 901.1L1333.67 901.1L1334.47 901.1L1335.27 901.11L1336.06 901.11L1336.86 901.12L1337.65 901.13L1338.45 901.14L1339.25 901.15L1340.04 901.16L1340.84 901.17L1341.63 901.18L1342.43 901.51L1343.22 901.84L1344.02 902.17L1344.82 902.5L1345.61 902.83L1346.41 903.16L1347.2 903.49L1348 903.82L1348.8 904.15L1349.59 904.48L1350.39 904.81L1351.18 905.14L1351.98 905.47L1352.78 905.8L1353.57 906.18L1354.37 906.57L1355.16 906.96L1355.96 907.34L1356.75 907.73L1357.55 908.11L1358.35 908.5L1359.14 908.88L1359.94 909.27L1360.73 909.66L1361.53 910.04L1362.33 910.43L1363.12 910.81L1363.92 911.12L1364.71 911.32L1365.51 911.51L1366.3 911.71L1367.1 911.9L1367.9 912.1L1368.69 912.3L1369.49 912.49L1370.28 912.69L1371.08 912.88L1371.88 913.08L1372.67 913.27L1373.47 913.47L1374.26 913.66L1375.06 913.86L1375.85 914.05L1376.65 914.25L1377.45 914.44L1378.24 914.64L1379.04 914.84L1379.83 915.03L1380.63 915.17L1381.42 915.3L1382.22 915.44L1383.02 915.58L1383.81 915.71L1384.61 915.85L1385.4 915.99L1386.2 916.12L1387 916.26L1387.79 916.4L1388.59 916.53L1389.38 916.67L1390.18 916.8L1390.97 916.94L1391.77 917.08L1392.57 917.21L1393.36 917.35L1394.16 917.49L1394.95 917.62L1395.75 917.76L1396.55 917.93L1397.34 918.11L1398.14 918.28L1398.93 918.45L1399.73 918.62L1400.53 918.79L1401.32 918.97L1402.12 919.14L1402.91 919.31L1403.71 919.49L1404.5 919.66L1405.3 919.83L1406.1 920.01L1406.89 920.18L1407.69 920.36L1408.48 920.53L1409.28 920.71L1410.08 920.89L1410.87 920.99L1411.67 921.03L1412.46 921.08L1413.26 921.13L1414.05 921.19L1414.85 921.24L1415.65 921.29L1416.44 921.35L1417.24 921.41L1418.03 921.47L1418.83 921.53L1419.62 921.59L1420.42 921.65L1421.22 921.72L1422.01 921.79L1422.81 921.86L1423.6 921.94L1424.4 922.01L1425.2 922.09L1425.99 922.17L1426.79 922.26L1427.58 922.35L1428.38 922.44L1429.17 922.53L1429.97 922.62L1430.77 922.72L1431.56 922.82L1432.36 922.92L1433.15 923.03L1433.95 923.14L1434.75 923.25L1435.54 923.36L1436.34 923.47L1437.13 923.59L1437.93 923.71L1438.72 923.82L1439.52 923.94L1440.32 924.06L1441.11 924.18L1441.91 924.3L1442.7 924.42L1443.5 924.54L1444.3 924.64L1445.09 924.74L1445.89 924.83L1446.68 924.93L1447.48 925.03L1448.28 925.13L1449.07 925.22L1449.87 925.32L1450.66 925.41L1451.46 925.51L1452.25 925.6L1453.05 925.69L1453.85 925.78L1454.64 925.86L1455.44 925.94L1456.23 926.02L1457.03 926.1L1457.83 926.18L1458.62 926.25L1459.42 926.32L1460.21 926.38L1461.01 926.44L1461.8 926.5L1462.6 926.56L1463.4 926.61L1464.19 926.66L1464.99 926.71L1465.78 926.75L1466.58 926.79L1467.38 926.83L1468.17 926.86L1468.97 926.9L1469.76 926.93L1470.56 926.96L1471.35 926.98L1472.15 927L1472.95 927.02L1473.74 927.04L1474.54 927.06L1474.54 927.2Z" fill="url(#hk)" clip-path="url(#rc5)"/>
<g fill="none" stroke="#000" stroke-width="1.7" stroke-linejoin="round">
<path d="M1283.54 927.01L1284.33 926.92L1285.13 926.8L1285.92 926.62L1286.72 926.37L1287.52 926.04L1288.31 925.58L1289.11 924.97L1289.9 924.16L1290.7 923.1L1291.5 921.74L1292.29 920.01L1293.09 917.84L1293.88 915.16L1294.68 911.87L1295.47 907.91L1296.27 903.2L1297.07 897.68L1297.86 891.29L1298.66 884.01L1299.45 875.84L1300.25 866.81L1301.05 857L1301.84 846.5L1302.64 835.49L1303.43 824.15L1304.23 812.7L1305.03 801.42L1305.82 790.58L1306.62 780.48L1307.41 771.41L1308.21 763.63L1309 757.4L1309.8 752.92L1310.6 750.34L1311.39 749.74L1312.19 751.14L1312.98 754.5L1313.78 759.7L1314.58 766.57L1315.37 774.89L1316.17 784.41L1316.96 794.84L1317.76 805.9L1318.55 817.28L1319.35 828.71L1320.15 839.95L1320.94 850.77L1321.74 861.01L1322.53 870.52L1323.33 879.21L1324.12 887.03L1324.92 893.95L1325.72 899.99L1326.51 905.18L1327.31 909.58L1328.1 913.26L1328.9 916.3L1329.7 918.77L1330.49 920.75L1331.29 922.33L1332.08 923.56L1332.88 924.51L1333.67 925.23L1334.47 925.78L1335.27 926.18L1336.06 926.48L1336.86 926.7L1337.65 926.85L1338.45 926.96L1339.25 927.04"/>
<path d="M1406.89 926.89L1407.69 926.51L1408.48 926.08L1409.28 925.6L1410.08 925.09L1410.87 924.54L1411.67 923.97L1412.46 923.38L1413.26 922.76L1414.05 922.13L1414.85 921.47L1415.65 920.8L1416.44 920.1L1417.24 919.4L1418.03 918.68L1418.83 917.94L1419.62 917.19L1420.42 916.43L1421.22 915.65L1422.01 914.86L1422.81 914.06L1423.6 913.25L1424.4 912.43L1425.2 911.6L1425.99 910.75L1426.79 909.9L1427.58 909.04L1428.38 908.16L1429.17 907.28L1429.97 906.39L1430.77 905.49L1431.56 904.58L1432.36 903.66L1433.15 902.74L1433.95 901.8L1434.75 900.86L1435.54 899.91L1436.34 898.96L1437.13 897.99L1437.93 897.02L1438.72 896.04L1439.52 895.05L1440.32 894.06L1441.11 893.06L1441.91 892.05L1442.7 891.04L1443.5 890.02L1444.3 888.99L1445.09 887.95L1445.89 886.91L1446.68 886.7L1447.48 887.75L1448.28 888.78L1449.07 889.81L1449.87 890.83L1450.66 891.85L1451.46 892.86L1452.25 893.86L1453.05 894.85L1453.85 895.84L1454.64 896.82L1455.44 897.8L1456.23 898.76L1457.03 899.72L1457.83 900.67L1458.62 901.62L1459.42 902.55L1460.21 903.48L1461.01 904.4L1461.8 905.31L1462.6 906.21L1463.4 907.1L1464.19 907.99L1464.99 908.86L1465.78 909.73L1466.58 910.58L1467.38 911.43L1468.17 912.26L1468.97 913.09L1469.76 913.9L1470.56 914.7L1471.35 915.49L1472.15 916.27L1472.95 917.04L1473.74 917.79L1474.54 918.53L1475.33 919.25L1476.13 919.96L1476.92 920.66L1477.72 921.34L1478.52 922L1479.31 922.64L1480.11 923.26L1480.9 923.86L1481.7 924.43L1482.5 924.98L1483.29 925.5L1484.09 925.98L1484.88 926.43L1485.68 926.82"/>
<path d="M1292.29 927.05L1293.09 927L1293.88 926.93L1294.68 926.85L1295.47 926.74L1296.27 926.6L1297.07 926.44L1297.86 926.23L1298.66 925.98L1299.45 925.69L1300.25 925.34L1301.05 924.93L1301.84 924.45L1302.64 923.91L1303.43 923.3L1304.23 922.62L1305.03 921.87L1305.82 921.04L1306.62 920.16L1307.41 919.21L1308.21 918.2L1309 917.16L1309.8 916.08L1310.6 914.98L1311.39 913.86L1312.19 912.75L1312.98 911.66L1313.78 910.59L1314.58 909.56L1315.37 908.58L1316.17 907.66L1316.96 906.79L1317.76 906L1318.55 905.27L1319.35 904.62L1320.15 904.03L1320.94 903.52L1321.74 903.07L1322.53 902.69L1323.33 902.36L1324.12 902.09L1324.92 901.86L1325.72 901.67L1326.51 901.51L1327.31 901.39L1328.1 901.3L1328.9 901.23L1329.7 901.18L1330.49 901.15L1331.29 901.12L1332.08 901.11L1332.88 901.1L1333.67 901.1L1334.47 901.1L1335.27 901.11L1336.06 901.11L1336.86 901.12L1337.65 901.13L1338.45 901.14L1339.25 901.15L1340.04 901.16L1340.84 901.17L1341.63 901.18L1342.43 901.51L1343.22 901.84L1344.02 902.17L1344.82 902.5L1345.61 902.83L1346.41 903.16L1347.2 903.49L1348 903.82L1348.8 904.15L1349.59 904.48L1350.39 904.81L1351.18 905.14L1351.98 905.47L1352.78 905.8L1353.57 906.18L1354.37 906.57L1355.16 906.96L1355.96 907.34L1356.75 907.73L1357.55 908.11L1358.35 908.5L1359.14 908.88L1359.94 909.27L1360.73 909.66L1361.53 910.04L1362.33 910.43L1363.12 910.81L1363.92 911.12L1364.71 911.32L1365.51 911.51L1366.3 911.71L1367.1 911.9L1367.9 912.1L1368.69 912.3L1369.49 912.49L1370.28 912.69L1371.08 912.88L1371.88 913.08L1372.67 913.27L1373.47 913.47L1374.26 913.66L1375.06 913.86L1375.85 914.05L1376.65 914.25L1377.45 914.44L1378.24 914.64L1379.04 914.84L1379.83 915.03L1380.63 915.17L1381.42 915.3L1382.22 915.44L1383.02 915.58L1383.81 915.71L1384.61 915.85L1385.4 915.99L1386.2 916.12L1387 916.26L1387.79 916.4L1388.59 916.53L1389.38 916.67L1390.18 916.8L1390.97 916.94L1391.77 917.08L1392.57 917.21L1393.36 917.35L1394.16 917.49L1394.95 917.62L1395.75 917.76L1396.55 917.93L1397.34 918.11L1398.14 918.28L1398.93 918.45L1399.73 918.62L1400.53 918.79L1401.32 918.97L1402.12 919.14L1402.91 919.31L1403.71 919.49L1404.5 919.66L1405.3 919.83L1406.1 920.01L1406.89 920.18L1407.69 920.36L1408.48 920.53L1409.28 920.71L1410.08 920.89L1410.87 920.99L1411.67 921.03L1412.46 921.08L1413.26 921.13L1414.05 921.19L1414.85 921.24L1415.65 921.29L1416.44 921.35L1417.24 921.41L1418.03 921.47L1418.83 921.53L1419.62 921.59L1420.42 921.65L1421.22 921.72L1422.01 921.79L1422.81 921.86L1423.6 921.94L1424.4 922.01L1425.2 922.09L1425.99 922.17L1426.79 922.26L1427.58 922.35L1428.38 922.44L1429.17 922.53L1429.97 922.62L1430.77 922.72L1431.56 922.82L1432.36 922.92L1433.15 923.03L1433.95 923.14L1434.75 923.25L1435.54 923.36L1436.34 923.47L1437.13 923.59L1437.93 923.71L1438.72 923.82L1439.52 923.94L1440.32 924.06L1441.11 924.18L1441.91 924.3L1442.7 924.42L1443.5 924.54L1444.3 924.64L1445.09 924.74L1445.89 924.83L1446.68 924.93L1447.48 925.03L1448.28 925.13L1449.07 925.22L1449.87 925.32L1450.66 925.41L1451.46 925.51L1452.25 925.6L1453.05 925.69L1453.85 925.78L1454.64 925.86L1455.44 925.94L1456.23 926.02L1457.03 926.1L1457.83 926.18L1458.62 926.25L1459.42 926.32L1460.21 926.38L1461.01 926.44L1461.8 926.5L1462.6 926.56L1463.4 926.61L1464.19 926.66L1464.99 926.71L1465.78 926.75L1466.58 926.79L1467.38 926.83L1468.17 926.86L1468.97 926.9L1469.76 926.93L1470.56 926.96L1471.35 926.98L1472.15 927L1472.95 927.02L1473.74 927.04L1474.54 927.06"/>
<path d="M1283.54 927.04L1284.33 926.96L1285.13 926.85L1285.92 926.69L1286.72 926.47L1287.52 926.16L1288.31 925.75L1289.11 925.19L1289.9 924.45L1290.7 923.48L1291.5 922.22L1292.29 920.61L1293.09 918.57L1293.88 916.03L1294.68 912.91L1295.47 909.12L1296.27 904.58L1297.07 899.22L1297.86 892.98L1298.66 885.81L1299.45 877.7L1300.25 868.66L1301.05 858.74L1301.84 848.03L1302.64 836.66L1303.43 824.81L1304.23 812.7L1305.03 800.56L1305.82 788.69L1306.62 777.37L1307.41 766.9L1308.21 757.57L1309 749.65L1309.8 743.37L1310.6 738.92L1311.39 736.4L1312.19 735.9L1312.98 737.38L1313.78 740.8L1314.58 746L1315.37 752.79L1316.17 760.93L1316.96 770.17L1317.76 780.22L1318.55 790.77L1319.35 801.56L1320.15 812.32L1320.94 822.83L1321.74 832.87L1322.53 842.3L1323.33 851L1324.12 858.89L1324.92 865.94L1325.72 872.14L1326.51 877.51L1327.31 882.1L1328.1 885.97L1328.9 889.19L1329.7 891.83L1330.49 893.96L1331.29 895.67L1332.08 897.01L1332.88 898.06L1333.67 898.87L1334.47 899.48L1335.27 899.94L1336.06 900.29L1336.86 900.54L1337.65 900.73L1338.45 900.86L1339.25 900.96L1340.04 901.04L1340.84 901.09L1341.63 901.13L1342.43 901.48L1343.22 901.82L1344.02 902.16L1344.82 902.49L1345.61 902.83L1346.41 903.16L1347.2 903.49L1348 903.82L1348.8 904.15L1349.59 904.48L1350.39 904.81L1351.18 905.14L1351.98 905.47L1352.78 905.8L1353.57 906.18L1354.37 906.57L1355.16 906.96L1355.96 907.34L1356.75 907.73L1357.55 908.11L1358.35 908.5L1359.14 908.88L1359.94 909.27L1360.73 909.66L1361.53 910.04L1362.33 910.43L1363.12 910.81L1363.92 911.12L1364.71 911.32L1365.51 911.51L1366.3 911.71L1367.1 911.9L1367.9 912.1L1368.69 912.3L1369.49 912.49L1370.28 912.69L1371.08 912.88L1371.88 913.08L1372.67 913.27L1373.47 913.47L1374.26 913.66L1375.06 913.86L1375.85 914.05L1376.65 914.25L1377.45 914.44L1378.24 914.64L1379.04 914.84L1379.83 915.03L1380.63 915.17L1381.42 915.3L1382.22 915.44L1383.02 915.58L1383.81 915.71L1384.61 915.85L1385.4 915.99L1386.2 916.12L1387 916.26L1387.79 916.4L1388.59 916.53L1389.38 916.67L1390.18 916.8L1390.97 916.94L1391.77 917.08L1392.57 917.21L1393.36 917.35L1394.16 917.49L1394.95 917.62L1395.75 917.76L1396.55 917.93L1397.34 918.11L1398.14 918.28L1398.93 918.45L1399.73 918.62L1400.53 918.79L1401.32 918.97L1402.12 919.14L1402.91 919.31L1403.71 919.49L1404.5 919.62L1405.3 919.52L1406.1 919.34L1406.89 919.1L1407.69 918.82L1408.48 918.51L1409.28 918.17L1410.08 917.8L1410.87 917.34L1411.67 916.8L1412.46 916.24L1413.26 915.67L1414.05 915.08L1414.85 914.47L1415.65 913.86L1416.44 913.23L1417.24 912.58L1418.03 911.93L1418.83 911.27L1419.62 910.59L1420.42 909.91L1421.22 909.21L1422.01 908.51L1422.81 907.8L1423.6 907.08L1424.4 906.36L1425.2 905.63L1425.99 904.89L1426.79 904.14L1427.58 903.39L1428.38 902.63L1429.17 901.87L1429.97 901.1L1430.77 900.33L1431.56 899.55L1432.36 898.76L1433.15 897.97L1433.95 897.18L1434.75 896.38L1435.54 895.57L1436.34 894.76L1437.13 893.95L1437.93 893.13L1438.72 892.3L1439.52 891.47L1440.32 890.63L1441.11 889.78L1441.91 888.93L1442.7 888.08L1443.5 887.21L1444.3 886.32L1445.09 885.42L1445.89 884.52L1446.68 884.42L1447.48 885.51L1448.28 886.6L1449.07 887.69L1449.87 888.76L1450.66 889.81L1451.46 890.86L1452.25 891.88L1453.05 892.89L1453.85 893.86L1454.64 894.81L1455.44 895.72L1456.23 896.59L1457.03 897.42L1457.83 898.19L1458.62 898.92L1459.42 899.6L1460.21 900.23L1461.01 900.82L1461.8 901.38L1462.6 901.93L1463.4 902.45L1464.19 902.98L1464.99 903.52L1465.78 904.08L1466.58 904.65L1467.38 905.26L1468.17 905.89L1468.97 906.55L1469.76 907.23L1470.56 907.93L1471.35 908.64L1472.15 909.36L1472.95 910.09L1473.74 910.82L1474.54 911.54L1475.33 912.24L1476.13 913.22L1476.92 914.17L1477.72 915.09L1478.52 915.99L1479.31 916.86L1480.11 917.71L1480.9 918.52L1481.7 919.31L1482.5 920.07L1483.29 920.79L1484.09 921.48L1484.88 922.14L1485.68 922.76L1486.47 923.33L1487.27 923.84L1488.07 924.27L1488.86 924.48L1489.66 924.6L1490.45 924.72L1491.25 924.83L1492.05 924.93L1492.84 925.03L1493.64 925.13L1494.43 925.22L1495.23 925.31L1496.03 925.4L1496.82 925.48L1497.62 925.55L1498.41 925.63L1499.21 925.7L1500 925.76L1500.8 925.83L1501.6 925.89L1502.39 925.95L1503.19 926L1503.98 926.06L1504.78 926.11L1505.58 926.16L1506.37 926.2L1507.17 926.25L1507.96 926.29L1508.76 926.33L1509.55 926.37L1510.35 926.4L1511.15 926.44L1511.94 926.47L1512.74 926.51L1513.53 926.54L1514.33 926.57L1515.12 926.59L1515.92 926.62L1516.72 926.65L1517.51 926.67L1518.31 926.7L1519.1 926.72L1519.9 926.74L1520.7 926.76L1521.49 926.78L1522.29 926.8L1523.08 926.82L1523.88 926.83L1524.67 926.85L1525.47 926.86L1526.27 926.88L1527.06 926.89L1527.86 926.91L1528.65 926.92L1529.45 926.93L1530.25 926.94L1531.04 926.96L1531.84 926.97L1532.63 926.98L1533.43 926.99L1534.22 927L1535.02 927.01L1535.82 927.01L1536.61 927.02L1537.41 927.03L1538.2 927.04L1539 927.05L1539.8 927.05L1540.59 927.06L1541.39 927.06L1542.18 927.07"/>
<path d="M1236.58 927.2L1238.17 927.2L1239.77 927.2L1241.36 927.2L1242.95 927.2L1244.54 927.2L1246.13 927.2L1247.72 927.2L1249.32 927.2L1250.91 927.2L1252.5 927.2L1254.09 927.2L1255.68 927.2L1257.28 927.2L1258.87 927.2L1260.46 927.2L1262.05 927.2L1263.64 927.2L1265.23 927.2L1266.83 927.2L1268.42 927.2L1270.01 927.19L1271.6 927.2L1273.19 927.17L1274.78 927.19L1276.38 927.15L1277.97 927.13L1279.56 926.68L1281.15 926.64L1282.74 926.4L1284.33 925.38L1285.92 923L1287.52 922.54L1289.11 920.17L1290.7 914.66L1292.29 906.53L1293.88 901.24L1295.47 888.42L1297.07 873.97L1298.66 862.75L1300.25 833.3L1301.84 819.92L1303.43 791.61L1305.03 776.55L1306.62 760.93L1308.21 720.12L1309.8 729.66L1311.39 729.85L1312.98 726.33L1314.58 735.62L1316.17 738.07L1317.76 765.21L1319.35 771.69L1320.94 789.67L1322.53 814.97L1324.12 831.28L1325.72 846.63L1327.31 860.32L1328.9 869.81L1330.49 882.44L1332.08 886.66L1333.67 890.45L1335.27 895.14L1336.86 896.18L1338.45 900.34L1340.04 898.67L1341.63 904.5L1343.22 900.97L1344.82 900.71L1346.41 902.74L1348 903.75L1349.59 901.1L1351.18 905.76L1352.78 905.03L1354.37 905.95L1355.96 908L1357.55 909.68L1359.14 909.98L1360.73 908.54L1362.33 910.88L1363.92 911.88L1365.51 912.3L1367.1 909.83L1368.69 911.68L1370.28 910.84L1371.88 914.58L1373.47 912.1L1375.06 912.71L1376.65 913.97L1378.24 914.59L1379.83 915.21L1381.42 916.67L1383.02 917.7L1384.61 917.35L1386.2 917.03L1387.79 915.52L1389.38 916.22L1390.97 917.81L1392.57 918.77L1394.16 916.78L1395.75 918.35L1397.34 917.02L1398.93 917.9L1400.53 917.71L1402.12 918.86L1403.71 919.74L1405.3 919.09L1406.89 920.44L1408.48 917.66L1410.08 916.62L1411.67 917.35L1413.26 914.44L1414.85 913.37L1416.44 911.9L1418.03 910.79L1419.62 909.57L1421.22 906.66L1422.81 906.03L1424.4 903.81L1425.99 903.77L1427.58 902.52L1429.17 901.43L1430.77 896.7L1432.36 895.51L1433.95 895.43L1435.54 895.32L1437.13 892.92L1438.72 888.53L1440.32 891.58L1441.91 886.71L1443.5 881.17L1445.09 880.86L1446.68 883.63L1448.28 881.25L1449.87 882.96L1451.46 887.8L1453.05 890.59L1454.64 891.45L1456.23 892.2L1457.83 895.06L1459.42 898.88L1461.01 898.11L1462.6 900.97L1464.19 902.31L1465.78 903.22L1467.38 905.88L1468.97 903.94L1470.56 906.34L1472.15 907.67L1473.74 909.55L1475.33 908.56L1476.92 915.59L1478.52 915.19L1480.11 916.63L1481.7 918.83L1483.29 920.06L1484.88 920.86L1486.47 922.66L1488.07 924.01L1489.66 924.7L1491.25 924.7L1492.84 924.71L1494.43 925.51L1496.03 925.46L1497.62 925.3L1499.21 926.06L1500.8 925.21L1502.39 925.95L1503.98 926.5L1505.58 925.92L1507.17 926.43L1508.76 926.07L1510.35 925.97L1511.94 926.27L1513.53 926.49L1515.12 926.38L1516.72 926.44L1518.31 925.81L1519.9 926.93L1521.49 926.89L1523.08 926.94L1524.67 926.79L1526.27 926.79L1527.86 926.39L1529.45 927.08L1531.04 927.03L1532.63 926.96L1534.22 927L1535.82 926.97L1537.41 927.08L1539 927.02L1540.59 927.06L1542.18 925.79L1543.78 927.14L1545.37 927.2L1546.96 927.09L1548.55 927.03L1550.14 927.2L1551.73 927.2L1553.33 927.16L1554.92 927.2L1556.51 927.08L1558.1 927.2L1559.69 927.16L1561.28 927.16L1562.88 926.45L1564.47 927.2L1566.06 927.2L1567.65 927.2L1569.24 927.17L1570.83 927.14L1572.42 927.16L1574.02 927.16L1575.61 927.2L1577.2 927.2L1578.79 927.17L1580.38 927.2L1581.97 927.2L1583.57 927.19L1585.16 927.17L1586.75 925.84L1588.34 927.2L1589.93 927.17L1591.53 927.2L1593.12 927.19L1594.71 927.19L1596.3 925.21L1597.89 927.19L1599.48 927.17L1601.08 925.69L1602.67 927.19L1604.26 927.19L1605.85 927.2L1607.44 927.19L1609.03 927.2L1610.62 927.19L1612.22 927.18L1613.81 927.19L1615.4 927.18L1616.99 927.2L1618.58 927.19L1620.17 927.2L1621.77 927.2L1623.36 927.2L1624.95 927.2L1626.54 927.2L1628.13 927.2L1629.72 927.2L1631.32 927.2L1632.91 927.2L1634.5 927.2"/>
</g>
<path d="M1348.6 527.6H1547.6" stroke="#000" stroke-width="3.03"/>
<path d="M494.1 1211.5V1208.08" stroke="#000" stroke-width="5.5"/>
<rect x="484.1" y="1205.28" width="20" height="5.6" rx="2.6" fill="#000"/>
<rect x="479.95" y="1211.5" width="28.3" height="456" fill="#fff" stroke="#000" stroke-width="5.3" stroke-linejoin="round"/>
<path d="M536.85 1441.21V1429.24" stroke="#000" stroke-width="5.5"/>
<rect x="526.85" y="1426.44" width="20" height="5.6" rx="2.6" fill="#000"/>
<rect x="522.7" y="1441.21" width="28.3" height="226.29" fill="#000" stroke="#000" stroke-width="5.3" stroke-linejoin="round"/>
<path d="M579.6 1259.38V1247.98" stroke="#000" stroke-width="5.5"/>
<rect x="569.6" y="1245.18" width="20" height="5.6" rx="2.6" fill="#000"/>
<rect x="565.45" y="1259.38" width="28.3" height="408.12" fill="url(#p02)" stroke="#000" stroke-width="5.3" stroke-linejoin="round"/>
<path d="M622.35 1379.08V1371.67" stroke="#000" stroke-width="5.5"/>
<rect x="612.35" y="1368.87" width="20" height="5.6" rx="2.6" fill="#000"/>
<rect x="608.2" y="1379.08" width="28.3" height="288.42" fill="url(#p03)" stroke="#000" stroke-width="5.3" stroke-linejoin="round"/>
<path d="M665.1 1401.31V1389.91" stroke="#000" stroke-width="5.5"/>
<rect x="655.1" y="1387.11" width="20" height="5.6" rx="2.6" fill="#000"/>
<rect x="650.95" y="1401.31" width="28.3" height="266.19" fill="url(#p04)" stroke="#000" stroke-width="5.3" stroke-linejoin="round"/>
<path d="M707.85 1354V1340.89" stroke="#000" stroke-width="5.5"/>
<rect x="697.85" y="1338.09" width="20" height="5.6" rx="2.6" fill="#000"/>
<rect x="693.7" y="1354" width="28.3" height="313.5" fill="url(#p05)" stroke="#000" stroke-width="5.3" stroke-linejoin="round"/>
<path d="M779.3 1629.31V1623.61" stroke="#000" stroke-width="5.5"/>
<rect x="769.3" y="1620.81" width="20" height="5.6" rx="2.6" fill="#000"/>
<rect x="765.15" y="1629.31" width="28.3" height="38.19" fill="#fff" stroke="#000" stroke-width="5.3" stroke-linejoin="round"/>
<path d="M822.05 1433.8V1428.1" stroke="#000" stroke-width="5.5"/>
<rect x="812.05" y="1425.3" width="20" height="5.6" rx="2.6" fill="#000"/>
<rect x="807.9" y="1433.8" width="28.3" height="233.7" fill="#000" stroke="#000" stroke-width="5.3" stroke-linejoin="round"/>
<path d="M864.8 1578.58V1557.49" stroke="#000" stroke-width="5.5"/>
<rect x="854.8" y="1554.69" width="20" height="5.6" rx="2.6" fill="#000"/>
<rect x="850.65" y="1578.58" width="28.3" height="88.92" fill="url(#p12)" stroke="#000" stroke-width="5.3" stroke-linejoin="round"/>
<path d="M907.55 1450.33V1444.63" stroke="#000" stroke-width="5.5"/>
<rect x="897.55" y="1441.83" width="20" height="5.6" rx="2.6" fill="#000"/>
<rect x="893.4" y="1450.33" width="28.3" height="217.17" fill="url(#p13)" stroke="#000" stroke-width="5.3" stroke-linejoin="round"/>
<path d="M950.3 1441.78V1437.79" stroke="#000" stroke-width="5.5"/>
<rect x="940.3" y="1434.99" width="20" height="5.6" rx="2.6" fill="#000"/>
<rect x="936.15" y="1441.78" width="28.3" height="225.72" fill="url(#p14)" stroke="#000" stroke-width="5.3" stroke-linejoin="round"/>
<path d="M993.05 1520.44V1513.6" stroke="#000" stroke-width="5.5"/>
<rect x="983.05" y="1510.8" width="20" height="5.6" rx="2.6" fill="#000"/>
<rect x="978.9" y="1520.44" width="28.3" height="147.06" fill="url(#p15)" stroke="#000" stroke-width="5.3" stroke-linejoin="round"/>
<path d="M1064.5 1592.83V1584.28" stroke="#000" stroke-width="5.5"/>
<rect x="1054.5" y="1581.48" width="20" height="5.6" rx="2.6" fill="#000"/>
<rect x="1050.35" y="1592.83" width="28.3" height="74.67" fill="#fff" stroke="#000" stroke-width="5.3" stroke-linejoin="round"/>
<path d="M1107.25 1560.34V1548.94" stroke="#000" stroke-width="5.5"/>
<rect x="1097.25" y="1546.14" width="20" height="5.6" rx="2.6" fill="#000"/>
<rect x="1093.1" y="1560.34" width="28.3" height="107.16" fill="#000" stroke="#000" stroke-width="5.3" stroke-linejoin="round"/>
<path d="M1150 1594.54V1584.28" stroke="#000" stroke-width="5.5"/>
<rect x="1140" y="1581.48" width="20" height="5.6" rx="2.6" fill="#000"/>
<rect x="1135.85" y="1594.54" width="28.3" height="72.96" fill="url(#p22)" stroke="#000" stroke-width="5.3" stroke-linejoin="round"/>
<path d="M1192.75 1599.67V1593.4" stroke="#000" stroke-width="5.5"/>
<rect x="1182.75" y="1590.6" width="20" height="5.6" rx="2.6" fill="#000"/>
<rect x="1178.6" y="1599.67" width="28.3" height="67.83" fill="url(#p23)" stroke="#000" stroke-width="5.3" stroke-linejoin="round"/>
<path d="M1235.5 1589.41V1580.86" stroke="#000" stroke-width="5.5"/>
<rect x="1225.5" y="1578.06" width="20" height="5.6" rx="2.6" fill="#000"/>
<rect x="1221.35" y="1589.41" width="28.3" height="78.09" fill="url(#p24)" stroke="#000" stroke-width="5.3" stroke-linejoin="round"/>
<path d="M1278.25 1558.06V1551.22" stroke="#000" stroke-width="5.5"/>
<rect x="1268.25" y="1548.42" width="20" height="5.6" rx="2.6" fill="#000"/>
<rect x="1264.1" y="1558.06" width="28.3" height="109.44" fill="url(#p25)" stroke="#000" stroke-width="5.3" stroke-linejoin="round"/>
<path d="M458 1094.8V1670.2" stroke="#000" stroke-width="5.2"/>
<path d="M440 1667.5H1314" stroke="#000" stroke-width="5.6"/>
<circle cx="1314" cy="1667.5" r="2.8" fill="#000"/>
<path d="M441 1097.5H458" stroke="#000" stroke-width="5.5"/>
<path d="M441 1094.75l-2 2.75l2 2.75z" fill="#000"/>
<path d="M441 1211.5H458" stroke="#000" stroke-width="5.5"/>
<path d="M441 1208.75l-2 2.75l2 2.75z" fill="#000"/>
<path d="M441 1325.5H458" stroke="#000" stroke-width="5.5"/>
<path d="M441 1322.75l-2 2.75l2 2.75z" fill="#000"/>
<path d="M441 1439.5H458" stroke="#000" stroke-width="5.5"/>
<path d="M441 1436.75l-2 2.75l2 2.75z" fill="#000"/>
<path d="M441 1553.5H458" stroke="#000" stroke-width="5.5"/>
<path d="M441 1550.75l-2 2.75l2 2.75z" fill="#000"/>
<path d="M601.2 1667.5V1682.5" stroke="#000" stroke-width="5.4"/>
<circle cx="601.2" cy="1682.5" r="2.7" fill="#000"/>
<path d="M886 1667.5V1682.5" stroke="#000" stroke-width="5.4"/>
<circle cx="886" cy="1682.5" r="2.7" fill="#000"/>
<path d="M1171.3 1667.5V1682.5" stroke="#000" stroke-width="5.4"/>
<circle cx="1171.3" cy="1682.5" r="2.7" fill="#000"/>
<rect x="1030.7" y="1074.15" width="61.4" height="17.7" rx="1.5" fill="#fff" stroke="#000" stroke-width="5.3"/>
<rect x="1030.7" y="1117.25" width="61.4" height="17.7" rx="1.5" fill="#000" stroke="#000" stroke-width="5.3"/>
<rect x="1030.7" y="1157.05" width="61.4" height="17.7" rx="1.5" fill="url(#lp2)" stroke="#000" stroke-width="5.3"/>
<rect x="1030.7" y="1194.35" width="61.4" height="17.7" rx="1.5" fill="url(#lp3)" stroke="#000" stroke-width="5.3"/>
<rect x="1030.7" y="1236.95" width="61.4" height="17.7" rx="1.5" fill="url(#lp4)" stroke="#000" stroke-width="5.3"/>
<rect x="1030.7" y="1276.85" width="61.4" height="17.7" rx="1.5" fill="url(#lp5)" stroke="#000" stroke-width="5.3"/>
<g fill="#000">
<text transform="translate(73.58 456.4) scale(0.9300 1)" font-family="'Liberation Sans', Arial, sans-serif" font-size="14.4" stroke="#000" stroke-width="0.45">0</text>
<text transform="translate(165.02 456.4) scale(0.9300 1)" font-family="'Liberation Sans', Arial, sans-serif" font-size="14.4" stroke="#000" stroke-width="0.45">30</text>
<text transform="translate(260.06 456.4) scale(0.9300 1)" font-family="'Liberation Sans', Arial, sans-serif" font-size="14.4" stroke="#000" stroke-width="0.45">60</text>
<text transform="translate(355.22 456.4) scale(0.9300 1)" font-family="'Liberation Sans', Arial, sans-serif" font-size="14.4" stroke="#000" stroke-width="0.45">90</text>
<text transform="translate(446.55 456.4) scale(0.9300 1)" font-family="'Liberation Sans', Arial, sans-serif" font-size="14.4" stroke="#000" stroke-width="0.45">120</text>
<text transform="translate(541.71 456.4) scale(0.9300 1)" font-family="'Liberation Sans', Arial, sans-serif" font-size="14.4" stroke="#000" stroke-width="0.45">150</text>
<text transform="translate(65 432.99) rotate(-90) scale(0.9000 1)" font-family="'Liberation Sans', Arial, sans-serif" font-size="14.1" stroke="#000" stroke-width="0.45">0</text>
<text transform="translate(65 356.76) rotate(-90) scale(0.9000 1)" font-family="'Liberation Sans', Arial, sans-serif" font-size="14.1" stroke="#000" stroke-width="0.45">400</text>
<text transform="translate(65 273.67) rotate(-90) scale(0.9000 1)" font-family="'Liberation Sans', Arial, sans-serif" font-size="14.1" stroke="#000" stroke-width="0.45">800</text>
<text transform="translate(65 194.19) rotate(-90) scale(0.9000 1)" font-family="'Liberation Sans', Arial, sans-serif" font-size="14.1" stroke="#000" stroke-width="0.45">1200</text>
<text transform="translate(65 110.99) rotate(-90) scale(0.9000 1)" font-family="'Liberation Sans', Arial, sans-serif" font-size="14.1" stroke="#000" stroke-width="0.45">1600</text>
<text transform="translate(49.75 250.64) rotate(-90) scale(0.9300 1)" font-family="'Liberation Sans', Arial, sans-serif" font-size="17.6" stroke="#000" stroke-width="0.45">Number</text>
<text transform="translate(257.6 471.4) scale(0.9750 1)" font-family="'Liberation Sans', Arial, sans-serif" font-size="16.6" stroke="#000" stroke-width="0.45">Channels (PI-A)</text>
<text transform="translate(275.24 28) scale(1.0371 1)" font-family="'Liberation Sans', Arial, sans-serif" font-size="27" font-weight="bold">Untreated</text>
<text transform="translate(275.16 59.6) scale(0.9900 1)" font-family="'Liberation Sans', Arial, sans-serif" font-size="26.4" stroke="#000" stroke-width="0.75">G0/G1</text>
<text transform="translate(335.06 91.1) scale(0.9900 1)" font-family="'Liberation Sans', Arial, sans-serif" font-size="26.4" stroke="#000" stroke-width="0.75">S</text>
<text transform="translate(289.71 122.7) scale(1.0270 1)" font-family="'Liberation Sans', Arial, sans-serif" font-size="26.4" stroke="#000" stroke-width="0.75">G2/M</text>
<text transform="translate(377.35 59.6) scale(1.0000 1)" font-family="'Liberation Sans', Arial, sans-serif" font-size="26.4" stroke="#000" stroke-width="0.75">:</text>
<text transform="translate(409.2 59.6) scale(1.0170 1)" font-family="'Liberation Sans', Arial, sans-serif" font-size="26.4" stroke="#000" stroke-width="0.75">80.0 ± 0.6 %</text>
<text transform="translate(377.35 91.1) scale(1.0000 1)" font-family="'Liberation Sans', Arial, sans-serif" font-size="26.4" stroke="#000" stroke-width="0.75">:</text>
<text transform="translate(423.95 91.1) scale(1.0170 1)" font-family="'Liberation Sans', Arial, sans-serif" font-size="26.4" stroke="#000" stroke-width="0.75">6.7 ± 1.0 %</text>
<text transform="translate(377.35 122.7) scale(1.0000 1)" font-family="'Liberation Sans', Arial, sans-serif" font-size="26.4" stroke="#000" stroke-width="0.75">:</text>
<text transform="translate(409.2 122.7) scale(1.0170 1)" font-family="'Liberation Sans', Arial, sans-serif" font-size="26.4" stroke="#000" stroke-width="0.75">13.1 ± 1.5 %</text>
<text transform="translate(183.32 25.5) scale(0.8830 1)" font-family="'Liberation Sans', Arial, sans-serif" font-size="25.9" font-weight="bold">G0/G1</text>
<text transform="translate(287.74 410.2) scale(0.8830 1)" font-family="'Liberation Sans', Arial, sans-serif" font-size="25.9" font-weight="bold">S</text>
<text transform="translate(336.22 392.7) scale(0.8830 1)" font-family="'Liberation Sans', Arial, sans-serif" font-size="25.9" font-weight="bold">G2/M</text>
<text transform="translate(612.08 456.38) scale(0.9300 1)" font-family="'Liberation Sans', Arial, sans-serif" font-size="14.61" stroke="#000" stroke-width="0.45">0</text>
<text transform="translate(704.22 456.38) scale(0.9300 1)" font-family="'Liberation Sans', Arial, sans-serif" font-size="14.61" stroke="#000" stroke-width="0.45">30</text>
<text transform="translate(800.09 456.38) scale(0.9300 1)" font-family="'Liberation Sans', Arial, sans-serif" font-size="14.61" stroke="#000" stroke-width="0.45">60</text>
<text transform="translate(896.07 456.38) scale(0.9300 1)" font-family="'Liberation Sans', Arial, sans-serif" font-size="14.61" stroke="#000" stroke-width="0.45">90</text>
<text transform="translate(988.21 456.38) scale(0.9300 1)" font-family="'Liberation Sans', Arial, sans-serif" font-size="14.61" stroke="#000" stroke-width="0.45">120</text>
<text transform="translate(1084.19 456.38) scale(0.9300 1)" font-family="'Liberation Sans', Arial, sans-serif" font-size="14.61" stroke="#000" stroke-width="0.45">150</text>
<text transform="translate(603.32 432.7) rotate(-90) scale(0.9000 1)" font-family="'Liberation Sans', Arial, sans-serif" font-size="14.3" stroke="#000" stroke-width="0.45">0</text>
<text transform="translate(603.32 355.27) rotate(-90) scale(0.9000 1)" font-family="'Liberation Sans', Arial, sans-serif" font-size="14.3" stroke="#000" stroke-width="0.45">400</text>
<text transform="translate(603.32 271.1) rotate(-90) scale(0.9000 1)" font-family="'Liberation Sans', Arial, sans-serif" font-size="14.3" stroke="#000" stroke-width="0.45">800</text>
<text transform="translate(603.32 190.41) rotate(-90) scale(0.9000 1)" font-family="'Liberation Sans', Arial, sans-serif" font-size="14.3" stroke="#000" stroke-width="0.45">1200</text>
<text transform="translate(603.32 106.01) rotate(-90) scale(0.9000 1)" font-family="'Liberation Sans', Arial, sans-serif" font-size="14.3" stroke="#000" stroke-width="0.45">1600</text>
<text transform="translate(587.85 247.71) rotate(-90) scale(0.9300 1)" font-family="'Liberation Sans', Arial, sans-serif" font-size="17.85" stroke="#000" stroke-width="0.45">Number</text>
<text transform="translate(797.29 471.6) scale(0.9750 1)" font-family="'Liberation Sans', Arial, sans-serif" font-size="16.84" stroke="#000" stroke-width="0.45">Channels (PI-A)</text>
<text transform="translate(804.72 23.5) scale(1.0238 1)" font-family="'Liberation Sans', Arial, sans-serif" font-size="27.39" font-weight="bold">GF</text>
<text transform="translate(805.26 55.7) scale(0.9902 1)" font-family="'Liberation Sans', Arial, sans-serif" font-size="26.78" stroke="#000" stroke-width="0.75">G0/G1</text>
<text transform="translate(866.17 87.7) scale(0.9900 1)" font-family="'Liberation Sans', Arial, sans-serif" font-size="26.78" stroke="#000" stroke-width="0.75">S</text>
<text transform="translate(820.09 119.4) scale(1.0270 1)" font-family="'Liberation Sans', Arial, sans-serif" font-size="26.78" stroke="#000" stroke-width="0.75">G2/M</text>
<text transform="translate(908.45 55.7) scale(1.0000 1)" font-family="'Liberation Sans', Arial, sans-serif" font-size="26.78" stroke="#000" stroke-width="0.75">:</text>
<text transform="translate(939.01 55.7) scale(1.0170 1)" font-family="'Liberation Sans', Arial, sans-serif" font-size="26.78" stroke="#000" stroke-width="0.75">39.7 ± 2.1 %</text>
<text transform="translate(908.45 87.7) scale(1.0000 1)" font-family="'Liberation Sans', Arial, sans-serif" font-size="26.78" stroke="#000" stroke-width="0.75">:</text>
<text transform="translate(939.01 87.7) scale(1.0170 1)" font-family="'Liberation Sans', Arial, sans-serif" font-size="26.78" stroke="#000" stroke-width="0.75">41.0 ± 1.0 %</text>
<text transform="translate(908.45 119.4) scale(1.0000 1)" font-family="'Liberation Sans', Arial, sans-serif" font-size="26.78" stroke="#000" stroke-width="0.75">:</text>
<text transform="translate(939.01 119.4) scale(1.0170 1)" font-family="'Liberation Sans', Arial, sans-serif" font-size="26.78" stroke="#000" stroke-width="0.75">18.8 ± 2.0 %</text>
<text transform="translate(735.42 253.6) scale(0.8830 1)" font-family="'Liberation Sans', Arial, sans-serif" font-size="26.27" font-weight="bold">G0/G1</text>
<text transform="translate(829.64 394.4) scale(0.8830 1)" font-family="'Liberation Sans', Arial, sans-serif" font-size="26.27" font-weight="bold">S</text>
<text transform="translate(873.52 361.3) scale(0.8830 1)" font-family="'Liberation Sans', Arial, sans-serif" font-size="26.27" font-weight="bold">G2/M</text>
<text transform="translate(1153.58 456.52) scale(0.9300 1)" font-family="'Liberation Sans', Arial, sans-serif" font-size="14.41" stroke="#000" stroke-width="0.45">0</text>
<text transform="translate(1244.66 456.52) scale(0.9300 1)" font-family="'Liberation Sans', Arial, sans-serif" font-size="14.41" stroke="#000" stroke-width="0.45">30</text>
<text transform="translate(1339.34 456.52) scale(0.9300 1)" font-family="'Liberation Sans', Arial, sans-serif" font-size="14.41" stroke="#000" stroke-width="0.45">60</text>
<text transform="translate(1434.14 456.52) scale(0.9300 1)" font-family="'Liberation Sans', Arial, sans-serif" font-size="14.41" stroke="#000" stroke-width="0.45">90</text>
<text transform="translate(1525.11 456.52) scale(0.9300 1)" font-family="'Liberation Sans', Arial, sans-serif" font-size="14.41" stroke="#000" stroke-width="0.45">120</text>
<text transform="translate(1619.91 456.52) scale(0.9300 1)" font-family="'Liberation Sans', Arial, sans-serif" font-size="14.41" stroke="#000" stroke-width="0.45">150</text>
<text transform="translate(1144.99 433.09) rotate(-90) scale(0.9000 1)" font-family="'Liberation Sans', Arial, sans-serif" font-size="14.11" stroke="#000" stroke-width="0.45">0</text>
<text transform="translate(1144.99 356.79) rotate(-90) scale(0.9000 1)" font-family="'Liberation Sans', Arial, sans-serif" font-size="14.11" stroke="#000" stroke-width="0.45">400</text>
<text transform="translate(1144.99 273.62) rotate(-90) scale(0.9000 1)" font-family="'Liberation Sans', Arial, sans-serif" font-size="14.11" stroke="#000" stroke-width="0.45">800</text>
<text transform="translate(1144.99 194.06) rotate(-90) scale(0.9000 1)" font-family="'Liberation Sans', Arial, sans-serif" font-size="14.11" stroke="#000" stroke-width="0.45">1200</text>
<text transform="translate(1144.99 110.79) rotate(-90) scale(0.9000 1)" font-family="'Liberation Sans', Arial, sans-serif" font-size="14.11" stroke="#000" stroke-width="0.45">1600</text>
<text transform="translate(1129.73 250.56) rotate(-90) scale(0.9300 1)" font-family="'Liberation Sans', Arial, sans-serif" font-size="17.62" stroke="#000" stroke-width="0.45">Number</text>
<text transform="translate(1336.7 471.54) scale(0.9750 1)" font-family="'Liberation Sans', Arial, sans-serif" font-size="16.61" stroke="#000" stroke-width="0.45">Channels (PI-A)</text>
<text transform="translate(1351.2 28.2) scale(1.0011 1)" font-family="'Liberation Sans', Arial, sans-serif" font-size="27.02" font-weight="bold">GF + 20 µM tHGA</text>
<text transform="translate(1351.55 59.5) scale(0.9993 1)" font-family="'Liberation Sans', Arial, sans-serif" font-size="26.42" stroke="#000" stroke-width="0.75">G0/G1</text>
<text transform="translate(1412.17 91.2) scale(0.9900 1)" font-family="'Liberation Sans', Arial, sans-serif" font-size="26.42" stroke="#000" stroke-width="0.75">S</text>
<text transform="translate(1366.82 122.3) scale(1.0270 1)" font-family="'Liberation Sans', Arial, sans-serif" font-size="26.42" stroke="#000" stroke-width="0.75">G2/M</text>
<text transform="translate(1453.75 59.5) scale(1.0000 1)" font-family="'Liberation Sans', Arial, sans-serif" font-size="26.42" stroke="#000" stroke-width="0.75">:</text>
<text transform="translate(1483.45 59.5) scale(1.0170 1)" font-family="'Liberation Sans', Arial, sans-serif" font-size="26.42" stroke="#000" stroke-width="0.75">71.6 ± 2.0 %</text>
<text transform="translate(1453.75 91.2) scale(1.0000 1)" font-family="'Liberation Sans', Arial, sans-serif" font-size="26.42" stroke="#000" stroke-width="0.75">:</text>
<text transform="translate(1483.45 91.2) scale(1.0170 1)" font-family="'Liberation Sans', Arial, sans-serif" font-size="26.42" stroke="#000" stroke-width="0.75">15.6 ± 3.7 %</text>
<text transform="translate(1453.75 122.3) scale(1.0000 1)" font-family="'Liberation Sans', Arial, sans-serif" font-size="26.42" stroke="#000" stroke-width="0.75">:</text>
<text transform="translate(1483.45 122.3) scale(1.0170 1)" font-family="'Liberation Sans', Arial, sans-serif" font-size="26.42" stroke="#000" stroke-width="0.75">12.8 ± 1.8 %</text>
<text transform="translate(1286.12 152.7) scale(0.8830 1)" font-family="'Liberation Sans', Arial, sans-serif" font-size="25.92" font-weight="bold">G0/G1</text>
<text transform="translate(1368.34 399) scale(0.8830 1)" font-family="'Liberation Sans', Arial, sans-serif" font-size="25.92" font-weight="bold">S</text>
<text transform="translate(1450.92 395.5) scale(0.8830 1)" font-family="'Liberation Sans', Arial, sans-serif" font-size="25.92" font-weight="bold">G2/M</text>
<text transform="translate(73.38 954.67) scale(0.9300 1)" font-family="'Liberation Sans', Arial, sans-serif" font-size="14.55" stroke="#000" stroke-width="0.45">0</text>
<text transform="translate(165.36 954.67) scale(0.9300 1)" font-family="'Liberation Sans', Arial, sans-serif" font-size="14.55" stroke="#000" stroke-width="0.45">30</text>
<text transform="translate(260.94 954.67) scale(0.9300 1)" font-family="'Liberation Sans', Arial, sans-serif" font-size="14.55" stroke="#000" stroke-width="0.45">60</text>
<text transform="translate(356.64 954.67) scale(0.9300 1)" font-family="'Liberation Sans', Arial, sans-serif" font-size="14.55" stroke="#000" stroke-width="0.45">90</text>
<text transform="translate(448.39 954.67) scale(0.9300 1)" font-family="'Liberation Sans', Arial, sans-serif" font-size="14.55" stroke="#000" stroke-width="0.45">120</text>
<text transform="translate(544.09 954.67) scale(0.9300 1)" font-family="'Liberation Sans', Arial, sans-serif" font-size="14.55" stroke="#000" stroke-width="0.45">150</text>
<text transform="translate(64.67 930.99) rotate(-90) scale(0.9000 1)" font-family="'Liberation Sans', Arial, sans-serif" font-size="14.24" stroke="#000" stroke-width="0.45">0</text>
<text transform="translate(64.67 854.03) rotate(-90) scale(0.9000 1)" font-family="'Liberation Sans', Arial, sans-serif" font-size="14.24" stroke="#000" stroke-width="0.45">400</text>
<text transform="translate(64.67 770.2) rotate(-90) scale(0.9000 1)" font-family="'Liberation Sans', Arial, sans-serif" font-size="14.24" stroke="#000" stroke-width="0.45">800</text>
<text transform="translate(64.67 689.75) rotate(-90) scale(0.9000 1)" font-family="'Liberation Sans', Arial, sans-serif" font-size="14.24" stroke="#000" stroke-width="0.45">1200</text>
<text transform="translate(64.67 605.7) rotate(-90) scale(0.9000 1)" font-family="'Liberation Sans', Arial, sans-serif" font-size="14.24" stroke="#000" stroke-width="0.45">1600</text>
<text transform="translate(49.27 746.75) rotate(-90) scale(0.9300 1)" font-family="'Liberation Sans', Arial, sans-serif" font-size="17.78" stroke="#000" stroke-width="0.45">Number</text>
<text transform="translate(258.26 969.82) scale(0.9750 1)" font-family="'Liberation Sans', Arial, sans-serif" font-size="16.77" stroke="#000" stroke-width="0.45">Channels (PI-A)</text>
<text transform="translate(268.45 522.9) scale(1.0014 1)" font-family="'Liberation Sans', Arial, sans-serif" font-size="27.28" font-weight="bold">GF + 10 µM tHGA</text>
<text transform="translate(269.04 554.1) scale(1.0066 1)" font-family="'Liberation Sans', Arial, sans-serif" font-size="26.67" stroke="#000" stroke-width="0.75">G0/G1</text>
<text transform="translate(330.97 585.9) scale(0.9900 1)" font-family="'Liberation Sans', Arial, sans-serif" font-size="26.67" stroke="#000" stroke-width="0.75">S</text>
<text transform="translate(285.13 617.5) scale(1.0270 1)" font-family="'Liberation Sans', Arial, sans-serif" font-size="26.67" stroke="#000" stroke-width="0.75">G2/M</text>
<text transform="translate(371.55 554.1) scale(1.0000 1)" font-family="'Liberation Sans', Arial, sans-serif" font-size="26.67" stroke="#000" stroke-width="0.75">:</text>
<text transform="translate(402.48 554.1) scale(1.0170 1)" font-family="'Liberation Sans', Arial, sans-serif" font-size="26.67" stroke="#000" stroke-width="0.75">50.6 ± 1.3 %</text>
<text transform="translate(371.55 585.9) scale(1.0000 1)" font-family="'Liberation Sans', Arial, sans-serif" font-size="26.67" stroke="#000" stroke-width="0.75">:</text>
<text transform="translate(402.48 585.9) scale(1.0170 1)" font-family="'Liberation Sans', Arial, sans-serif" font-size="26.67" stroke="#000" stroke-width="0.75">38.1 ± 1.0 %</text>
<text transform="translate(371.55 617.5) scale(1.0000 1)" font-family="'Liberation Sans', Arial, sans-serif" font-size="26.67" stroke="#000" stroke-width="0.75">:</text>
<text transform="translate(404.51 617.5) scale(1.0170 1)" font-family="'Liberation Sans', Arial, sans-serif" font-size="26.67" stroke="#000" stroke-width="0.75">11.9 ± 1.1 %</text>
<text transform="translate(202.92 746.3) scale(0.8830 1)" font-family="'Liberation Sans', Arial, sans-serif" font-size="26.16" font-weight="bold">G0/G1</text>
<text transform="translate(290.44 895.6) scale(0.8830 1)" font-family="'Liberation Sans', Arial, sans-serif" font-size="26.16" font-weight="bold">S</text>
<text transform="translate(344.52 885.5) scale(0.8830 1)" font-family="'Liberation Sans', Arial, sans-serif" font-size="26.16" font-weight="bold">G2/M</text>
<text transform="translate(612.88 955.14) scale(0.9300 1)" font-family="'Liberation Sans', Arial, sans-serif" font-size="14.53" stroke="#000" stroke-width="0.45">0</text>
<text transform="translate(704.88 955.14) scale(0.9300 1)" font-family="'Liberation Sans', Arial, sans-serif" font-size="14.53" stroke="#000" stroke-width="0.45">30</text>
<text transform="translate(800.48 955.14) scale(0.9300 1)" font-family="'Liberation Sans', Arial, sans-serif" font-size="14.53" stroke="#000" stroke-width="0.45">60</text>
<text transform="translate(896.2 955.14) scale(0.9300 1)" font-family="'Liberation Sans', Arial, sans-serif" font-size="14.53" stroke="#000" stroke-width="0.45">90</text>
<text transform="translate(988.09 955.14) scale(0.9300 1)" font-family="'Liberation Sans', Arial, sans-serif" font-size="14.53" stroke="#000" stroke-width="0.45">120</text>
<text transform="translate(1083.81 955.14) scale(0.9300 1)" font-family="'Liberation Sans', Arial, sans-serif" font-size="14.53" stroke="#000" stroke-width="0.45">150</text>
<text transform="translate(604.19 931.49) rotate(-90) scale(0.9000 1)" font-family="'Liberation Sans', Arial, sans-serif" font-size="14.23" stroke="#000" stroke-width="0.45">0</text>
<text transform="translate(604.19 854.62) rotate(-90) scale(0.9000 1)" font-family="'Liberation Sans', Arial, sans-serif" font-size="14.23" stroke="#000" stroke-width="0.45">400</text>
<text transform="translate(604.19 770.9) rotate(-90) scale(0.9000 1)" font-family="'Liberation Sans', Arial, sans-serif" font-size="14.23" stroke="#000" stroke-width="0.45">800</text>
<text transform="translate(604.19 690.55) rotate(-90) scale(0.9000 1)" font-family="'Liberation Sans', Arial, sans-serif" font-size="14.23" stroke="#000" stroke-width="0.45">1200</text>
<text transform="translate(604.19 606.6) rotate(-90) scale(0.9000 1)" font-family="'Liberation Sans', Arial, sans-serif" font-size="14.23" stroke="#000" stroke-width="0.45">1600</text>
<text transform="translate(588.8 747.5) rotate(-90) scale(0.9300 1)" font-family="'Liberation Sans', Arial, sans-serif" font-size="17.76" stroke="#000" stroke-width="0.45">Number</text>
<text transform="translate(797.81 970.27) scale(0.9750 1)" font-family="'Liberation Sans', Arial, sans-serif" font-size="16.75" stroke="#000" stroke-width="0.45">Channels (PI-A)</text>
<text transform="translate(813.74 524.8) scale(1.0088 1)" font-family="'Liberation Sans', Arial, sans-serif" font-size="27.24" font-weight="bold">GF + 5 µM tHGA</text>
<text transform="translate(814.75 556.1) scale(1.0000 1)" font-family="'Liberation Sans', Arial, sans-serif" font-size="26.64" stroke="#000" stroke-width="0.75">G0/G1</text>
<text transform="translate(876.17 587.8) scale(0.9900 1)" font-family="'Liberation Sans', Arial, sans-serif" font-size="26.64" stroke="#000" stroke-width="0.75">S</text>
<text transform="translate(830.33 619.4) scale(1.0270 1)" font-family="'Liberation Sans', Arial, sans-serif" font-size="26.64" stroke="#000" stroke-width="0.75">G2/M</text>
<text transform="translate(917.45 556.1) scale(1.0000 1)" font-family="'Liberation Sans', Arial, sans-serif" font-size="26.64" stroke="#000" stroke-width="0.75">:</text>
<text transform="translate(948.13 556.1) scale(1.0170 1)" font-family="'Liberation Sans', Arial, sans-serif" font-size="26.64" stroke="#000" stroke-width="0.75">46.7 ± 2.0 %</text>
<text transform="translate(917.45 587.8) scale(1.0000 1)" font-family="'Liberation Sans', Arial, sans-serif" font-size="26.64" stroke="#000" stroke-width="0.75">:</text>
<text transform="translate(948.13 587.8) scale(1.0170 1)" font-family="'Liberation Sans', Arial, sans-serif" font-size="26.64" stroke="#000" stroke-width="0.75">39.6 ± 0.7 %</text>
<text transform="translate(917.45 619.4) scale(1.0000 1)" font-family="'Liberation Sans', Arial, sans-serif" font-size="26.64" stroke="#000" stroke-width="0.75">:</text>
<text transform="translate(948.13 619.4) scale(1.0170 1)" font-family="'Liberation Sans', Arial, sans-serif" font-size="26.64" stroke="#000" stroke-width="0.75">13.7 ± 1.5 %</text>
<text transform="translate(738.62 745.5) scale(0.8830 1)" font-family="'Liberation Sans', Arial, sans-serif" font-size="26.13" font-weight="bold">G0/G1</text>
<text transform="translate(827.14 887.2) scale(0.8830 1)" font-family="'Liberation Sans', Arial, sans-serif" font-size="26.13" font-weight="bold">S</text>
<text transform="translate(871.02 879.5) scale(0.8830 1)" font-family="'Liberation Sans', Arial, sans-serif" font-size="26.13" font-weight="bold">G2/M</text>
<text transform="translate(1152.98 954.03) scale(0.9300 1)" font-family="'Liberation Sans', Arial, sans-serif" font-size="14.53" stroke="#000" stroke-width="0.45">0</text>
<text transform="translate(1244.76 954.03) scale(0.9300 1)" font-family="'Liberation Sans', Arial, sans-serif" font-size="14.53" stroke="#000" stroke-width="0.45">30</text>
<text transform="translate(1340.14 954.03) scale(0.9300 1)" font-family="'Liberation Sans', Arial, sans-serif" font-size="14.53" stroke="#000" stroke-width="0.45">60</text>
<text transform="translate(1435.64 954.03) scale(0.9300 1)" font-family="'Liberation Sans', Arial, sans-serif" font-size="14.53" stroke="#000" stroke-width="0.45">90</text>
<text transform="translate(1527.31 954.03) scale(0.9300 1)" font-family="'Liberation Sans', Arial, sans-serif" font-size="14.53" stroke="#000" stroke-width="0.45">120</text>
<text transform="translate(1622.81 954.03) scale(0.9300 1)" font-family="'Liberation Sans', Arial, sans-serif" font-size="14.53" stroke="#000" stroke-width="0.45">150</text>
<text transform="translate(1144.29 930.39) rotate(-90) scale(0.9000 1)" font-family="'Liberation Sans', Arial, sans-serif" font-size="14.22" stroke="#000" stroke-width="0.45">0</text>
<text transform="translate(1144.29 853.55) rotate(-90) scale(0.9000 1)" font-family="'Liberation Sans', Arial, sans-serif" font-size="14.22" stroke="#000" stroke-width="0.45">400</text>
<text transform="translate(1144.29 769.85) rotate(-90) scale(0.9000 1)" font-family="'Liberation Sans', Arial, sans-serif" font-size="14.22" stroke="#000" stroke-width="0.45">800</text>
<text transform="translate(1144.29 689.52) rotate(-90) scale(0.9000 1)" font-family="'Liberation Sans', Arial, sans-serif" font-size="14.22" stroke="#000" stroke-width="0.45">1200</text>
<text transform="translate(1144.29 605.6) rotate(-90) scale(0.9000 1)" font-family="'Liberation Sans', Arial, sans-serif" font-size="14.22" stroke="#000" stroke-width="0.45">1600</text>
<text transform="translate(1128.91 746.46) rotate(-90) scale(0.9300 1)" font-family="'Liberation Sans', Arial, sans-serif" font-size="17.75" stroke="#000" stroke-width="0.45">Number</text>
<text transform="translate(1337.36 969.16) scale(0.9750 1)" font-family="'Liberation Sans', Arial, sans-serif" font-size="16.74" stroke="#000" stroke-width="0.45">Channels (PI-A)</text>
<text transform="translate(1348.16 522.9) scale(0.9957 1)" font-family="'Liberation Sans', Arial, sans-serif" font-size="27.24" font-weight="bold">GF + 10 µM Fsk</text>
<text transform="translate(1348.15 553.6) scale(1.0013 1)" font-family="'Liberation Sans', Arial, sans-serif" font-size="26.63" stroke="#000" stroke-width="0.75">G0/G1</text>
<text transform="translate(1409.67 585.2) scale(0.9900 1)" font-family="'Liberation Sans', Arial, sans-serif" font-size="26.63" stroke="#000" stroke-width="0.75">S</text>
<text transform="translate(1363.83 616.6) scale(1.0270 1)" font-family="'Liberation Sans', Arial, sans-serif" font-size="26.63" stroke="#000" stroke-width="0.75">G2/M</text>
<text transform="translate(1450.35 553.6) scale(1.0000 1)" font-family="'Liberation Sans', Arial, sans-serif" font-size="26.63" stroke="#000" stroke-width="0.75">:</text>
<text transform="translate(1481.53 553.6) scale(1.0170 1)" font-family="'Liberation Sans', Arial, sans-serif" font-size="26.63" stroke="#000" stroke-width="0.75">55.0 ± 2.3 %</text>
<text transform="translate(1450.35 585.2) scale(1.0000 1)" font-family="'Liberation Sans', Arial, sans-serif" font-size="26.63" stroke="#000" stroke-width="0.75">:</text>
<text transform="translate(1481.53 585.2) scale(1.0170 1)" font-family="'Liberation Sans', Arial, sans-serif" font-size="26.63" stroke="#000" stroke-width="0.75">25.8 ± 1.2 %</text>
<text transform="translate(1450.35 616.6) scale(1.0000 1)" font-family="'Liberation Sans', Arial, sans-serif" font-size="26.63" stroke="#000" stroke-width="0.75">:</text>
<text transform="translate(1481.53 616.6) scale(1.0170 1)" font-family="'Liberation Sans', Arial, sans-serif" font-size="26.63" stroke="#000" stroke-width="0.75">19.2 ± 1.2 %</text>
<text transform="translate(1280.32 706.5) scale(0.8830 1)" font-family="'Liberation Sans', Arial, sans-serif" font-size="26.13" font-weight="bold">G0/G1</text>
<text transform="translate(1365.34 894.8) scale(0.8830 1)" font-family="'Liberation Sans', Arial, sans-serif" font-size="26.13" font-weight="bold">S</text>
<text transform="translate(1419.52 866.8) scale(0.8830 1)" font-family="'Liberation Sans', Arial, sans-serif" font-size="26.13" font-weight="bold">G2/M</text>
<text transform="translate(480.68 1192.5) scale(1.0000 1)" font-family="'Liberation Sans', Arial, sans-serif" font-size="29" stroke="#000" stroke-width="0.6">***</text>
<text transform="translate(565.98 1232.8) scale(1.0000 1)" font-family="'Liberation Sans', Arial, sans-serif" font-size="29" stroke="#000" stroke-width="0.6">***</text>
<text transform="translate(611.55 1367) scale(1.0000 1)" font-family="'Liberation Sans', Arial, sans-serif" font-size="29" stroke="#000" stroke-width="0.6">**</text>
<text transform="translate(691.67 1332.7) scale(1.0000 1)" font-family="'Liberation Sans', Arial, sans-serif" font-size="29" stroke="#000" stroke-width="0.6">***</text>
<text transform="translate(763.38 1606.3) scale(1.0000 1)" font-family="'Liberation Sans', Arial, sans-serif" font-size="29" stroke="#000" stroke-width="0.6">***</text>
<text transform="translate(848.88 1541.2) scale(1.0000 1)" font-family="'Liberation Sans', Arial, sans-serif" font-size="29" stroke="#000" stroke-width="0.6">***</text>
<text transform="translate(976.83 1499.1) scale(1.0000 1)" font-family="'Liberation Sans', Arial, sans-serif" font-size="29" stroke="#000" stroke-width="0.6">***</text>
<text transform="translate(1053.6 1580) scale(1.0000 1)" font-family="'Liberation Sans', Arial, sans-serif" font-size="29" stroke="#000" stroke-width="0.6">**</text>
<text transform="translate(1138.9 1580) scale(1.0000 1)" font-family="'Liberation Sans', Arial, sans-serif" font-size="29" stroke="#000" stroke-width="0.6">**</text>
<text transform="translate(1181.75 1582.8) scale(1.0000 1)" font-family="'Liberation Sans', Arial, sans-serif" font-size="29" stroke="#000" stroke-width="0.6">**</text>
<text transform="translate(368.52 1111.5) scale(0.9050 1)" font-family="'Liberation Sans', Arial, sans-serif" font-size="46" font-weight="bold">100</text>
<text transform="translate(391.83 1225.5) scale(0.9050 1)" font-family="'Liberation Sans', Arial, sans-serif" font-size="46" font-weight="bold">80</text>
<text transform="translate(391.83 1339.5) scale(0.9050 1)" font-family="'Liberation Sans', Arial, sans-serif" font-size="46" font-weight="bold">60</text>
<text transform="translate(391.83 1453.5) scale(0.9050 1)" font-family="'Liberation Sans', Arial, sans-serif" font-size="46" font-weight="bold">40</text>
<text transform="translate(391.83 1567.5) scale(0.9050 1)" font-family="'Liberation Sans', Arial, sans-serif" font-size="46" font-weight="bold">20</text>
<text transform="translate(414.91 1681.5) scale(0.9050 1)" font-family="'Liberation Sans', Arial, sans-serif" font-size="46" font-weight="bold">0</text>
<text transform="translate(341.85 1582.97) rotate(-90) scale(1.0082 1)" font-family="'Liberation Sans', Arial, sans-serif" font-size="42" font-weight="bold">Number of Cells (%)</text>
<text transform="translate(537.83 1725.8) scale(0.9563 1)" font-family="'Liberation Sans', Arial, sans-serif" font-size="44" font-weight="bold">G<tspan font-size="31.6" dy="9.7">0</tspan><tspan dy="-9.7">/G</tspan><tspan font-size="31.6" dy="9.7">1</tspan></text>
<text transform="translate(871.43 1725.8) scale(1.0171 1)" font-family="'Liberation Sans', Arial, sans-serif" font-size="44" font-weight="bold">S</text>
<text transform="translate(1118.18 1725.8) scale(0.9812 1)" font-family="'Liberation Sans', Arial, sans-serif" font-size="44" font-weight="bold">G<tspan font-size="31.6" dy="9.7">2</tspan><tspan dy="-9.7">/M</tspan></text>
<text transform="translate(1124.31 1094.1) scale(0.9675 1)" font-family="'Liberation Sans', Arial, sans-serif" font-size="30.7" font-weight="bold" letter-spacing="2.2">Untreated</text>
<text transform="translate(1124.75 1136) scale(0.9988 1)" font-family="'Liberation Sans', Arial, sans-serif" font-size="30.7" font-weight="bold">GF</text>
<text transform="translate(1124.74 1176) scale(1.0069 1)" font-family="'Liberation Sans', Arial, sans-serif" font-size="30.7" font-weight="bold">GF + 20 <tspan font-family="'Liberation Serif', serif" font-weight="normal">μ</tspan>M tHGA</text>
<text transform="translate(1124.74 1213) scale(1.0069 1)" font-family="'Liberation Sans', Arial, sans-serif" font-size="30.7" font-weight="bold">GF + 10 <tspan font-family="'Liberation Serif', serif" font-weight="normal">μ</tspan>M tHGA</text>
<text transform="translate(1124.74 1255.8) scale(1.0069 1)" font-family="'Liberation Sans', Arial, sans-serif" font-size="30.7" font-weight="bold">GF +   5 <tspan font-family="'Liberation Serif', serif" font-weight="normal">μ</tspan>M tHGA</text>
<text transform="translate(1124.73 1294.9) scale(1.0193 1)" font-family="'Liberation Sans', Arial, sans-serif" font-size="30.7" font-weight="bold">GF + 10 <tspan font-family="'Liberation Serif', serif" font-weight="normal">μ</tspan>M Fsk</text>
<text transform="translate(3.54 44.7) scale(0.8889 1)" font-family="'Liberation Sans', Arial, sans-serif" font-size="63" font-weight="bold">a</text>
<text transform="translate(273.51 1080.4) scale(0.9858 1)" font-family="'Liberation Sans', Arial, sans-serif" font-size="63" font-weight="bold">b</text>
</g>
</svg></body></html>
